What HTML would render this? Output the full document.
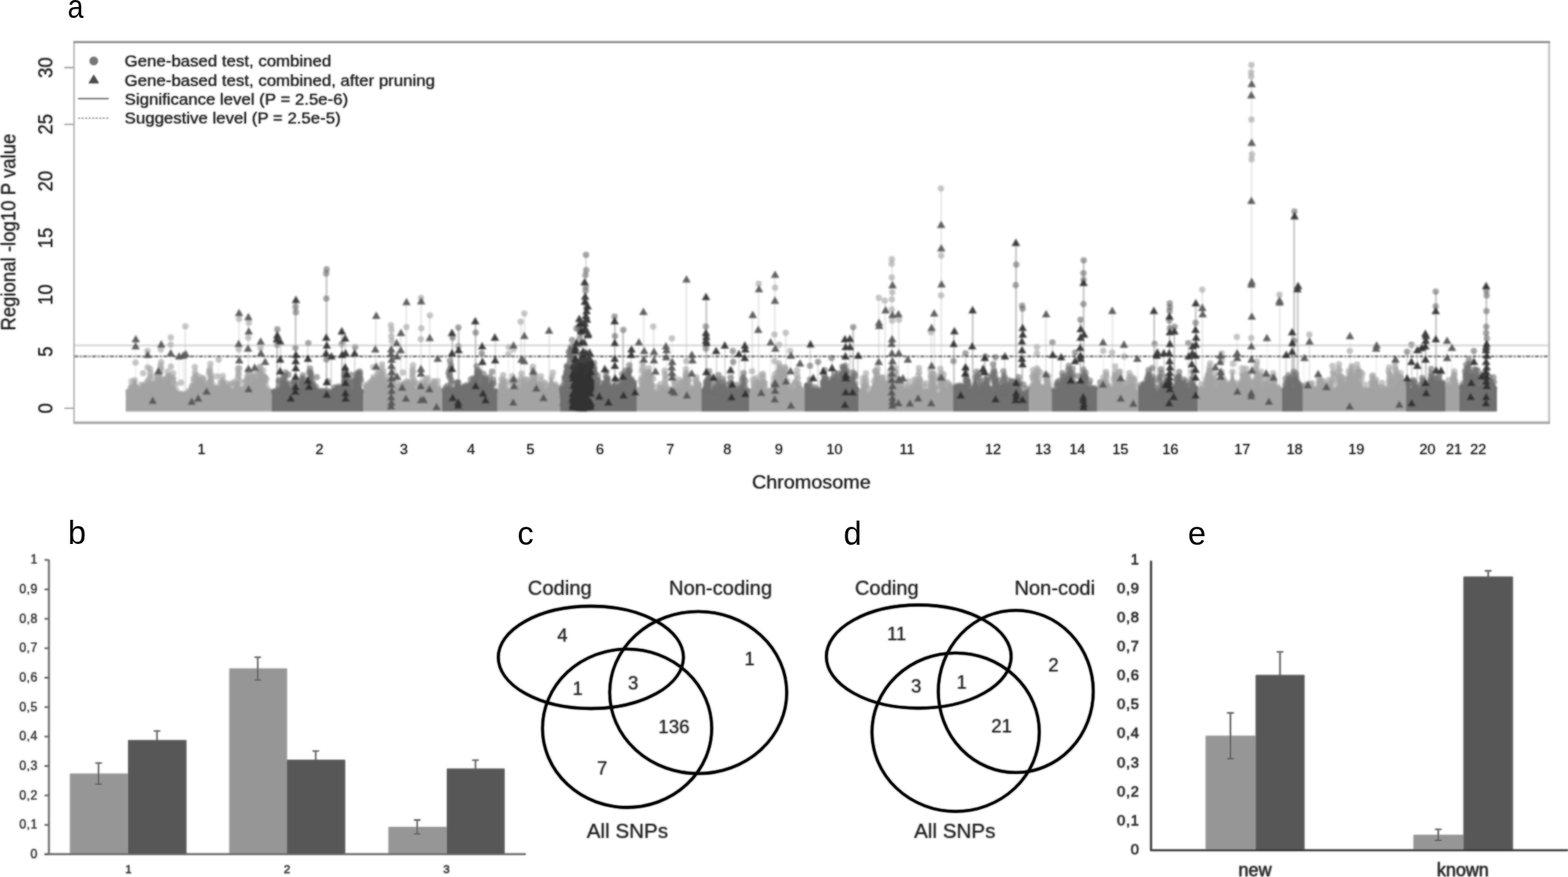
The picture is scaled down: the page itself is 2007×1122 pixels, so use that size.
<!DOCTYPE html>
<html lang="en"><head><meta charset="utf-8"><title>Figure</title><style>html,body{margin:0;padding:0;background:#fff}body{width:2007px;height:1122px;overflow:hidden}svg{display:block}</style></head><body>
<svg width="2007" height="1122" viewBox="0 0 2007 1122" font-family='"Liberation Sans", Arial, Helvetica, sans-serif'>
<defs><filter id="bl" filterUnits="userSpaceOnUse" x="0" y="0" width="2007" height="1122"><feGaussianBlur stdDeviation="1.0"/></filter><clipPath id="cpd"><rect x="1040" y="700" width="362" height="422"/></clipPath></defs>
<rect width="2007" height="1122" fill="#fff"/>
<g filter="url(#bl)">
<path d="M319.1 477.1V522.4M317.2 474.3V522.4M332.3 470.8V522.4M304.6 471.8V522.4M192 472.2V522.4M214.4 475.5V522.4M333.4 469V522.4M221.9 477.6V522.4M332.5 477V522.4M249.7 469.7V522.4M336.7 474.1V522.4M324.2 478.2V522.4M269.3 465.5V522.4M285 481.1V522.4M202.6 479.1V522.4M206.3 463.4V522.4M502.6 473.9V522.4M485.7 474.5V522.4M483.2 477.9V522.4M528.4 467.4V522.4M547.4 483.8V522.4M489.5 466.1V522.4M544.4 485.3V522.4M684.5 483.2V522.4M656.1 481.4V522.4M667.3 478.1V522.4M682.1 469V522.4M642.1 485.3V522.4M684.3 479.6V522.4M643.8 480V522.4M877.9 480.4V522.4M877.8 472.4V522.4M829.9 476.6V522.4M851 474.2V522.4M880.5 478.6V522.4M863 482.2V522.4M830.8 471.1V522.4M822.3 464.7V522.4M990.5 483.8V522.4M991.9 478.9V522.4M977.3 483.1V522.4M997.5 468.8V522.4M964.1 485.7V522.4M1020.4 473.9V522.4M997.4 465.2V522.4M1104.4 483.9V522.4M1191.6 473.7V522.4M1145.9 470.7V522.4M1204 471.8V522.4M1123.3 471.3V522.4M1176.3 471V522.4M1195.3 478V522.4M1193.7 478.7V522.4M1108.7 477.7V522.4M1322.1 473.5V522.4M1341.5 481V522.4M1339.1 479.5V522.4M1433.3 475.7V522.4M1426.7 483.3V522.4M1427.8 468.8V522.4M1445.8 477.3V522.4M1595.4 471.9V522.4M1613.7 475.7V522.4M1548.7 464.8V522.4M1546.7 480.3V522.4M1590.5 471V522.4M1608.7 462.5V522.4M1608.3 479.1V522.4M1554.6 478.4V522.4M1548 475V522.4M1623.3 483V522.4M1715.6 482.4V522.4M1713.8 466.1V522.4M1737.3 466.4V522.4M1778 470.1V522.4M1786.6 481.6V522.4M1705.8 468.2V522.4M1726.4 474.9V522.4M1785.5 463.1V522.4M1688 482.8V522.4M1729.8 471.1V522.4M1730.4 468.4V522.4M1861 475.2V522.4M173.7 434V522.4M189 449V522.4M205.8 440.6V522.4M219 431.8V522.4M229 456V522.4M234 455V522.4M238 453V522.4M280 460V522.4M334 437V522.4M340 463V522.4M508 439V522.4M560 459V522.4M657.5 442V522.4M651 444V522.4M687 497V522.4M818 438V522.4M853 443V522.4M860 432.8V522.4M886 454V522.4M986 438V522.4M997 441V522.4M1012 449V522.4M1024 465V522.4M1162 460V522.4M1327 444V522.4M1412 438V522.4M1434 484V522.4M1439 440.8V522.4M1456 459V522.4M1556 470V522.4M1562 455V522.4M1564 452V522.4M1583.6 431V522.4M1622 432.5V522.4M1669 458V522.4M1728 430V522.4M1761.6 442V522.4M1786 460V522.4M1852 436V522.4M1858 445V522.4" stroke="#a3a3a3" stroke-opacity="0.24" stroke-width="1.2" fill="none"/>
<path d="M397.7 476.8V522.4M448.6 479.6V522.4M396.6 471.7V522.4M441.9 476.9V522.4M387.3 480.4V522.4M444.6 481V522.4M441.5 473.5V522.4M363.1 480.7V522.4M387.5 484.2V522.4M576.2 461.6V522.4M618.6 478.3V522.4M610.1 468.5V522.4M805.5 467.4V522.4M733.5 481.2V522.4M725.7 469.1V522.4M725.8 468.7V522.4M776 475.6V522.4M737.4 476.1V522.4M755.1 466.2V522.4M743.2 475.2V522.4M760 464.3V522.4M925.1 484.9V522.4M907.9 475.1V522.4M951.5 477.3V522.4M919.7 479.9V522.4M1055.5 473.6V522.4M1078.8 469.1V522.4M1279.1 486.7V522.4M1253.5 478.3V522.4M1236 471.6V522.4M1271.4 466.1V522.4M1261.3 486V522.4M1263.4 481.5V522.4M1303.4 482.7V522.4M1273.3 478.2V522.4M1284.3 475.1V522.4M1290.7 486.4V522.4M1386.8 473V522.4M1360.2 477.5V522.4M1368.1 468.2V522.4M1355.7 487.4V522.4M1372.3 471.9V522.4M1526.7 475.6V522.4M1493.1 481.5V522.4M1486.1 472.6V522.4M1650.8 483.6V522.4M1656 475.5V522.4M1645.7 484.6V522.4M1649.2 480.1V522.4M1831.6 472.2V522.4M1842.7 478.3V522.4M1810.1 486.5V522.4M1902.8 478.1V522.4M1891.3 474.2V522.4M1898.2 477.9V522.4M1876.8 466.5V522.4M1880 460.4V522.4M750 326V522.4M750 345.6V522.4M750 352V522.4M750 367V522.4M750 372V522.4M750 388V522.4M750 394V522.4M359 437V522.4M394 439V522.4M424 456V522.4M442 433V522.4M454 444V522.4M586 515V522.4M617 443V522.4M621 512V522.4M634 431.8V522.4M808 447V522.4M813 502V522.4M913 483V522.4M917 449V522.4M928 442V522.4M937 492V522.4M938 449V522.4M946 453V522.4M953.5 442V522.4M1037 440.4V522.4M1047 463V522.4M1065 458V522.4M1082 434V522.4M1087.7 433.5V522.4M1098 455V522.4M1236 452V522.4M1260 458V522.4M1261 456V522.4M1274 457V522.4M1286 456V522.4M1347 438V522.4M1358 457V522.4M1376 451V522.4M1481 451V522.4M1490 452V522.4M1521 439V522.4M1526 443V522.4M1646 454V522.4M1801 450V522.4M1807 441V522.4M1814 448V522.4M1820 445V522.4M1883 490V522.4M1887 449V522.4" stroke="#6f6f6f" stroke-opacity="0.4" stroke-width="1.2" fill="none"/>
<path d="M237 417.5V522.4M306 400.4V522.4M318 405.7V522.4M481 404V522.4M501 416V522.4M513 426V522.4M520 386.5V522.4M539 381V522.4M550 403.6V522.4M667 411.6V522.4M671.4 401V522.4M703 423V522.4M824 399V522.4M836.6 417.8V522.4M878.5 357.4V522.4M963 402.8V522.4M971 363V522.4M991.8 351.5V522.4M1005.8 425.8V522.4M1125 381V522.4M1133 384.6V522.4M1141.8 331.6V522.4M1150.5 402V522.4M1192 419.5V522.4M1196 401V522.4M1204.6 241V522.4M1338.7 402V522.4M1424 397.7V522.4M1539 370.6V522.4M1602 83V522.4M1638 377V522.4M1676 428V522.4" stroke="#a3a3a3" stroke-opacity="0.42" stroke-width="1.3" fill="none"/>
<path d="M354.7 421.4V522.4M378.4 383.7V522.4M417.9 344.6V522.4M437.7 423.8V522.4M579 426V522.4M587 419V522.4M608.6 411V522.4M787 405V522.4M797.5 422V522.4M904 380V522.4M1092 418.5V522.4M1221 423.7V522.4M1245 396.8V522.4M1300.5 310.7V522.4M1308.5 391V522.4M1383 409V522.4M1387 333V522.4M1477.4 397.7V522.4M1497 388V522.4M1503 418V522.4M1530.5 388V522.4M1654 425V522.4M1656.5 270.5V522.4M1661 366V522.4M1825 427V522.4M1838 373V522.4M1902.5 366V522.4" stroke="#6f6f6f" stroke-opacity="0.7" stroke-width="1.3" fill="none"/>
<path d="M161 526.5L161 503.8L161 499.2L163 499.3L165 498.6L167 497.4L169 493L171 486.9L173 484.7L175 489.4L177 494.8L179 496.4L181.1 490.4L183.1 488.6L185.1 492.9L187.1 500.5L189.1 501.5L191.1 498.6L193.1 495L195.1 491.9L197.1 490.7L199.1 491.5L201.1 491.2L203.1 489.9L205.1 489.1L207.1 488.8L209.1 490L211.1 491.8L213.1 493.5L215.1 493.3L217.2 493L219.2 493.6L221.2 493.6L223.2 494.9L225.2 497.6L227.2 500L229.2 502.1L231.2 502.1L233.2 502.1L235.2 502.1L237.2 502.1L239.2 500.5L241.2 498.3L243.2 493.8L245.2 492.7L247.2 494.3L249.2 499.8L251.2 495.1L253.2 492.9L255.3 492.4L257.3 491.3L259.3 494.7L261.3 496.2L263.3 497L265.3 495.2L267.3 490.8L269.3 489.4L271.3 491.2L273.3 494.2L275.3 494.3L277.3 493.6L279.3 493.8L281.3 494.6L283.3 496.2L285.3 497.7L287.3 497.7L289.3 494.9L291.3 493.6L293.4 494.9L295.4 497.7L297.4 497.7L299.4 495L301.4 490.5L303.4 488.8L305.4 489.9L307.4 493.8L309.4 496.4L311.4 494.9L313.4 494.5L315.4 493.8L317.4 492.2L319.4 492.8L321.4 492.8L323.4 491.4L325.4 489.5L327.4 489.6L329.5 489.9L331.5 490.4L333.5 489.1L335.5 487.2L337.5 487.6L339.5 490.2L341.5 495.4L343.5 498.1L345.5 498.3L347.5 498.3L347.5 503.1L347.5 526.5Z" fill="#a3a3a3"/>
<path d="M347.5 526.5L347.5 503.9L347.5 499.2L349.5 499.3L351.6 499.3L353.6 497.7L355.6 498.5L357.7 498.9L359.7 497.7L361.7 493.1L363.8 489.1L365.8 488.4L367.8 490L369.9 494L371.9 496.9L373.9 495.2L376 494.2L378 494.8L380 497L382.1 497.7L384.1 498.3L386.1 498.8L388.2 498.9L390.2 498.3L392.2 498L394.3 495.3L396.3 491.5L398.3 489.6L400.4 489.6L402.4 490.8L404.4 493.3L406.4 497.3L408.5 498.3L410.5 498.3L412.5 498.3L414.6 498L416.6 497.7L418.6 499.1L420.7 499.9L422.7 499.9L424.7 499.2L426.8 496.3L428.8 494.1L430.8 493.1L432.9 492.8L434.9 493.2L436.9 494.1L439 494.7L441 494.9L443 495.2L445.1 495.7L447.1 496L449.1 499.6L451.2 499.4L453.2 490.3L455.2 485.6L457.3 484.4L459.3 485.9L461.3 490.6L463.4 497.8L465.4 498.9L465.4 503.6L465.4 526.5Z" fill="#6f6f6f"/>
<path d="M465.4 526.5L465.4 498.9L465.4 493L467.4 491.5L469.4 490.2L471.4 489.1L473.4 486.6L475.4 482.8L477.4 480.8L479.5 483.6L481.5 490.8L483.5 491.3L485.5 491.3L487.5 490.3L489.5 490.7L491.5 492L493.5 493.7L495.5 495.5L497.5 497.5L499.5 497.5L501.5 497.5L503.6 497.3L505.6 495.6L507.6 498.8L509.6 499.5L511.6 497.3L513.6 492.1L515.6 488L517.6 488.2L519.6 488.5L521.6 486L523.6 486.9L525.6 490L527.6 490.9L529.7 491.7L531.7 496.5L533.7 498.9L535.7 499L537.7 498L539.7 494L541.7 492.2L543.7 498.7L545.7 500.7L547.7 499.3L549.7 498.5L551.7 498.2L553.8 495.7L555.8 493.8L557.8 496.4L559.8 497.5L561.8 497.5L563.8 497.5L565.8 497.5L565.8 502.5L565.8 526.5Z" fill="#a3a3a3"/>
<path d="M565.8 526.5L565.8 502.6L565.8 497.6L567.8 497.9L569.9 497.5L571.9 497L573.9 497L575.9 497L578 497L580 497L582 497L584.1 497L586.1 497.5L588.1 495.9L590.1 494.2L592.2 493.1L594.2 492.4L596.2 491.8L598.3 491L600.3 490.6L602.3 490.3L604.3 490.2L606.4 490.3L608.4 489.2L610.4 482.2L612.5 484.4L614.5 491.1L616.5 492.3L618.5 493.6L620.6 495.6L622.6 496.9L624.6 497L626.7 491.8L628.7 484.8L630.7 489.8L632.7 498L634.8 498.2L636.8 497L636.8 502.1L636.8 526.5Z" fill="#6f6f6f"/>
<path d="M636.8 526.5L636.8 503.3L636.8 498.5L638.8 500.4L640.9 501.2L642.9 501L645 499.6L647 498.5L649.1 498.5L651.1 498.5L653.2 497.2L655.2 495.7L657.3 496.6L659.3 498.5L661.4 498.5L663.4 498.5L665.4 498.5L667.5 498.5L669.5 497.6L671.6 493.9L673.6 490.1L675.7 488.7L677.7 490.9L679.8 495.3L681.8 497L683.9 497.3L685.9 494.1L688 491.8L690 491L692 491.4L694.1 493.1L696.1 496.3L698.2 497.1L700.2 496.9L702.3 491.9L704.3 482.6L706.4 481L708.4 489.5L710.5 490L712.5 492.6L714.6 493.5L716.6 494.2L716.6 499.8L716.6 526.5Z" fill="#a3a3a3"/>
<path d="M716.6 526.5L716.6 500.3L716.6 494.8L718.6 496.1L720.6 496.6L722.6 491.9L724.6 484.9L726.6 485.4L728.6 488.2L730.7 490.8L732.7 495.8L734.7 497.1L736.7 497L738.7 495.3L740.7 495.3L742.7 495.3L744.7 495.3L746.7 494.4L748.7 490.9L750.7 488.4L752.7 486L754.8 483.3L756.8 481.8L758.8 481.5L760.8 482.4L762.8 486.8L764.8 491.3L766.8 495.2L768.8 494.5L770.8 486.6L772.8 488L774.8 491.1L776.8 495.3L778.9 495.3L780.9 495.3L782.9 493.1L784.9 491.5L786.9 491.7L788.9 493.7L790.9 492.7L792.9 491L794.9 489.6L796.9 488.4L798.9 486L800.9 483.9L803 482.4L805 482L807 482.7L809 483.3L811 484.7L813 487.5L815 491.6L815 497.8L815 526.5Z" fill="#6f6f6f"/>
<path d="M815 526.5L815 502.2L815 497.1L817 497.1L819 497.1L821.1 494.2L823.1 490.9L825.1 488.5L827.1 487.7L829.2 488.5L831.2 489.8L833.2 489.4L835.2 491.1L837.3 498.1L839.3 501.3L841.3 500.2L843.3 501L845.4 502.1L847.4 502.1L849.4 501.2L851.4 498L853.5 497.1L855.5 495.2L857.5 496.1L859.5 497.5L861.6 496.5L863.6 496L865.6 497.1L867.6 497.3L869.7 496.7L871.7 494.4L873.7 493.5L875.7 494L877.8 496L879.8 497.1L881.8 497.1L883.8 497.1L885.9 496.6L887.9 494.5L889.9 492.8L891.9 491.6L894 490.7L896 490.3L898 490.3L898 496.7L898 526.5Z" fill="#a3a3a3"/>
<path d="M898 526.5L898 502.9L898 498.1L900 498L902.1 495.8L904.1 494.1L906.2 493.9L908.2 496.1L910.2 499L912.3 499.2L914.3 499.4L916.4 499.6L918.4 499.9L920.4 502L922.5 502.1L924.5 499.7L926.6 501.5L928.6 502.1L930.6 501L932.7 493.5L934.7 488.6L936.8 489.9L938.8 496.8L940.8 496.7L942.9 496.6L944.9 496.7L947 494.8L949 492.1L951 492.4L953.1 495.7L955.1 498.1L957.2 498.1L959.2 498.1L959.2 502.9L959.2 526.5Z" fill="#6f6f6f"/>
<path d="M959.2 526.5L959.2 502.9L959.2 498.1L961.2 498.1L963.2 498.1L965.2 497.5L967.2 489L969.2 483.4L971.3 488.2L973.3 491L975.3 490.3L977.3 495L979.3 498.1L981.3 498.1L983.3 498.1L985.3 498.1L987.3 498.1L989.3 498.1L991.3 497.8L993.3 495.6L995.4 489L997.4 484.5L999.4 477.3L1001.4 476.4L1003.4 477.4L1005.4 479.6L1007.4 485.7L1009.4 496.7L1011.4 500.2L1013.4 499.6L1015.4 498.4L1017.4 498.3L1019.5 497.3L1021.5 496L1023.5 495.3L1025.5 495.7L1027.5 496.6L1029.5 498L1029.5 502.9L1029.5 526.5Z" fill="#a3a3a3"/>
<path d="M1029.5 526.5L1029.5 498L1029.5 491.8L1031.5 490.3L1033.6 491.1L1035.7 494.3L1037.7 497.5L1039.8 497.5L1041.8 497.5L1043.8 497.5L1045.9 497.5L1048 497.5L1050 497.5L1052 494.1L1054.1 491.6L1056.2 495.9L1058.2 497.5L1060.2 495.2L1062.3 487.7L1064.3 483.6L1066.4 482.8L1068.5 482.7L1070.5 482.7L1072.5 485.4L1074.6 485.8L1076.7 484.3L1078.7 483.1L1080.8 482.6L1082.8 483.2L1084.9 483.7L1086.9 483L1089 483.8L1091 484.2L1093 486L1095.1 489.2L1097.2 494.5L1099.2 496.1L1099.2 501.4L1099.2 526.5Z" fill="#6f6f6f"/>
<path d="M1099.2 526.5L1099.2 503.6L1099.2 498.9L1101.2 499.1L1103.2 498.8L1105.2 499.5L1107.3 500.6L1109.3 501.9L1111.3 502.1L1113.3 500.5L1115.3 496L1117.3 489.4L1119.3 486.5L1121.3 487.2L1123.4 490.8L1125.4 496L1127.4 495.7L1129.4 491.3L1131.4 486.3L1133.4 486.7L1135.4 490.2L1137.5 491.7L1139.5 486.7L1141.5 484.5L1143.5 484.4L1145.5 486.4L1147.5 490.5L1149.5 495.5L1151.5 496.8L1153.6 497.1L1155.6 496.8L1157.6 497.9L1159.6 498.9L1161.6 498.9L1163.6 498.9L1165.6 498.9L1167.7 497.5L1169.7 495.3L1171.7 494.7L1173.7 492.7L1175.7 490.8L1177.7 490.3L1179.7 493.2L1181.7 498.9L1183.8 498.9L1185.8 498.9L1187.8 499.8L1189.8 500.5L1191.8 501.1L1193.8 501.6L1195.8 501.8L1197.9 502.1L1199.9 502.1L1201.9 502.1L1203.9 495L1205.9 485.4L1207.9 487.4L1209.9 497.2L1211.9 497.7L1214 498.6L1216 491.8L1218 490.1L1220 496.9L1220 502L1220 526.5Z" fill="#a3a3a3"/>
<path d="M1220 526.5L1220 500L1220 494.4L1222 493.3L1224 492.5L1226.1 491.9L1228.1 491.6L1230.1 491.6L1232.2 491.8L1234.2 492.4L1236.2 494.1L1238.2 497.2L1240.2 498.7L1242.3 496.6L1244.3 494.8L1246.3 487.2L1248.3 481.2L1250.4 486.4L1252.4 498.6L1254.4 499.6L1256.5 498.9L1258.5 498.7L1260.5 498.7L1262.5 495.7L1264.5 494.2L1266.6 494.4L1268.6 495.1L1270.6 498L1272.7 501L1274.7 499.9L1276.7 499.8L1278.7 501.7L1280.8 502L1282.8 501.8L1284.8 501.5L1286.8 500.8L1288.9 500L1290.9 492.6L1292.9 491.5L1294.9 496.4L1297 498.7L1299 491.5L1301 489.2L1303 495.5L1305 498.7L1307.1 499.7L1309.1 501.9L1311.1 501.9L1313.2 500.3L1315.2 498.2L1317.2 495.4L1317.2 500.8L1317.2 526.5Z" fill="#6f6f6f"/>
<path d="M1317.2 526.5L1317.2 500.9L1317.2 495.5L1319.3 494.7L1321.3 494.1L1323.4 486L1325.5 479.4L1327.6 479.8L1329.6 484.1L1331.7 488.7L1333.8 493.1L1335.8 493.4L1337.9 493.8L1340 494.3L1342.1 495L1344.1 495.8L1346.2 496.7L1346.2 501.8L1346.2 526.5Z" fill="#a3a3a3"/>
<path d="M1346.2 526.5L1346.2 502.3L1346.2 497.3L1348.2 498.1L1350.2 498.6L1352.3 499L1354.3 499.1L1356.3 499L1358.3 492.9L1360.3 488.3L1362.3 488.8L1364.4 484.6L1366.4 485.5L1368.4 488.7L1370.4 488.3L1372.4 488.2L1374.4 488.4L1376.5 488.8L1378.5 490.2L1380.5 492.5L1382.5 493.4L1384.5 491.5L1386.5 485.2L1388.6 486.5L1390.6 492.4L1392.6 496.1L1394.6 497.2L1396.6 496.7L1398.6 495.3L1400.7 495L1402.7 494.9L1404.7 494.9L1404.7 500.4L1404.7 526.5Z" fill="#6f6f6f"/>
<path d="M1404.7 526.5L1404.7 494.4L1404.7 487.4L1406.7 486.9L1408.7 487L1410.7 487.8L1412.7 487.3L1414.8 486.5L1416.8 488L1418.8 490.5L1420.8 492.6L1422.8 496L1424.8 496L1426.8 492.8L1428.8 486.9L1430.8 488.7L1432.9 496L1434.9 497.1L1436.9 497.2L1438.9 496L1440.9 494.5L1442.9 495.6L1444.9 493.7L1446.9 491.1L1449 492.2L1451 496.1L1453 499.5L1455 499.4L1457 499.2L1457 503.8L1457 526.5Z" fill="#a3a3a3"/>
<path d="M1457 526.5L1457 500.3L1457 494.8L1459 493.4L1461 491L1463 488.8L1465 488.5L1467 486.1L1469 483.8L1471.1 484.2L1473.1 484.1L1475.1 490.9L1477.1 493.1L1479.1 498L1481.1 501.3L1483.1 501.1L1485.1 498.8L1487.1 498.2L1489.1 498.2L1491.1 498.2L1493.1 498.2L1495.2 498.2L1497.2 498.2L1499.2 497.1L1501.2 495.1L1503.2 490.9L1505.2 484.3L1507.2 480.4L1509.2 480.4L1511.2 483.7L1513.2 487.7L1515.2 492.4L1517.2 494.6L1519.2 496.5L1521.3 498.2L1523.3 498.2L1525.3 498.1L1527.3 495.5L1529.3 494.1L1531.3 493.9L1533.3 495L1533.3 500.5L1533.3 526.5Z" fill="#6f6f6f"/>
<path d="M1533.3 526.5L1533.3 501.3L1533.3 496L1535.3 496L1537.4 497.6L1539.4 498.5L1541.4 497.7L1543.5 493.4L1545.5 492.5L1547.5 494.9L1549.6 498.7L1551.6 496.3L1553.6 496L1555.7 496L1557.7 495.8L1559.7 490.5L1561.7 486.3L1563.8 484L1565.8 483.4L1567.8 484.6L1569.9 487.6L1571.9 490.6L1573.9 489.7L1576 477.1L1578 474.2L1580 484.3L1582.1 488.8L1584.1 494L1586.1 490.3L1588.2 487.6L1590.2 487.1L1592.2 484.4L1594.3 485.5L1596.3 485.3L1598.3 486.7L1600.4 490.8L1602.4 496.3L1604.4 496.9L1606.5 497L1608.5 497L1610.5 496.9L1612.6 496.8L1614.6 496.6L1616.6 495L1618.6 494L1620.7 494L1622.7 494.9L1624.7 493.1L1626.8 490.4L1628.8 489.1L1630.8 490.1L1632.9 492.3L1634.9 493.5L1636.9 494.4L1639 496L1641 496.8L1641 501.9L1641 526.5Z" fill="#a3a3a3"/>
<path d="M1641 526.5L1641 501.9L1641 496.8L1643.1 496.9L1645.1 496.9L1647.2 496.9L1649.2 496.9L1651.3 496.8L1653.4 496.5L1655.4 496.2L1657.5 484.5L1659.6 481.3L1661.6 487.4L1663.7 488.1L1665.7 490.8L1667.8 495.6L1667.8 501L1667.8 526.5Z" fill="#6f6f6f"/>
<path d="M1667.8 526.5L1667.8 497.1L1667.8 490.8L1669.8 491.2L1671.8 494.9L1673.9 497L1675.9 497L1677.9 497L1679.9 497L1682 497L1684 497L1686 496.2L1688 494.5L1690.1 493.5L1692.1 493.2L1694.1 493.7L1696.1 494.9L1698.2 496.9L1700.2 496.1L1702.2 495.9L1704.2 496.6L1706.3 497.7L1708.3 497.7L1710.3 497.8L1712.3 497.8L1714.4 495.7L1716.4 493.5L1718.4 492.5L1720.4 492.1L1722.5 491.6L1724.5 491.1L1726.5 490.5L1728.5 487L1730.6 482.7L1732.6 482.4L1734.6 479.2L1736.6 481.1L1738.7 486.5L1740.7 488.5L1742.7 491.1L1744.7 497L1746.8 497L1748.8 497L1750.8 497L1752.8 495.6L1754.9 487.6L1756.9 487.9L1758.9 489L1760.9 484.1L1763 485.3L1765 493.5L1767 496.4L1769 498.9L1771.1 495.6L1773.1 494.6L1775.1 495.3L1777.1 497.6L1779.2 498.9L1781.2 498.6L1783.2 498.3L1785.2 494.5L1787.3 493.1L1789.3 487.5L1791.3 486.6L1793.3 487.2L1795.4 486L1797.4 487.3L1799.4 489.3L1799.4 496L1799.4 526.5Z" fill="#a3a3a3"/>
<path d="M1799.4 526.5L1799.4 495.8L1799.4 489.1L1801.4 485.9L1803.4 488.3L1805.5 495.3L1807.5 499.6L1809.5 499.6L1811.5 501.2L1813.6 501.8L1815.6 499.2L1817.6 496.6L1819.6 493.2L1821.7 492.1L1823.7 493L1825.7 494.7L1827.7 495L1829.8 492.5L1831.8 491.2L1833.8 490.5L1835.8 489.9L1837.9 488.1L1839.9 489.8L1841.9 490.9L1843.9 488.3L1846 487.8L1848 487.9L1850 488.6L1850 495.4L1850 526.5Z" fill="#6f6f6f"/>
<path d="M1850 526.5L1850 497.9L1850 491.8L1852 491.5L1854 491.3L1856 492.4L1858 491.2L1860 487.2L1862 485.5L1864 486.3L1866 491.2L1868 494.5L1868 500.1L1868 526.5Z" fill="#a3a3a3"/>
<path d="M1868 526.5L1868 499.6L1868 493.9L1870 493.4L1872 493.1L1874 492.8L1876 492.7L1878 490L1880 482.8L1882 477.2L1884 475.3L1886 476.9L1888 482.1L1890 490.5L1892 495.4L1894 493.5L1896 492.1L1898 492.4L1900 495.5L1902 493.5L1904 492.9L1906 489.8L1908 485.9L1910 485L1912 487.3L1914 492.8L1916 495.4L1916 500.8L1916 526.5Z" fill="#6f6f6f"/>
<g fill="#a3a3a3" fill-opacity="0.62">
<circle cx="164.5" cy="501" r="4.1"/><circle cx="165.7" cy="500.4" r="4.1"/><circle cx="168.5" cy="494.7" r="4.1"/><circle cx="172.5" cy="486.5" r="4.1"/><circle cx="176.6" cy="496.6" r="4.1"/><circle cx="180.6" cy="492.1" r="4.1"/><circle cx="185" cy="494.6" r="4.1"/><circle cx="189.2" cy="503.3" r="4.1"/><circle cx="192.7" cy="496.7" r="4.1"/><circle cx="196.3" cy="492.4" r="4.1"/><circle cx="201" cy="492.9" r="4.1"/><circle cx="204.9" cy="490.9" r="4.1"/><circle cx="209.2" cy="491.7" r="4.1"/><circle cx="213.9" cy="495.2" r="4.1"/><circle cx="217.5" cy="494.7" r="4.1"/><circle cx="221.2" cy="495.3" r="4.1"/><circle cx="225.4" cy="499.4" r="4.1"/><circle cx="229.5" cy="503.8" r="4.1"/><circle cx="232.5" cy="503.8" r="4.1"/><circle cx="237.8" cy="503.8" r="4.1"/><circle cx="241.7" cy="500.1" r="4.1"/><circle cx="245.8" cy="494.5" r="4.1"/><circle cx="249.7" cy="501.5" r="4.1"/><circle cx="253.1" cy="494.6" r="4.1"/><circle cx="257.1" cy="493.1" r="4.1"/><circle cx="260.6" cy="497.9" r="4.1"/><circle cx="265.5" cy="497" r="4.1"/><circle cx="268.6" cy="491.2" r="4.1"/><circle cx="272.6" cy="495.9" r="4.1"/><circle cx="276.8" cy="495.4" r="4.1"/><circle cx="280.8" cy="496.3" r="4.1"/><circle cx="285.1" cy="499.5" r="4.1"/><circle cx="288.6" cy="496.7" r="4.1"/><circle cx="292.6" cy="496.6" r="4.1"/><circle cx="296.8" cy="499.5" r="4.1"/><circle cx="300.7" cy="492.3" r="4.1"/><circle cx="305.2" cy="491.7" r="4.1"/><circle cx="308.6" cy="498.2" r="4.1"/><circle cx="314" cy="496.2" r="4.1"/><circle cx="317.6" cy="494" r="4.1"/><circle cx="320.9" cy="494.5" r="4.1"/><circle cx="325" cy="491.3" r="4.1"/><circle cx="329.2" cy="491.6" r="4.1"/><circle cx="333.2" cy="490.9" r="4.1"/><circle cx="336.9" cy="489.3" r="4.1"/><circle cx="342" cy="497.1" r="4.1"/><circle cx="344" cy="500" r="4.1"/><circle cx="247.8" cy="484.3" r="4.1"/><circle cx="247.9" cy="488.9" r="4.1"/><circle cx="249.2" cy="491.8" r="4.1"/><circle cx="246.2" cy="494.4" r="4.1"/><circle cx="259.3" cy="489.5" r="4.1"/><circle cx="259.3" cy="493.9" r="4.1"/><circle cx="318.9" cy="477.1" r="4.1"/><circle cx="318.5" cy="482.5" r="4.1"/><circle cx="319.2" cy="486.4" r="4.1"/><circle cx="318.4" cy="490.3" r="4.1"/><circle cx="320.7" cy="493.1" r="4.1"/><circle cx="317.4" cy="474.3" r="4.1"/><circle cx="316.7" cy="480.8" r="4.1"/><circle cx="316.8" cy="484.2" r="4.1"/><circle cx="315.3" cy="486.6" r="4.1"/><circle cx="315.9" cy="489.5" r="4.1"/><circle cx="320.1" cy="493.2" r="4.1"/><circle cx="332.1" cy="470.8" r="4.1"/><circle cx="331.7" cy="475.8" r="4.1"/><circle cx="331.4" cy="478.5" r="4.1"/><circle cx="333.9" cy="482.1" r="4.1"/><circle cx="332.2" cy="486.1" r="4.1"/><circle cx="334.1" cy="489.8" r="4.1"/><circle cx="333.4" cy="492.3" r="4.1"/><circle cx="304.6" cy="471.8" r="4.1"/><circle cx="305.2" cy="476.7" r="4.1"/><circle cx="305.5" cy="479.7" r="4.1"/><circle cx="304.2" cy="484" r="4.1"/><circle cx="307" cy="487.1" r="4.1"/><circle cx="302.6" cy="490.9" r="4.1"/><circle cx="192.2" cy="472.2" r="4.1"/><circle cx="192.6" cy="477" r="4.1"/><circle cx="192.5" cy="481.3" r="4.1"/><circle cx="192.2" cy="484.3" r="4.1"/><circle cx="189.5" cy="486.9" r="4.1"/><circle cx="192.9" cy="491.2" r="4.1"/><circle cx="195.2" cy="494.6" r="4.1"/><circle cx="195.1" cy="497.8" r="4.1"/><circle cx="202.5" cy="484.7" r="4.1"/><circle cx="202.8" cy="489.8" r="4.1"/><circle cx="202.4" cy="492.7" r="4.1"/><circle cx="327.4" cy="481.7" r="4.1"/><circle cx="328.2" cy="487.7" r="4.1"/><circle cx="328.7" cy="490.9" r="4.1"/><circle cx="259.5" cy="483.8" r="4.1"/><circle cx="259.3" cy="489.5" r="4.1"/><circle cx="260.8" cy="491.8" r="4.1"/><circle cx="259.8" cy="494.5" r="4.1"/><circle cx="264.3" cy="489.5" r="4.1"/><circle cx="264.9" cy="495.5" r="4.1"/><circle cx="264.5" cy="498" r="4.1"/><circle cx="214.4" cy="475.5" r="4.1"/><circle cx="214.9" cy="481.5" r="4.1"/><circle cx="214.3" cy="485.7" r="4.1"/><circle cx="214.5" cy="489.2" r="4.1"/><circle cx="215.4" cy="492.6" r="4.1"/><circle cx="260.5" cy="484.7" r="4.1"/><circle cx="260.9" cy="491.1" r="4.1"/><circle cx="259.5" cy="495.4" r="4.1"/><circle cx="333.1" cy="469" r="4.1"/><circle cx="333.3" cy="473.7" r="4.1"/><circle cx="332.6" cy="476.2" r="4.1"/><circle cx="334.1" cy="478.7" r="4.1"/><circle cx="335.4" cy="482.6" r="4.1"/><circle cx="334.7" cy="485.2" r="4.1"/><circle cx="330.7" cy="488.9" r="4.1"/><circle cx="338.1" cy="481.5" r="4.1"/><circle cx="337.7" cy="487.1" r="4.1"/><circle cx="313.5" cy="489.1" r="4.1"/><circle cx="313.3" cy="495" r="4.1"/><circle cx="221.5" cy="477.6" r="4.1"/><circle cx="221.7" cy="483.5" r="4.1"/><circle cx="221.4" cy="485.9" r="4.1"/><circle cx="221.9" cy="489.5" r="4.1"/><circle cx="224.4" cy="491.9" r="4.1"/><circle cx="338.3" cy="482.9" r="4.1"/><circle cx="339" cy="487.3" r="4.1"/><circle cx="188.5" cy="491.6" r="4.1"/><circle cx="187.7" cy="498.3" r="4.1"/><circle cx="189.4" cy="500.9" r="4.1"/><circle cx="289.7" cy="490.4" r="4.1"/><circle cx="289.9" cy="496.8" r="4.1"/><circle cx="332.7" cy="477" r="4.1"/><circle cx="333.2" cy="481.6" r="4.1"/><circle cx="333.6" cy="484.1" r="4.1"/><circle cx="331.8" cy="487.3" r="4.1"/><circle cx="334.7" cy="490.8" r="4.1"/><circle cx="187.9" cy="489.6" r="4.1"/><circle cx="187.4" cy="494.3" r="4.1"/><circle cx="187.2" cy="496.7" r="4.1"/><circle cx="187.3" cy="499.7" r="4.1"/><circle cx="216.5" cy="483" r="4.1"/><circle cx="215.8" cy="488.3" r="4.1"/><circle cx="215.3" cy="491.2" r="4.1"/><circle cx="217" cy="495" r="4.1"/><circle cx="249.4" cy="469.7" r="4.1"/><circle cx="249.6" cy="476.4" r="4.1"/><circle cx="250.7" cy="479.8" r="4.1"/><circle cx="249.8" cy="482.9" r="4.1"/><circle cx="252.3" cy="486.6" r="4.1"/><circle cx="251.8" cy="489.7" r="4.1"/><circle cx="250.8" cy="493.4" r="4.1"/><circle cx="248.4" cy="496.6" r="4.1"/><circle cx="246.4" cy="499" r="4.1"/><circle cx="251.9" cy="501.5" r="4.1"/><circle cx="194.4" cy="490.5" r="4.1"/><circle cx="284.5" cy="489.3" r="4.1"/><circle cx="284.6" cy="494.5" r="4.1"/><circle cx="284.5" cy="497.2" r="4.1"/><circle cx="336.5" cy="474.1" r="4.1"/><circle cx="336.3" cy="481.3" r="4.1"/><circle cx="335.2" cy="484.3" r="4.1"/><circle cx="336.6" cy="487.4" r="4.1"/><circle cx="200.5" cy="481" r="4.1"/><circle cx="200.1" cy="486.1" r="4.1"/><circle cx="199.5" cy="489.3" r="4.1"/><circle cx="200.1" cy="491.7" r="4.1"/><circle cx="269.7" cy="478.5" r="4.1"/><circle cx="269.9" cy="484.7" r="4.1"/><circle cx="269.2" cy="488.9" r="4.1"/><circle cx="341" cy="485" r="4.1"/><circle cx="339.9" cy="491.3" r="4.1"/><circle cx="324.4" cy="478.2" r="4.1"/><circle cx="323.5" cy="484.9" r="4.1"/><circle cx="324.2" cy="488.3" r="4.1"/><circle cx="325.5" cy="492.4" r="4.1"/><circle cx="269.4" cy="465.5" r="4.1"/><circle cx="268.7" cy="471.9" r="4.1"/><circle cx="268.2" cy="474.3" r="4.1"/><circle cx="267.6" cy="477.4" r="4.1"/><circle cx="269.6" cy="481.4" r="4.1"/><circle cx="270.1" cy="485" r="4.1"/><circle cx="269.2" cy="488.7" r="4.1"/><circle cx="271.8" cy="491" r="4.1"/><circle cx="254.9" cy="481.8" r="4.1"/><circle cx="255.2" cy="486.4" r="4.1"/><circle cx="253.5" cy="489.2" r="4.1"/><circle cx="255.7" cy="492.1" r="4.1"/><circle cx="256" cy="494.8" r="4.1"/><circle cx="253.2" cy="486.8" r="4.1"/><circle cx="253.7" cy="493.1" r="4.1"/><circle cx="253.6" cy="496.7" r="4.1"/><circle cx="191.5" cy="492.1" r="4.1"/><circle cx="191.4" cy="497.4" r="4.1"/><circle cx="190" cy="499.7" r="4.1"/><circle cx="285.1" cy="481.1" r="4.1"/><circle cx="285" cy="486.3" r="4.1"/><circle cx="284.9" cy="489.6" r="4.1"/><circle cx="286.6" cy="492.1" r="4.1"/><circle cx="287.4" cy="494.9" r="4.1"/><circle cx="168.4" cy="487.8" r="4.1"/><circle cx="168" cy="495" r="4.1"/><circle cx="167.3" cy="497.8" r="4.1"/><circle cx="202.3" cy="479.1" r="4.1"/><circle cx="203.5" cy="485" r="4.1"/><circle cx="203.6" cy="487.6" r="4.1"/><circle cx="204.2" cy="491" r="4.1"/><circle cx="206.3" cy="463.4" r="4.1"/><circle cx="205.4" cy="467.8" r="4.1"/><circle cx="206.2" cy="471.2" r="4.1"/><circle cx="204.8" cy="474.1" r="4.1"/><circle cx="205.3" cy="477.1" r="4.1"/><circle cx="203.2" cy="481.1" r="4.1"/><circle cx="208.8" cy="485" r="4.1"/><circle cx="209.9" cy="487.6" r="4.1"/><circle cx="325.8" cy="482.6" r="4.1"/><circle cx="326.9" cy="488.1" r="4.1"/><circle cx="325.5" cy="491.6" r="4.1"/><circle cx="214.1" cy="491.4" r="4.1"/><circle cx="183.2" cy="477.5" r="4.1"/><circle cx="216" cy="481" r="4.1"/><circle cx="209.5" cy="485.4" r="4.1"/><circle cx="256.2" cy="488.8" r="4.1"/><circle cx="231.6" cy="489.5" r="4.1"/><circle cx="322.8" cy="481.9" r="4.1"/><circle cx="277.6" cy="481.6" r="4.1"/><circle cx="332.9" cy="482.5" r="4.1"/><circle cx="293.4" cy="492.9" r="4.1"/><circle cx="295.7" cy="491" r="4.1"/><circle cx="299.4" cy="488.8" r="4.1"/><circle cx="216.1" cy="491.3" r="4.1"/><circle cx="330.4" cy="487" r="4.1"/><circle cx="249.3" cy="494.3" r="4.1"/><circle cx="218.2" cy="482.9" r="4.1"/><circle cx="339.3" cy="483.1" r="4.1"/><circle cx="282.1" cy="489.6" r="4.1"/><circle cx="468.9" cy="494.8" r="4.1"/><circle cx="469.4" cy="491.9" r="4.1"/><circle cx="474.2" cy="488.3" r="4.1"/><circle cx="478.1" cy="482.5" r="4.1"/><circle cx="480.9" cy="492.6" r="4.1"/><circle cx="485.9" cy="493.1" r="4.1"/><circle cx="490.2" cy="492.4" r="4.1"/><circle cx="492.8" cy="495.4" r="4.1"/><circle cx="497.3" cy="499.2" r="4.1"/><circle cx="502" cy="499.2" r="4.1"/><circle cx="505" cy="497.3" r="4.1"/><circle cx="510.2" cy="501.3" r="4.1"/><circle cx="513.2" cy="493.8" r="4.1"/><circle cx="518.1" cy="489.9" r="4.1"/><circle cx="521.1" cy="487.8" r="4.1"/><circle cx="525.6" cy="491.7" r="4.1"/><circle cx="530.3" cy="493.4" r="4.1"/><circle cx="533.2" cy="500.6" r="4.1"/><circle cx="537.3" cy="499.7" r="4.1"/><circle cx="541.7" cy="493.9" r="4.1"/><circle cx="545.4" cy="502.4" r="4.1"/><circle cx="549" cy="500.2" r="4.1"/><circle cx="553.2" cy="497.4" r="4.1"/><circle cx="557.2" cy="498.1" r="4.1"/><circle cx="562.3" cy="499.2" r="4.1"/><circle cx="562.3" cy="499.2" r="4.1"/><circle cx="552.4" cy="492.8" r="4.1"/><circle cx="552.2" cy="497.5" r="4.1"/><circle cx="502.7" cy="473.9" r="4.1"/><circle cx="503.4" cy="479.9" r="4.1"/><circle cx="504.1" cy="482.4" r="4.1"/><circle cx="502.2" cy="486.1" r="4.1"/><circle cx="501.4" cy="490" r="4.1"/><circle cx="503.1" cy="494.3" r="4.1"/><circle cx="504.6" cy="497.4" r="4.1"/><circle cx="485.4" cy="474.5" r="4.1"/><circle cx="485.3" cy="481.2" r="4.1"/><circle cx="487.2" cy="484.9" r="4.1"/><circle cx="486.4" cy="488.4" r="4.1"/><circle cx="483.1" cy="491.3" r="4.1"/><circle cx="483.1" cy="477.9" r="4.1"/><circle cx="484" cy="483.8" r="4.1"/><circle cx="482.4" cy="486.4" r="4.1"/><circle cx="481.2" cy="490" r="4.1"/><circle cx="482.4" cy="492.4" r="4.1"/><circle cx="502.5" cy="491.4" r="4.1"/><circle cx="501.8" cy="497.5" r="4.1"/><circle cx="513.6" cy="492.3" r="4.1"/><circle cx="512.6" cy="497.3" r="4.1"/><circle cx="528.6" cy="467.4" r="4.1"/><circle cx="527.9" cy="473" r="4.1"/><circle cx="528.8" cy="475.3" r="4.1"/><circle cx="527.8" cy="478.8" r="4.1"/><circle cx="528.1" cy="482.4" r="4.1"/><circle cx="529.8" cy="486.6" r="4.1"/><circle cx="531.4" cy="489.5" r="4.1"/><circle cx="528.6" cy="491.9" r="4.1"/><circle cx="491.6" cy="486.4" r="4.1"/><circle cx="491.5" cy="490.8" r="4.1"/><circle cx="482.6" cy="485.1" r="4.1"/><circle cx="482.8" cy="490.9" r="4.1"/><circle cx="485.4" cy="484.1" r="4.1"/><circle cx="486.3" cy="488.6" r="4.1"/><circle cx="486.2" cy="492.5" r="4.1"/><circle cx="547.4" cy="483.8" r="4.1"/><circle cx="547.3" cy="490.3" r="4.1"/><circle cx="546.2" cy="493.1" r="4.1"/><circle cx="545.5" cy="495.9" r="4.1"/><circle cx="548.7" cy="498.9" r="4.1"/><circle cx="549.6" cy="502.6" r="4.1"/><circle cx="493.9" cy="482.2" r="4.1"/><circle cx="494" cy="488.9" r="4.1"/><circle cx="494.4" cy="491.7" r="4.1"/><circle cx="489.1" cy="466.1" r="4.1"/><circle cx="488.9" cy="471.2" r="4.1"/><circle cx="490.8" cy="475.1" r="4.1"/><circle cx="488.7" cy="478.9" r="4.1"/><circle cx="488.6" cy="483" r="4.1"/><circle cx="492" cy="485.8" r="4.1"/><circle cx="490.9" cy="489.4" r="4.1"/><circle cx="560.1" cy="487.7" r="4.1"/><circle cx="560.5" cy="494.1" r="4.1"/><circle cx="560.5" cy="497.3" r="4.1"/><circle cx="497.9" cy="491.5" r="4.1"/><circle cx="498.6" cy="496.1" r="4.1"/><circle cx="496.4" cy="498.7" r="4.1"/><circle cx="554.9" cy="487.9" r="4.1"/><circle cx="554.4" cy="492.4" r="4.1"/><circle cx="555.6" cy="496.1" r="4.1"/><circle cx="537.6" cy="494.7" r="4.1"/><circle cx="538.1" cy="500.1" r="4.1"/><circle cx="552" cy="493.9" r="4.1"/><circle cx="556.4" cy="489" r="4.1"/><circle cx="555.8" cy="493.7" r="4.1"/><circle cx="544.7" cy="485.3" r="4.1"/><circle cx="544" cy="491.5" r="4.1"/><circle cx="543.2" cy="494" r="4.1"/><circle cx="543.2" cy="497.9" r="4.1"/><circle cx="508.4" cy="495" r="4.1"/><circle cx="509" cy="500.1" r="4.1"/><circle cx="499" cy="484.8" r="4.1"/><circle cx="515.9" cy="476.7" r="4.1"/><circle cx="526.5" cy="488.2" r="4.1"/><circle cx="507.6" cy="489.1" r="4.1"/><circle cx="540.8" cy="488.5" r="4.1"/><circle cx="534.5" cy="491.2" r="4.1"/><circle cx="489.4" cy="478.8" r="4.1"/><circle cx="477.8" cy="469.8" r="4.1"/><circle cx="485.1" cy="489.9" r="4.1"/><circle cx="488.1" cy="480" r="4.1"/><circle cx="640.3" cy="500.2" r="4.1"/><circle cx="640.3" cy="503" r="4.1"/><circle cx="645.2" cy="501.4" r="4.1"/><circle cx="649.4" cy="500.2" r="4.1"/><circle cx="653.9" cy="499" r="4.1"/><circle cx="657" cy="498.3" r="4.1"/><circle cx="662.1" cy="500.2" r="4.1"/><circle cx="665.5" cy="500.2" r="4.1"/><circle cx="669.5" cy="499.3" r="4.1"/><circle cx="674.3" cy="491.9" r="4.1"/><circle cx="677" cy="492.6" r="4.1"/><circle cx="682.2" cy="498.7" r="4.1"/><circle cx="686.1" cy="495.9" r="4.1"/><circle cx="689.7" cy="492.7" r="4.1"/><circle cx="694.7" cy="494.8" r="4.1"/><circle cx="698" cy="498.9" r="4.1"/><circle cx="702.2" cy="493.7" r="4.1"/><circle cx="706.4" cy="482.8" r="4.1"/><circle cx="710.9" cy="491.7" r="4.1"/><circle cx="713.1" cy="495.3" r="4.1"/><circle cx="672.1" cy="485" r="4.1"/><circle cx="671.7" cy="491.7" r="4.1"/><circle cx="671.8" cy="495.7" r="4.1"/><circle cx="660.7" cy="488" r="4.1"/><circle cx="660.9" cy="494.3" r="4.1"/><circle cx="659.8" cy="497.3" r="4.1"/><circle cx="660.7" cy="500.2" r="4.1"/><circle cx="697.3" cy="492.2" r="4.1"/><circle cx="679.8" cy="491.1" r="4.1"/><circle cx="679.4" cy="495.5" r="4.1"/><circle cx="684.7" cy="483.2" r="4.1"/><circle cx="684.7" cy="490.2" r="4.1"/><circle cx="684.9" cy="493.8" r="4.1"/><circle cx="684.9" cy="497.6" r="4.1"/><circle cx="656" cy="481.4" r="4.1"/><circle cx="655.3" cy="488" r="4.1"/><circle cx="654.7" cy="490.7" r="4.1"/><circle cx="657.8" cy="494.6" r="4.1"/><circle cx="667.5" cy="478.1" r="4.1"/><circle cx="666.8" cy="484.1" r="4.1"/><circle cx="667.1" cy="487" r="4.1"/><circle cx="667" cy="490" r="4.1"/><circle cx="669.5" cy="493.6" r="4.1"/><circle cx="667.7" cy="496.1" r="4.1"/><circle cx="664.5" cy="498.5" r="4.1"/><circle cx="682.1" cy="469" r="4.1"/><circle cx="681.9" cy="473.4" r="4.1"/><circle cx="683.4" cy="477" r="4.1"/><circle cx="682" cy="481.3" r="4.1"/><circle cx="680" cy="484.4" r="4.1"/><circle cx="680.3" cy="488.1" r="4.1"/><circle cx="678.5" cy="490.7" r="4.1"/><circle cx="683.7" cy="493" r="4.1"/><circle cx="686.3" cy="495.6" r="4.1"/><circle cx="685.4" cy="498.1" r="4.1"/><circle cx="641.9" cy="485.3" r="4.1"/><circle cx="641.5" cy="491.8" r="4.1"/><circle cx="642.9" cy="494.2" r="4.1"/><circle cx="643.5" cy="498" r="4.1"/><circle cx="640.3" cy="501.8" r="4.1"/><circle cx="692.1" cy="481.4" r="4.1"/><circle cx="692.6" cy="486.5" r="4.1"/><circle cx="690.3" cy="490.2" r="4.1"/><circle cx="692.3" cy="492.6" r="4.1"/><circle cx="646.7" cy="492.4" r="4.1"/><circle cx="647.2" cy="497.2" r="4.1"/><circle cx="645.2" cy="500.6" r="4.1"/><circle cx="682.2" cy="487.7" r="4.1"/><circle cx="682.6" cy="492.5" r="4.1"/><circle cx="682.5" cy="495.6" r="4.1"/><circle cx="671" cy="489.2" r="4.1"/><circle cx="671.4" cy="496.3" r="4.1"/><circle cx="662.2" cy="494.2" r="4.1"/><circle cx="662.4" cy="500.7" r="4.1"/><circle cx="684.4" cy="479.6" r="4.1"/><circle cx="684.2" cy="484.9" r="4.1"/><circle cx="683.9" cy="489" r="4.1"/><circle cx="684.7" cy="492.7" r="4.1"/><circle cx="685.9" cy="496.9" r="4.1"/><circle cx="640.9" cy="494.6" r="4.1"/><circle cx="641.5" cy="500.7" r="4.1"/><circle cx="644.1" cy="480" r="4.1"/><circle cx="644" cy="486.9" r="4.1"/><circle cx="644.9" cy="489.8" r="4.1"/><circle cx="644.6" cy="493.7" r="4.1"/><circle cx="643" cy="497.9" r="4.1"/><circle cx="644.2" cy="500.4" r="4.1"/><circle cx="655.2" cy="487.1" r="4.1"/><circle cx="707.7" cy="476.8" r="4.1"/><circle cx="684.4" cy="487.9" r="4.1"/><circle cx="674.2" cy="486.3" r="4.1"/><circle cx="659.1" cy="486.4" r="4.1"/><circle cx="697.6" cy="489.5" r="4.1"/><circle cx="647.1" cy="487.7" r="4.1"/><circle cx="818.5" cy="498.9" r="4.1"/><circle cx="818.5" cy="498.9" r="4.1"/><circle cx="822.9" cy="492.7" r="4.1"/><circle cx="827.1" cy="489.4" r="4.1"/><circle cx="831.6" cy="491.5" r="4.1"/><circle cx="834.6" cy="492.8" r="4.1"/><circle cx="838.9" cy="503" r="4.1"/><circle cx="844.1" cy="502.8" r="4.1"/><circle cx="847.8" cy="503.8" r="4.1"/><circle cx="850.9" cy="499.8" r="4.1"/><circle cx="855.2" cy="497" r="4.1"/><circle cx="859.3" cy="499.2" r="4.1"/><circle cx="863.9" cy="497.7" r="4.1"/><circle cx="867.8" cy="499" r="4.1"/><circle cx="872.2" cy="496.1" r="4.1"/><circle cx="876.2" cy="495.7" r="4.1"/><circle cx="879.8" cy="498.9" r="4.1"/><circle cx="884.2" cy="498.9" r="4.1"/><circle cx="888.3" cy="496.3" r="4.1"/><circle cx="892.3" cy="493.3" r="4.1"/><circle cx="894.5" cy="492.1" r="4.1"/><circle cx="878.2" cy="480.4" r="4.1"/><circle cx="878.6" cy="485.1" r="4.1"/><circle cx="878.7" cy="487.5" r="4.1"/><circle cx="877.9" cy="491" r="4.1"/><circle cx="878.2" cy="495.3" r="4.1"/><circle cx="877.9" cy="472.4" r="4.1"/><circle cx="877.7" cy="477.8" r="4.1"/><circle cx="878.4" cy="481.1" r="4.1"/><circle cx="877.3" cy="484" r="4.1"/><circle cx="877.2" cy="487.5" r="4.1"/><circle cx="879.6" cy="490.4" r="4.1"/><circle cx="877.8" cy="494.5" r="4.1"/><circle cx="875.1" cy="497.7" r="4.1"/><circle cx="829.9" cy="476.6" r="4.1"/><circle cx="830.7" cy="481.2" r="4.1"/><circle cx="830.9" cy="484.2" r="4.1"/><circle cx="831.8" cy="488.2" r="4.1"/><circle cx="850.6" cy="474.2" r="4.1"/><circle cx="851.1" cy="478.7" r="4.1"/><circle cx="852.2" cy="482" r="4.1"/><circle cx="851.1" cy="485.9" r="4.1"/><circle cx="851.1" cy="490.3" r="4.1"/><circle cx="852.2" cy="493.6" r="4.1"/><circle cx="849.9" cy="496.8" r="4.1"/><circle cx="849.7" cy="500.3" r="4.1"/><circle cx="869.4" cy="485.9" r="4.1"/><circle cx="869.5" cy="491.3" r="4.1"/><circle cx="870" cy="494.8" r="4.1"/><circle cx="891.3" cy="482.7" r="4.1"/><circle cx="892.3" cy="488.9" r="4.1"/><circle cx="891.4" cy="491.9" r="4.1"/><circle cx="832.2" cy="482.5" r="4.1"/><circle cx="831.8" cy="489.2" r="4.1"/><circle cx="833" cy="491.8" r="4.1"/><circle cx="880.5" cy="478.6" r="4.1"/><circle cx="880.1" cy="483.4" r="4.1"/><circle cx="880.6" cy="486.7" r="4.1"/><circle cx="879.2" cy="489.5" r="4.1"/><circle cx="881.1" cy="493.1" r="4.1"/><circle cx="883.7" cy="496.1" r="4.1"/><circle cx="822.4" cy="485.4" r="4.1"/><circle cx="822.5" cy="490.7" r="4.1"/><circle cx="821.6" cy="493" r="4.1"/><circle cx="862.7" cy="482.2" r="4.1"/><circle cx="863.1" cy="488" r="4.1"/><circle cx="863.4" cy="490.9" r="4.1"/><circle cx="865" cy="494.3" r="4.1"/><circle cx="862.5" cy="497.8" r="4.1"/><circle cx="830.4" cy="471.1" r="4.1"/><circle cx="830.1" cy="475.8" r="4.1"/><circle cx="831.7" cy="479.1" r="4.1"/><circle cx="832" cy="482.7" r="4.1"/><circle cx="828.2" cy="485.2" r="4.1"/><circle cx="829.6" cy="489.1" r="4.1"/><circle cx="845.4" cy="496.6" r="4.1"/><circle cx="846.3" cy="501.3" r="4.1"/><circle cx="845.1" cy="491.6" r="4.1"/><circle cx="845.9" cy="496.1" r="4.1"/><circle cx="846.5" cy="499.6" r="4.1"/><circle cx="845.7" cy="502.9" r="4.1"/><circle cx="822.6" cy="464.7" r="4.1"/><circle cx="823.1" cy="470" r="4.1"/><circle cx="821.7" cy="474" r="4.1"/><circle cx="824.2" cy="477.5" r="4.1"/><circle cx="824.6" cy="480.8" r="4.1"/><circle cx="821.6" cy="483.7" r="4.1"/><circle cx="820.2" cy="487.4" r="4.1"/><circle cx="825.5" cy="490.4" r="4.1"/><circle cx="824.9" cy="493.7" r="4.1"/><circle cx="831.8" cy="481.9" r="4.1"/><circle cx="831.6" cy="489.1" r="4.1"/><circle cx="827.5" cy="476.6" r="4.1"/><circle cx="826.8" cy="482.2" r="4.1"/><circle cx="828.6" cy="484.7" r="4.1"/><circle cx="826.6" cy="487.8" r="4.1"/><circle cx="839.9" cy="495" r="4.1"/><circle cx="840" cy="501.3" r="4.1"/><circle cx="871.8" cy="489.8" r="4.1"/><circle cx="828.6" cy="481.1" r="4.1"/><circle cx="881.7" cy="486.3" r="4.1"/><circle cx="830.9" cy="483" r="4.1"/><circle cx="873.2" cy="488.5" r="4.1"/><circle cx="890.9" cy="489" r="4.1"/><circle cx="890.3" cy="485.5" r="4.1"/><circle cx="836" cy="484.4" r="4.1"/><circle cx="828.8" cy="478" r="4.1"/><circle cx="962.7" cy="499.8" r="4.1"/><circle cx="963.1" cy="499.8" r="4.1"/><circle cx="968" cy="490.7" r="4.1"/><circle cx="970.6" cy="490" r="4.1"/><circle cx="974.5" cy="492" r="4.1"/><circle cx="979.2" cy="499.8" r="4.1"/><circle cx="982.8" cy="499.8" r="4.1"/><circle cx="987.7" cy="499.8" r="4.1"/><circle cx="990.5" cy="499.5" r="4.1"/><circle cx="995.9" cy="490.7" r="4.1"/><circle cx="999.9" cy="479" r="4.1"/><circle cx="1003.8" cy="479.2" r="4.1"/><circle cx="1007.3" cy="487.4" r="4.1"/><circle cx="1011.1" cy="502" r="4.1"/><circle cx="1015.7" cy="500.2" r="4.1"/><circle cx="1019.5" cy="499.1" r="4.1"/><circle cx="1023.3" cy="497" r="4.1"/><circle cx="1026" cy="498.3" r="4.1"/><circle cx="990.8" cy="483.8" r="4.1"/><circle cx="989.9" cy="490.8" r="4.1"/><circle cx="990.4" cy="493.7" r="4.1"/><circle cx="989.9" cy="497.2" r="4.1"/><circle cx="988.4" cy="499.9" r="4.1"/><circle cx="992.2" cy="478.9" r="4.1"/><circle cx="992.8" cy="486.1" r="4.1"/><circle cx="992.8" cy="489.7" r="4.1"/><circle cx="992.6" cy="492.1" r="4.1"/><circle cx="990.8" cy="495.7" r="4.1"/><circle cx="994.7" cy="499.2" r="4.1"/><circle cx="1003.4" cy="470.3" r="4.1"/><circle cx="1002.6" cy="477.3" r="4.1"/><circle cx="1005.2" cy="470.3" r="4.1"/><circle cx="1005.2" cy="476.5" r="4.1"/><circle cx="1005.2" cy="480" r="4.1"/><circle cx="998.1" cy="476" r="4.1"/><circle cx="999.1" cy="480.9" r="4.1"/><circle cx="997.2" cy="484.3" r="4.1"/><circle cx="979" cy="490.4" r="4.1"/><circle cx="979" cy="495.5" r="4.1"/><circle cx="977" cy="483.1" r="4.1"/><circle cx="977.5" cy="488.9" r="4.1"/><circle cx="977" cy="491.4" r="4.1"/><circle cx="977.1" cy="493.9" r="4.1"/><circle cx="997.7" cy="468.8" r="4.1"/><circle cx="998.4" cy="473.5" r="4.1"/><circle cx="996.3" cy="477.2" r="4.1"/><circle cx="997.1" cy="481.3" r="4.1"/><circle cx="999.9" cy="483.9" r="4.1"/><circle cx="1011.7" cy="495.2" r="4.1"/><circle cx="1011" cy="499.7" r="4.1"/><circle cx="963.9" cy="485.7" r="4.1"/><circle cx="964.5" cy="490.9" r="4.1"/><circle cx="965.3" cy="494.1" r="4.1"/><circle cx="965.7" cy="497.7" r="4.1"/><circle cx="1020.1" cy="473.9" r="4.1"/><circle cx="1020.1" cy="480.4" r="4.1"/><circle cx="1020.9" cy="484.3" r="4.1"/><circle cx="1018.8" cy="488.3" r="4.1"/><circle cx="1021.6" cy="491.4" r="4.1"/><circle cx="1021.8" cy="495.6" r="4.1"/><circle cx="1021.1" cy="498" r="4.1"/><circle cx="997.1" cy="465.2" r="4.1"/><circle cx="997.7" cy="472.2" r="4.1"/><circle cx="996.5" cy="475.1" r="4.1"/><circle cx="998.8" cy="478.3" r="4.1"/><circle cx="995.4" cy="481.8" r="4.1"/><circle cx="994.9" cy="484.2" r="4.1"/><circle cx="974.6" cy="479.5" r="4.1"/><circle cx="974.5" cy="485.9" r="4.1"/><circle cx="975.9" cy="488.5" r="4.1"/><circle cx="975.5" cy="491.9" r="4.1"/><circle cx="1022.2" cy="492.2" r="4.1"/><circle cx="1022.3" cy="497" r="4.1"/><circle cx="1012.8" cy="496.2" r="4.1"/><circle cx="1005.5" cy="473.6" r="4.1"/><circle cx="992.8" cy="494.5" r="4.1"/><circle cx="1015.9" cy="492.4" r="4.1"/><circle cx="1017.6" cy="489.7" r="4.1"/><circle cx="967.9" cy="483.7" r="4.1"/><circle cx="976.7" cy="478.4" r="4.1"/><circle cx="999.9" cy="475.3" r="4.1"/><circle cx="1102.7" cy="500.6" r="4.1"/><circle cx="1103.7" cy="500.6" r="4.1"/><circle cx="1107.6" cy="502.3" r="4.1"/><circle cx="1110.5" cy="503.8" r="4.1"/><circle cx="1115.3" cy="497.7" r="4.1"/><circle cx="1118.9" cy="488.2" r="4.1"/><circle cx="1123.2" cy="492.6" r="4.1"/><circle cx="1126.8" cy="497.5" r="4.1"/><circle cx="1130.6" cy="488.1" r="4.1"/><circle cx="1136.2" cy="492" r="4.1"/><circle cx="1139.2" cy="488.4" r="4.1"/><circle cx="1144.1" cy="486.2" r="4.1"/><circle cx="1146.9" cy="492.3" r="4.1"/><circle cx="1151.5" cy="498.5" r="4.1"/><circle cx="1155" cy="498.5" r="4.1"/><circle cx="1159.5" cy="500.6" r="4.1"/><circle cx="1163.1" cy="500.6" r="4.1"/><circle cx="1167.9" cy="499.3" r="4.1"/><circle cx="1171.1" cy="496.5" r="4.1"/><circle cx="1176.1" cy="492.5" r="4.1"/><circle cx="1179.7" cy="495" r="4.1"/><circle cx="1183.1" cy="500.6" r="4.1"/><circle cx="1187.6" cy="501.5" r="4.1"/><circle cx="1191.8" cy="502.9" r="4.1"/><circle cx="1196.5" cy="503.6" r="4.1"/><circle cx="1199.6" cy="503.8" r="4.1"/><circle cx="1203.4" cy="496.7" r="4.1"/><circle cx="1208.7" cy="489.2" r="4.1"/><circle cx="1212.6" cy="499.5" r="4.1"/><circle cx="1216.3" cy="493.6" r="4.1"/><circle cx="1216.5" cy="498.6" r="4.1"/><circle cx="1122.8" cy="480.6" r="4.1"/><circle cx="1123.2" cy="485.1" r="4.1"/><circle cx="1123.4" cy="488.2" r="4.1"/><circle cx="1104.5" cy="483.9" r="4.1"/><circle cx="1104.5" cy="489.9" r="4.1"/><circle cx="1105.8" cy="493.6" r="4.1"/><circle cx="1105.3" cy="497.7" r="4.1"/><circle cx="1103.4" cy="500.8" r="4.1"/><circle cx="1212.9" cy="489.4" r="4.1"/><circle cx="1212.3" cy="494.9" r="4.1"/><circle cx="1211.5" cy="499.3" r="4.1"/><circle cx="1207.8" cy="479" r="4.1"/><circle cx="1207.2" cy="484.4" r="4.1"/><circle cx="1206.5" cy="487.2" r="4.1"/><circle cx="1191.3" cy="473.7" r="4.1"/><circle cx="1191.3" cy="480.1" r="4.1"/><circle cx="1191.8" cy="483.7" r="4.1"/><circle cx="1193.6" cy="486.7" r="4.1"/><circle cx="1192.9" cy="489" r="4.1"/><circle cx="1191.7" cy="493.1" r="4.1"/><circle cx="1195.3" cy="496.6" r="4.1"/><circle cx="1192.7" cy="499.4" r="4.1"/><circle cx="1145.8" cy="470.7" r="4.1"/><circle cx="1146.1" cy="476.6" r="4.1"/><circle cx="1145.4" cy="480.3" r="4.1"/><circle cx="1146.1" cy="483.9" r="4.1"/><circle cx="1146.5" cy="486.7" r="4.1"/><circle cx="1205.9" cy="485.2" r="4.1"/><circle cx="1205.7" cy="491" r="4.1"/><circle cx="1204.6" cy="493.8" r="4.1"/><circle cx="1162.9" cy="488" r="4.1"/><circle cx="1162.3" cy="494.8" r="4.1"/><circle cx="1163.8" cy="497.4" r="4.1"/><circle cx="1163.4" cy="500.7" r="4.1"/><circle cx="1203.7" cy="471.8" r="4.1"/><circle cx="1204.7" cy="477.2" r="4.1"/><circle cx="1202.9" cy="481.2" r="4.1"/><circle cx="1203" cy="483.9" r="4.1"/><circle cx="1203.3" cy="486.4" r="4.1"/><circle cx="1204.2" cy="490.4" r="4.1"/><circle cx="1201" cy="493.6" r="4.1"/><circle cx="1208.3" cy="496.7" r="4.1"/><circle cx="1154.1" cy="487.1" r="4.1"/><circle cx="1153.2" cy="493.7" r="4.1"/><circle cx="1153.5" cy="497.4" r="4.1"/><circle cx="1129.9" cy="483.1" r="4.1"/><circle cx="1129.1" cy="488.6" r="4.1"/><circle cx="1130.2" cy="491.3" r="4.1"/><circle cx="1123.1" cy="471.3" r="4.1"/><circle cx="1122.8" cy="476.6" r="4.1"/><circle cx="1122.1" cy="480.6" r="4.1"/><circle cx="1124.8" cy="484.2" r="4.1"/><circle cx="1122.9" cy="487" r="4.1"/><circle cx="1172.5" cy="486.6" r="4.1"/><circle cx="1172.6" cy="492.2" r="4.1"/><circle cx="1172.3" cy="496" r="4.1"/><circle cx="1176.2" cy="471" r="4.1"/><circle cx="1176.5" cy="476.5" r="4.1"/><circle cx="1175.4" cy="480.7" r="4.1"/><circle cx="1177.2" cy="485" r="4.1"/><circle cx="1177.2" cy="488.1" r="4.1"/><circle cx="1173.6" cy="491.1" r="4.1"/><circle cx="1146" cy="475.6" r="4.1"/><circle cx="1146.5" cy="482.5" r="4.1"/><circle cx="1146.3" cy="484.9" r="4.1"/><circle cx="1145.8" cy="488.2" r="4.1"/><circle cx="1150.3" cy="485.6" r="4.1"/><circle cx="1150" cy="491.3" r="4.1"/><circle cx="1151" cy="494.6" r="4.1"/><circle cx="1186.4" cy="490.3" r="4.1"/><circle cx="1186.8" cy="496.6" r="4.1"/><circle cx="1187.5" cy="500.5" r="4.1"/><circle cx="1128.3" cy="491.3" r="4.1"/><circle cx="1127.3" cy="496" r="4.1"/><circle cx="1167" cy="494.7" r="4.1"/><circle cx="1157.8" cy="493.7" r="4.1"/><circle cx="1157.8" cy="499.3" r="4.1"/><circle cx="1195.1" cy="478" r="4.1"/><circle cx="1195.4" cy="483.3" r="4.1"/><circle cx="1196.8" cy="485.7" r="4.1"/><circle cx="1194.4" cy="488.6" r="4.1"/><circle cx="1194.1" cy="491.5" r="4.1"/><circle cx="1195.7" cy="495.6" r="4.1"/><circle cx="1194.8" cy="499" r="4.1"/><circle cx="1193.7" cy="501.4" r="4.1"/><circle cx="1193.5" cy="478.7" r="4.1"/><circle cx="1192.8" cy="483.6" r="4.1"/><circle cx="1193.3" cy="487" r="4.1"/><circle cx="1193.6" cy="490.3" r="4.1"/><circle cx="1193" cy="493.8" r="4.1"/><circle cx="1191.8" cy="497.8" r="4.1"/><circle cx="1194.1" cy="502" r="4.1"/><circle cx="1138.6" cy="480.7" r="4.1"/><circle cx="1138.3" cy="486.7" r="4.1"/><circle cx="1139.5" cy="489.6" r="4.1"/><circle cx="1139.5" cy="492.5" r="4.1"/><circle cx="1170.3" cy="485.8" r="4.1"/><circle cx="1170.7" cy="491.4" r="4.1"/><circle cx="1169.8" cy="493.9" r="4.1"/><circle cx="1108.4" cy="477.7" r="4.1"/><circle cx="1108.1" cy="483.8" r="4.1"/><circle cx="1108.9" cy="488" r="4.1"/><circle cx="1108.7" cy="492" r="4.1"/><circle cx="1109.6" cy="495.7" r="4.1"/><circle cx="1106.9" cy="498.6" r="4.1"/><circle cx="1106.1" cy="502.6" r="4.1"/><circle cx="1126.2" cy="491.4" r="4.1"/><circle cx="1127.4" cy="498" r="4.1"/><circle cx="1177.5" cy="486.3" r="4.1"/><circle cx="1205.4" cy="485.6" r="4.1"/><circle cx="1120.7" cy="484.3" r="4.1"/><circle cx="1181.7" cy="491.3" r="4.1"/><circle cx="1197.5" cy="497" r="4.1"/><circle cx="1129.4" cy="483" r="4.1"/><circle cx="1139.2" cy="483.7" r="4.1"/><circle cx="1120.6" cy="474.4" r="4.1"/><circle cx="1139.8" cy="475.5" r="4.1"/><circle cx="1120.3" cy="475.7" r="4.1"/><circle cx="1213.8" cy="491.7" r="4.1"/><circle cx="1106.9" cy="493.7" r="4.1"/><circle cx="1320.7" cy="497.2" r="4.1"/><circle cx="1321" cy="495.8" r="4.1"/><circle cx="1324.9" cy="481.1" r="4.1"/><circle cx="1330" cy="485.8" r="4.1"/><circle cx="1333.7" cy="494.8" r="4.1"/><circle cx="1338" cy="495.5" r="4.1"/><circle cx="1342.3" cy="496.7" r="4.1"/><circle cx="1342.7" cy="498.4" r="4.1"/><circle cx="1327.3" cy="471.4" r="4.1"/><circle cx="1326.6" cy="477.3" r="4.1"/><circle cx="1326.3" cy="480.9" r="4.1"/><circle cx="1322.1" cy="473.5" r="4.1"/><circle cx="1322.9" cy="478.9" r="4.1"/><circle cx="1321.3" cy="481.7" r="4.1"/><circle cx="1322.3" cy="484.2" r="4.1"/><circle cx="1323" cy="488.1" r="4.1"/><circle cx="1324" cy="491.2" r="4.1"/><circle cx="1320.7" cy="493.8" r="4.1"/><circle cx="1341.7" cy="481" r="4.1"/><circle cx="1341.3" cy="487.6" r="4.1"/><circle cx="1342.2" cy="491.8" r="4.1"/><circle cx="1341.1" cy="494.8" r="4.1"/><circle cx="1328.8" cy="474.2" r="4.1"/><circle cx="1328.6" cy="480.1" r="4.1"/><circle cx="1340" cy="489.3" r="4.1"/><circle cx="1340" cy="493.9" r="4.1"/><circle cx="1339.2" cy="479.5" r="4.1"/><circle cx="1339.2" cy="485" r="4.1"/><circle cx="1340.1" cy="487.9" r="4.1"/><circle cx="1340.5" cy="491.8" r="4.1"/><circle cx="1340" cy="494.5" r="4.1"/><circle cx="1331.7" cy="476.8" r="4.1"/><circle cx="1340.1" cy="484.2" r="4.1"/><circle cx="1408.2" cy="489.1" r="4.1"/><circle cx="1409" cy="488.8" r="4.1"/><circle cx="1413.4" cy="489.1" r="4.1"/><circle cx="1417" cy="489.7" r="4.1"/><circle cx="1421.5" cy="494.4" r="4.1"/><circle cx="1424.4" cy="497.8" r="4.1"/><circle cx="1428.3" cy="488.6" r="4.1"/><circle cx="1432.1" cy="497.8" r="4.1"/><circle cx="1437.3" cy="498.9" r="4.1"/><circle cx="1440.3" cy="496.3" r="4.1"/><circle cx="1445.7" cy="495.4" r="4.1"/><circle cx="1449.3" cy="493.9" r="4.1"/><circle cx="1452.5" cy="501.2" r="4.1"/><circle cx="1453.5" cy="500.9" r="4.1"/><circle cx="1415.6" cy="475.9" r="4.1"/><circle cx="1416.7" cy="482.6" r="4.1"/><circle cx="1414.4" cy="486.8" r="4.1"/><circle cx="1433.3" cy="475.7" r="4.1"/><circle cx="1433.5" cy="481.9" r="4.1"/><circle cx="1432.1" cy="485.8" r="4.1"/><circle cx="1433.5" cy="488.3" r="4.1"/><circle cx="1432.8" cy="491.2" r="4.1"/><circle cx="1434.9" cy="493.5" r="4.1"/><circle cx="1435.8" cy="495.9" r="4.1"/><circle cx="1429.1" cy="482" r="4.1"/><circle cx="1428.9" cy="486.9" r="4.1"/><circle cx="1451.8" cy="484.8" r="4.1"/><circle cx="1452.4" cy="489.4" r="4.1"/><circle cx="1453" cy="493.5" r="4.1"/><circle cx="1451.4" cy="496" r="4.1"/><circle cx="1442.6" cy="489.3" r="4.1"/><circle cx="1443" cy="496.5" r="4.1"/><circle cx="1412.2" cy="483" r="4.1"/><circle cx="1412.1" cy="489.1" r="4.1"/><circle cx="1426.9" cy="483.3" r="4.1"/><circle cx="1427.2" cy="490.3" r="4.1"/><circle cx="1428" cy="494.2" r="4.1"/><circle cx="1440.6" cy="492.1" r="4.1"/><circle cx="1427.5" cy="468.8" r="4.1"/><circle cx="1427.7" cy="475.9" r="4.1"/><circle cx="1427" cy="479.6" r="4.1"/><circle cx="1427.2" cy="482.6" r="4.1"/><circle cx="1425.7" cy="485.6" r="4.1"/><circle cx="1430.8" cy="488.8" r="4.1"/><circle cx="1431" cy="492.4" r="4.1"/><circle cx="1445.6" cy="477.3" r="4.1"/><circle cx="1445.6" cy="482.4" r="4.1"/><circle cx="1445" cy="484.7" r="4.1"/><circle cx="1447.5" cy="488.9" r="4.1"/><circle cx="1447.2" cy="491.8" r="4.1"/><circle cx="1448.2" cy="495.7" r="4.1"/><circle cx="1432.5" cy="484" r="4.1"/><circle cx="1432.5" cy="489.3" r="4.1"/><circle cx="1432.5" cy="476" r="4.1"/><circle cx="1415.8" cy="478.9" r="4.1"/><circle cx="1437.5" cy="489.5" r="4.1"/><circle cx="1450.3" cy="486" r="4.1"/><circle cx="1449.2" cy="482.7" r="4.1"/><circle cx="1536.8" cy="497.8" r="4.1"/><circle cx="1537.8" cy="499.4" r="4.1"/><circle cx="1541.6" cy="499.4" r="4.1"/><circle cx="1545.4" cy="494.3" r="4.1"/><circle cx="1549.8" cy="500.5" r="4.1"/><circle cx="1554.1" cy="497.8" r="4.1"/><circle cx="1556.9" cy="497.5" r="4.1"/><circle cx="1561.7" cy="488.1" r="4.1"/><circle cx="1566.1" cy="485.1" r="4.1"/><circle cx="1570.2" cy="489.3" r="4.1"/><circle cx="1574.2" cy="491.4" r="4.1"/><circle cx="1577.5" cy="475.9" r="4.1"/><circle cx="1582.8" cy="490.6" r="4.1"/><circle cx="1586.6" cy="492.1" r="4.1"/><circle cx="1589.8" cy="488.9" r="4.1"/><circle cx="1594.2" cy="487.2" r="4.1"/><circle cx="1599.1" cy="488.5" r="4.1"/><circle cx="1601.9" cy="498" r="4.1"/><circle cx="1606.3" cy="498.7" r="4.1"/><circle cx="1611.3" cy="498.7" r="4.1"/><circle cx="1615.2" cy="498.4" r="4.1"/><circle cx="1618.2" cy="495.7" r="4.1"/><circle cx="1623.1" cy="496.6" r="4.1"/><circle cx="1626.6" cy="492.2" r="4.1"/><circle cx="1631.1" cy="491.8" r="4.1"/><circle cx="1635.3" cy="495.3" r="4.1"/><circle cx="1637.5" cy="497.7" r="4.1"/><circle cx="1559.3" cy="489.8" r="4.1"/><circle cx="1558.8" cy="494.2" r="4.1"/><circle cx="1559.3" cy="497.4" r="4.1"/><circle cx="1595.2" cy="471.9" r="4.1"/><circle cx="1595.2" cy="478.3" r="4.1"/><circle cx="1595.3" cy="481" r="4.1"/><circle cx="1596.1" cy="483.3" r="4.1"/><circle cx="1594.7" cy="486" r="4.1"/><circle cx="1613.9" cy="475.7" r="4.1"/><circle cx="1614.1" cy="481.9" r="4.1"/><circle cx="1612.8" cy="486.2" r="4.1"/><circle cx="1612.9" cy="490.1" r="4.1"/><circle cx="1615.4" cy="492.9" r="4.1"/><circle cx="1616" cy="496.5" r="4.1"/><circle cx="1595.6" cy="479.7" r="4.1"/><circle cx="1596.4" cy="485.6" r="4.1"/><circle cx="1544" cy="489.7" r="4.1"/><circle cx="1537.5" cy="491.5" r="4.1"/><circle cx="1538.6" cy="497.9" r="4.1"/><circle cx="1549.1" cy="464.8" r="4.1"/><circle cx="1548.4" cy="469.6" r="4.1"/><circle cx="1548.1" cy="473" r="4.1"/><circle cx="1548.6" cy="476.2" r="4.1"/><circle cx="1546.4" cy="479" r="4.1"/><circle cx="1546.6" cy="481.5" r="4.1"/><circle cx="1549.6" cy="484" r="4.1"/><circle cx="1546.7" cy="487.8" r="4.1"/><circle cx="1550.7" cy="491.7" r="4.1"/><circle cx="1548.6" cy="494.7" r="4.1"/><circle cx="1629.6" cy="477.5" r="4.1"/><circle cx="1630.3" cy="482.3" r="4.1"/><circle cx="1630.6" cy="485.4" r="4.1"/><circle cx="1631.1" cy="488.2" r="4.1"/><circle cx="1546.4" cy="480.3" r="4.1"/><circle cx="1547.3" cy="486.7" r="4.1"/><circle cx="1545.9" cy="490.7" r="4.1"/><circle cx="1547.4" cy="493.2" r="4.1"/><circle cx="1551.1" cy="493" r="4.1"/><circle cx="1551.3" cy="497.7" r="4.1"/><circle cx="1550.4" cy="500.5" r="4.1"/><circle cx="1590.1" cy="471" r="4.1"/><circle cx="1589.9" cy="477.5" r="4.1"/><circle cx="1590.9" cy="480.4" r="4.1"/><circle cx="1590.9" cy="484.1" r="4.1"/><circle cx="1588.9" cy="488.3" r="4.1"/><circle cx="1603.1" cy="489.7" r="4.1"/><circle cx="1603.9" cy="494.7" r="4.1"/><circle cx="1608.9" cy="462.5" r="4.1"/><circle cx="1608.4" cy="467.7" r="4.1"/><circle cx="1607.4" cy="471.5" r="4.1"/><circle cx="1607" cy="475.1" r="4.1"/><circle cx="1608.8" cy="477.5" r="4.1"/><circle cx="1611.4" cy="480.1" r="4.1"/><circle cx="1608.4" cy="484.2" r="4.1"/><circle cx="1605.5" cy="487" r="4.1"/><circle cx="1608.9" cy="490.3" r="4.1"/><circle cx="1610.7" cy="493.4" r="4.1"/><circle cx="1611.2" cy="496.8" r="4.1"/><circle cx="1544.3" cy="485" r="4.1"/><circle cx="1544.6" cy="490.1" r="4.1"/><circle cx="1543.7" cy="492.9" r="4.1"/><circle cx="1608.2" cy="479.1" r="4.1"/><circle cx="1609.1" cy="484.7" r="4.1"/><circle cx="1608.7" cy="489" r="4.1"/><circle cx="1608.1" cy="491.5" r="4.1"/><circle cx="1607.2" cy="495.1" r="4.1"/><circle cx="1611.4" cy="497.5" r="4.1"/><circle cx="1550.3" cy="489" r="4.1"/><circle cx="1549.3" cy="494.2" r="4.1"/><circle cx="1551" cy="498.1" r="4.1"/><circle cx="1545.5" cy="484" r="4.1"/><circle cx="1545" cy="491.2" r="4.1"/><circle cx="1546.6" cy="494.1" r="4.1"/><circle cx="1547.7" cy="490.5" r="4.1"/><circle cx="1548.6" cy="496.4" r="4.1"/><circle cx="1554.6" cy="478.4" r="4.1"/><circle cx="1553.9" cy="483.7" r="4.1"/><circle cx="1556" cy="486.6" r="4.1"/><circle cx="1553.6" cy="489.1" r="4.1"/><circle cx="1556.7" cy="492.9" r="4.1"/><circle cx="1554.4" cy="497.1" r="4.1"/><circle cx="1597.5" cy="478.4" r="4.1"/><circle cx="1598" cy="484.8" r="4.1"/><circle cx="1596.6" cy="487.4" r="4.1"/><circle cx="1547.8" cy="475" r="4.1"/><circle cx="1547.5" cy="480" r="4.1"/><circle cx="1549.4" cy="483.3" r="4.1"/><circle cx="1549.4" cy="485.9" r="4.1"/><circle cx="1546.3" cy="488.9" r="4.1"/><circle cx="1547" cy="492.8" r="4.1"/><circle cx="1547.4" cy="495.5" r="4.1"/><circle cx="1623" cy="483" r="4.1"/><circle cx="1623.5" cy="489.6" r="4.1"/><circle cx="1624.7" cy="493.7" r="4.1"/><circle cx="1624.8" cy="496.7" r="4.1"/><circle cx="1563.7" cy="475.9" r="4.1"/><circle cx="1563.6" cy="481.3" r="4.1"/><circle cx="1563" cy="483.9" r="4.1"/><circle cx="1578.2" cy="465.4" r="4.1"/><circle cx="1625.8" cy="482.9" r="4.1"/><circle cx="1561.7" cy="478.3" r="4.1"/><circle cx="1617.5" cy="482" r="4.1"/><circle cx="1609.9" cy="486.7" r="4.1"/><circle cx="1618.4" cy="490.6" r="4.1"/><circle cx="1602.7" cy="490.4" r="4.1"/><circle cx="1621" cy="491" r="4.1"/><circle cx="1591.1" cy="481.8" r="4.1"/><circle cx="1619.1" cy="488.5" r="4.1"/><circle cx="1671.3" cy="492.6" r="4.1"/><circle cx="1671.3" cy="496.6" r="4.1"/><circle cx="1675.8" cy="498.7" r="4.1"/><circle cx="1680.1" cy="498.7" r="4.1"/><circle cx="1683.7" cy="498.7" r="4.1"/><circle cx="1687.5" cy="496.3" r="4.1"/><circle cx="1691.6" cy="495" r="4.1"/><circle cx="1695.5" cy="496.6" r="4.1"/><circle cx="1699.7" cy="497.8" r="4.1"/><circle cx="1703.9" cy="498.4" r="4.1"/><circle cx="1708.3" cy="499.5" r="4.1"/><circle cx="1711.8" cy="499.5" r="4.1"/><circle cx="1716.4" cy="495.2" r="4.1"/><circle cx="1720.3" cy="493.8" r="4.1"/><circle cx="1725.2" cy="492.8" r="4.1"/><circle cx="1728.5" cy="488.7" r="4.1"/><circle cx="1733.3" cy="484.1" r="4.1"/><circle cx="1736.6" cy="482.8" r="4.1"/><circle cx="1740.2" cy="490.2" r="4.1"/><circle cx="1744.9" cy="498.7" r="4.1"/><circle cx="1748.2" cy="498.7" r="4.1"/><circle cx="1752.3" cy="497.4" r="4.1"/><circle cx="1756.2" cy="489.7" r="4.1"/><circle cx="1761.3" cy="485.8" r="4.1"/><circle cx="1765.7" cy="495.2" r="4.1"/><circle cx="1768.9" cy="500.6" r="4.1"/><circle cx="1772.8" cy="496.3" r="4.1"/><circle cx="1777" cy="499.3" r="4.1"/><circle cx="1780.9" cy="500.4" r="4.1"/><circle cx="1785.5" cy="496.2" r="4.1"/><circle cx="1789.1" cy="489.2" r="4.1"/><circle cx="1792.8" cy="488.9" r="4.1"/><circle cx="1795.9" cy="489" r="4.1"/><circle cx="1742.8" cy="484.8" r="4.1"/><circle cx="1715.9" cy="482.4" r="4.1"/><circle cx="1715.5" cy="487.9" r="4.1"/><circle cx="1715.8" cy="490.9" r="4.1"/><circle cx="1716.6" cy="494.5" r="4.1"/><circle cx="1690" cy="486.5" r="4.1"/><circle cx="1689.9" cy="493.1" r="4.1"/><circle cx="1713.9" cy="466.1" r="4.1"/><circle cx="1713.2" cy="471.6" r="4.1"/><circle cx="1715" cy="474.2" r="4.1"/><circle cx="1711.9" cy="478.1" r="4.1"/><circle cx="1713.7" cy="481.1" r="4.1"/><circle cx="1713" cy="484.4" r="4.1"/><circle cx="1712.7" cy="488.6" r="4.1"/><circle cx="1717.5" cy="492" r="4.1"/><circle cx="1713.6" cy="495.6" r="4.1"/><circle cx="1712.8" cy="498.6" r="4.1"/><circle cx="1768.8" cy="489.9" r="4.1"/><circle cx="1768.7" cy="495.3" r="4.1"/><circle cx="1738.3" cy="474.3" r="4.1"/><circle cx="1737.8" cy="481" r="4.1"/><circle cx="1674.1" cy="491.3" r="4.1"/><circle cx="1673.8" cy="498" r="4.1"/><circle cx="1679.1" cy="490.4" r="4.1"/><circle cx="1679.7" cy="496.8" r="4.1"/><circle cx="1740.2" cy="480.7" r="4.1"/><circle cx="1739.3" cy="486.3" r="4.1"/><circle cx="1777.6" cy="489.2" r="4.1"/><circle cx="1778.4" cy="496.1" r="4.1"/><circle cx="1779.4" cy="499.7" r="4.1"/><circle cx="1678.3" cy="492.1" r="4.1"/><circle cx="1679" cy="498.5" r="4.1"/><circle cx="1691.9" cy="488" r="4.1"/><circle cx="1692.7" cy="494.3" r="4.1"/><circle cx="1792.7" cy="477.4" r="4.1"/><circle cx="1792.3" cy="482.5" r="4.1"/><circle cx="1794.3" cy="486.8" r="4.1"/><circle cx="1693.2" cy="487.7" r="4.1"/><circle cx="1693.9" cy="493.1" r="4.1"/><circle cx="1737" cy="466.4" r="4.1"/><circle cx="1737.9" cy="472" r="4.1"/><circle cx="1737.2" cy="475.5" r="4.1"/><circle cx="1737.7" cy="479.6" r="4.1"/><circle cx="1736.8" cy="482.6" r="4.1"/><circle cx="1778.1" cy="470.1" r="4.1"/><circle cx="1777.4" cy="474.9" r="4.1"/><circle cx="1778.6" cy="478" r="4.1"/><circle cx="1779.3" cy="480.3" r="4.1"/><circle cx="1778.1" cy="484.2" r="4.1"/><circle cx="1779.9" cy="486.6" r="4.1"/><circle cx="1779.3" cy="489.7" r="4.1"/><circle cx="1780" cy="493.2" r="4.1"/><circle cx="1782.2" cy="496.4" r="4.1"/><circle cx="1786.5" cy="481.6" r="4.1"/><circle cx="1786.2" cy="487.1" r="4.1"/><circle cx="1787.5" cy="491.2" r="4.1"/><circle cx="1787.9" cy="495.2" r="4.1"/><circle cx="1757" cy="480.3" r="4.1"/><circle cx="1757" cy="485.4" r="4.1"/><circle cx="1757.9" cy="488" r="4.1"/><circle cx="1705.5" cy="468.2" r="4.1"/><circle cx="1706.3" cy="475.2" r="4.1"/><circle cx="1706.6" cy="477.8" r="4.1"/><circle cx="1707.5" cy="481.3" r="4.1"/><circle cx="1705.4" cy="484.9" r="4.1"/><circle cx="1703.2" cy="489.1" r="4.1"/><circle cx="1702.9" cy="493" r="4.1"/><circle cx="1702.5" cy="495.9" r="4.1"/><circle cx="1726.2" cy="474.9" r="4.1"/><circle cx="1726.7" cy="481.4" r="4.1"/><circle cx="1726.4" cy="483.9" r="4.1"/><circle cx="1725.2" cy="487.7" r="4.1"/><circle cx="1725.3" cy="491.3" r="4.1"/><circle cx="1785.9" cy="463.1" r="4.1"/><circle cx="1785.6" cy="468.7" r="4.1"/><circle cx="1786.3" cy="472.7" r="4.1"/><circle cx="1787" cy="475.9" r="4.1"/><circle cx="1787.8" cy="479.1" r="4.1"/><circle cx="1783.1" cy="482.3" r="4.1"/><circle cx="1782.9" cy="486.2" r="4.1"/><circle cx="1781.7" cy="489.9" r="4.1"/><circle cx="1785.9" cy="494.2" r="4.1"/><circle cx="1687.9" cy="482.8" r="4.1"/><circle cx="1688.6" cy="487.9" r="4.1"/><circle cx="1687.9" cy="490.3" r="4.1"/><circle cx="1689.5" cy="492.8" r="4.1"/><circle cx="1685.6" cy="496.9" r="4.1"/><circle cx="1730" cy="471.1" r="4.1"/><circle cx="1730.6" cy="476.4" r="4.1"/><circle cx="1728.7" cy="479.1" r="4.1"/><circle cx="1728.2" cy="483.1" r="4.1"/><circle cx="1729.8" cy="485.8" r="4.1"/><circle cx="1727.7" cy="488.8" r="4.1"/><circle cx="1730.2" cy="468.4" r="4.1"/><circle cx="1729.8" cy="475.4" r="4.1"/><circle cx="1730.7" cy="479.6" r="4.1"/><circle cx="1731.5" cy="483.9" r="4.1"/><circle cx="1730.5" cy="487.5" r="4.1"/><circle cx="1727" cy="485.9" r="4.1"/><circle cx="1727" cy="492.6" r="4.1"/><circle cx="1700.7" cy="486.4" r="4.1"/><circle cx="1701.3" cy="493.6" r="4.1"/><circle cx="1701" cy="496.2" r="4.1"/><circle cx="1721.6" cy="486.7" r="4.1"/><circle cx="1721.9" cy="492.4" r="4.1"/><circle cx="1717.5" cy="482" r="4.1"/><circle cx="1716.6" cy="488.1" r="4.1"/><circle cx="1716.8" cy="492.2" r="4.1"/><circle cx="1793.1" cy="483.5" r="4.1"/><circle cx="1743.8" cy="478.4" r="4.1"/><circle cx="1719.4" cy="484.7" r="4.1"/><circle cx="1710.6" cy="496" r="4.1"/><circle cx="1697.1" cy="492" r="4.1"/><circle cx="1706.9" cy="488.9" r="4.1"/><circle cx="1741.4" cy="476" r="4.1"/><circle cx="1756.5" cy="482" r="4.1"/><circle cx="1789.1" cy="484.3" r="4.1"/><circle cx="1738.9" cy="475" r="4.1"/><circle cx="1754.6" cy="490" r="4.1"/><circle cx="1746.6" cy="492" r="4.1"/><circle cx="1791.6" cy="482.3" r="4.1"/><circle cx="1853.5" cy="493.5" r="4.1"/><circle cx="1853.5" cy="493" r="4.1"/><circle cx="1858" cy="493" r="4.1"/><circle cx="1861.4" cy="487.3" r="4.1"/><circle cx="1864.5" cy="492.9" r="4.1"/><circle cx="1861.4" cy="475.2" r="4.1"/><circle cx="1861.4" cy="479.7" r="4.1"/><circle cx="1859.8" cy="483.7" r="4.1"/><circle cx="1859.1" cy="486.7" r="4.1"/><circle cx="1861.4" cy="479.5" r="4.1"/><circle cx="1861.6" cy="484.9" r="4.1"/><circle cx="1862.7" cy="487.8" r="4.1"/><circle cx="1854.2" cy="486.7" r="4.1"/><circle cx="1860.4" cy="484" r="4.1"/><circle cx="173.4" cy="464" r="4.1"/><circle cx="188.8" cy="449" r="4.1"/><circle cx="188.9" cy="470" r="4.1"/><circle cx="205.9" cy="447" r="4.1"/><circle cx="218.6" cy="431.8" r="4.1"/><circle cx="218.5" cy="441" r="4.1"/><circle cx="218.8" cy="469" r="4.1"/><circle cx="237.3" cy="417.5" r="4.1"/><circle cx="279.9" cy="460" r="4.1"/><circle cx="306" cy="408" r="4.1"/><circle cx="305.5" cy="447" r="4.1"/><circle cx="306.2" cy="471" r="4.1"/><circle cx="318.5" cy="413" r="4.1"/><circle cx="317.8" cy="432" r="4.1"/><circle cx="333.5" cy="445" r="4.1"/><circle cx="500.4" cy="416" r="4.1"/><circle cx="501.1" cy="422" r="4.1"/><circle cx="500.9" cy="430" r="4.1"/><circle cx="501.3" cy="436" r="4.1"/><circle cx="520.2" cy="418.6" r="4.1"/><circle cx="539" cy="381" r="4.1"/><circle cx="539.3" cy="420" r="4.1"/><circle cx="538.6" cy="434" r="4.1"/><circle cx="550.3" cy="403.6" r="4.1"/><circle cx="657.1" cy="447" r="4.1"/><circle cx="651.4" cy="444" r="4.1"/><circle cx="650.8" cy="453" r="4.1"/><circle cx="666.4" cy="411.6" r="4.1"/><circle cx="671.1" cy="401" r="4.1"/><circle cx="836.1" cy="417.8" r="4.1"/><circle cx="860" cy="432.8" r="4.1"/><circle cx="878.4" cy="462" r="4.1"/><circle cx="962.6" cy="475" r="4.1"/><circle cx="971.1" cy="363" r="4.1"/><circle cx="992.1" cy="368" r="4.1"/><circle cx="991.3" cy="428" r="4.1"/><circle cx="991.3" cy="462" r="4.1"/><circle cx="997.2" cy="441" r="4.1"/><circle cx="1005.7" cy="425.8" r="4.1"/><circle cx="1011.5" cy="449" r="4.1"/><circle cx="1124.9" cy="381" r="4.1"/><circle cx="1132.4" cy="384.6" r="4.1"/><circle cx="1141.5" cy="331.6" r="4.1"/><circle cx="1141.2" cy="337.5" r="4.1"/><circle cx="1141.4" cy="355" r="4.1"/><circle cx="1142.1" cy="374" r="4.1"/><circle cx="1141.5" cy="383" r="4.1"/><circle cx="1141.4" cy="396" r="4.1"/><circle cx="1142" cy="410" r="4.1"/><circle cx="1150.7" cy="409" r="4.1"/><circle cx="1191.6" cy="425" r="4.1"/><circle cx="1204.3" cy="241" r="4.1"/><circle cx="1204.7" cy="327" r="4.1"/><circle cx="1204.6" cy="378" r="4.1"/><circle cx="1327.3" cy="444" r="4.1"/><circle cx="1327.2" cy="452" r="4.1"/><circle cx="1412.1" cy="449" r="4.1"/><circle cx="1423.4" cy="451" r="4.1"/><circle cx="1439" cy="456" r="4.1"/><circle cx="1538.8" cy="370.6" r="4.1"/><circle cx="1563.8" cy="452" r="4.1"/><circle cx="1564.1" cy="461" r="4.1"/><circle cx="1583.1" cy="431" r="4.1"/><circle cx="1601.8" cy="83" r="4.1"/><circle cx="1601.4" cy="92.5" r="4.1"/><circle cx="1601.5" cy="98" r="4.1"/><circle cx="1601.8" cy="153" r="4.1"/><circle cx="1602.5" cy="197.5" r="4.1"/><circle cx="1602" cy="204" r="4.1"/><circle cx="1601.6" cy="432.5" r="4.1"/><circle cx="1637.7" cy="377" r="4.1"/><circle cx="1676" cy="428" r="4.1"/><circle cx="1727.7" cy="449" r="4.1"/>
</g>
<g fill="#6f6f6f" fill-opacity="0.62">
<circle cx="351" cy="501" r="4.1"/><circle cx="351" cy="501" r="4.1"/><circle cx="354.9" cy="500.2" r="4.1"/><circle cx="359.7" cy="499.4" r="4.1"/><circle cx="363.9" cy="490.9" r="4.1"/><circle cx="367.6" cy="491.8" r="4.1"/><circle cx="371.5" cy="498.7" r="4.1"/><circle cx="376.1" cy="496" r="4.1"/><circle cx="379.2" cy="498.8" r="4.1"/><circle cx="383.8" cy="500.1" r="4.1"/><circle cx="388.1" cy="500.7" r="4.1"/><circle cx="393" cy="499.8" r="4.1"/><circle cx="396.5" cy="493.3" r="4.1"/><circle cx="401" cy="491.3" r="4.1"/><circle cx="404.4" cy="495.1" r="4.1"/><circle cx="408.1" cy="500.1" r="4.1"/><circle cx="412.1" cy="500.1" r="4.1"/><circle cx="417.4" cy="499.5" r="4.1"/><circle cx="421" cy="501.6" r="4.1"/><circle cx="424.4" cy="500.9" r="4.1"/><circle cx="428" cy="495.8" r="4.1"/><circle cx="432.9" cy="494.6" r="4.1"/><circle cx="437.2" cy="495.9" r="4.1"/><circle cx="440.9" cy="496.6" r="4.1"/><circle cx="444.7" cy="497.5" r="4.1"/><circle cx="449.4" cy="501.3" r="4.1"/><circle cx="453.9" cy="492" r="4.1"/><circle cx="456.8" cy="486.1" r="4.1"/><circle cx="460.6" cy="492.3" r="4.1"/><circle cx="461.9" cy="500.6" r="4.1"/><circle cx="397.5" cy="476.8" r="4.1"/><circle cx="398.2" cy="483.5" r="4.1"/><circle cx="396.8" cy="486.8" r="4.1"/><circle cx="396.9" cy="491.1" r="4.1"/><circle cx="377.1" cy="488.2" r="4.1"/><circle cx="377.7" cy="493.4" r="4.1"/><circle cx="372" cy="490.8" r="4.1"/><circle cx="372.9" cy="497.1" r="4.1"/><circle cx="395.1" cy="489.3" r="4.1"/><circle cx="393.9" cy="494.1" r="4.1"/><circle cx="394.4" cy="496.5" r="4.1"/><circle cx="449" cy="479.6" r="4.1"/><circle cx="448.3" cy="486.6" r="4.1"/><circle cx="449.9" cy="489.3" r="4.1"/><circle cx="446.7" cy="493.2" r="4.1"/><circle cx="448" cy="496.9" r="4.1"/><circle cx="387.6" cy="493.4" r="4.1"/><circle cx="387.7" cy="498.6" r="4.1"/><circle cx="365" cy="481.5" r="4.1"/><circle cx="365.7" cy="488.2" r="4.1"/><circle cx="356.8" cy="488.6" r="4.1"/><circle cx="356.3" cy="495.7" r="4.1"/><circle cx="358.1" cy="498.7" r="4.1"/><circle cx="396.9" cy="471.7" r="4.1"/><circle cx="395.8" cy="476.2" r="4.1"/><circle cx="397.9" cy="478.6" r="4.1"/><circle cx="397.7" cy="481.5" r="4.1"/><circle cx="395.8" cy="485.6" r="4.1"/><circle cx="399.5" cy="488.5" r="4.1"/><circle cx="394.9" cy="492.1" r="4.1"/><circle cx="385.9" cy="492.1" r="4.1"/><circle cx="387.1" cy="498.6" r="4.1"/><circle cx="455" cy="486.4" r="4.1"/><circle cx="456" cy="492.1" r="4.1"/><circle cx="393.9" cy="491.6" r="4.1"/><circle cx="394.8" cy="497.4" r="4.1"/><circle cx="394.9" cy="500.1" r="4.1"/><circle cx="442" cy="476.9" r="4.1"/><circle cx="441.6" cy="482.2" r="4.1"/><circle cx="442.8" cy="485.3" r="4.1"/><circle cx="440.7" cy="487.7" r="4.1"/><circle cx="440.6" cy="491.6" r="4.1"/><circle cx="439" cy="494.1" r="4.1"/><circle cx="387.7" cy="480.4" r="4.1"/><circle cx="386.5" cy="485.5" r="4.1"/><circle cx="387.3" cy="488" r="4.1"/><circle cx="387.1" cy="491.8" r="4.1"/><circle cx="386.9" cy="494.6" r="4.1"/><circle cx="388.4" cy="498.2" r="4.1"/><circle cx="444.3" cy="481" r="4.1"/><circle cx="444.2" cy="487.8" r="4.1"/><circle cx="444.2" cy="491.3" r="4.1"/><circle cx="443.4" cy="495.1" r="4.1"/><circle cx="378.8" cy="489.5" r="4.1"/><circle cx="378.1" cy="495.6" r="4.1"/><circle cx="460.4" cy="475.4" r="4.1"/><circle cx="460.9" cy="482.1" r="4.1"/><circle cx="459.4" cy="486.5" r="4.1"/><circle cx="441.9" cy="473.5" r="4.1"/><circle cx="441.1" cy="477.9" r="4.1"/><circle cx="440.6" cy="480.5" r="4.1"/><circle cx="441.9" cy="484.8" r="4.1"/><circle cx="440.9" cy="489" r="4.1"/><circle cx="441.2" cy="493.1" r="4.1"/><circle cx="443.6" cy="496" r="4.1"/><circle cx="363.2" cy="480.7" r="4.1"/><circle cx="362.9" cy="485.6" r="4.1"/><circle cx="362.2" cy="488.3" r="4.1"/><circle cx="363.5" cy="491.1" r="4.1"/><circle cx="361.6" cy="494.8" r="4.1"/><circle cx="387.2" cy="484.2" r="4.1"/><circle cx="386.9" cy="489.5" r="4.1"/><circle cx="387.6" cy="493.4" r="4.1"/><circle cx="385.8" cy="495.9" r="4.1"/><circle cx="387.7" cy="499" r="4.1"/><circle cx="361.7" cy="492.3" r="4.1"/><circle cx="361.1" cy="497.9" r="4.1"/><circle cx="456.3" cy="478.3" r="4.1"/><circle cx="456.1" cy="483.7" r="4.1"/><circle cx="460.8" cy="477.9" r="4.1"/><circle cx="460.5" cy="484.4" r="4.1"/><circle cx="461.9" cy="486.7" r="4.1"/><circle cx="442" cy="486.2" r="4.1"/><circle cx="441" cy="491.9" r="4.1"/><circle cx="441.8" cy="494.2" r="4.1"/><circle cx="451.6" cy="494.8" r="4.1"/><circle cx="451.5" cy="500.3" r="4.1"/><circle cx="382.6" cy="490.2" r="4.1"/><circle cx="453.2" cy="487.5" r="4.1"/><circle cx="405.4" cy="482.5" r="4.1"/><circle cx="457.8" cy="480.6" r="4.1"/><circle cx="365.4" cy="476.7" r="4.1"/><circle cx="458.7" cy="477.3" r="4.1"/><circle cx="357.4" cy="486.3" r="4.1"/><circle cx="394.1" cy="486.1" r="4.1"/><circle cx="419.7" cy="488" r="4.1"/><circle cx="369.1" cy="479.4" r="4.1"/><circle cx="375.9" cy="489.1" r="4.1"/><circle cx="569.3" cy="499.4" r="4.1"/><circle cx="570.4" cy="499.2" r="4.1"/><circle cx="574.2" cy="498.7" r="4.1"/><circle cx="578.4" cy="498.7" r="4.1"/><circle cx="581.5" cy="498.7" r="4.1"/><circle cx="586" cy="499.2" r="4.1"/><circle cx="590.6" cy="496" r="4.1"/><circle cx="594.3" cy="494.2" r="4.1"/><circle cx="597.7" cy="492.8" r="4.1"/><circle cx="602.3" cy="492" r="4.1"/><circle cx="607" cy="492" r="4.1"/><circle cx="610" cy="483.9" r="4.1"/><circle cx="614" cy="492.8" r="4.1"/><circle cx="618.2" cy="495.4" r="4.1"/><circle cx="622.9" cy="498.7" r="4.1"/><circle cx="627.2" cy="493.5" r="4.1"/><circle cx="630.2" cy="491.5" r="4.1"/><circle cx="633.3" cy="499.9" r="4.1"/><circle cx="585.4" cy="489.5" r="4.1"/><circle cx="585.1" cy="494.4" r="4.1"/><circle cx="586.8" cy="497.1" r="4.1"/><circle cx="575.9" cy="461.6" r="4.1"/><circle cx="577.1" cy="467.1" r="4.1"/><circle cx="576.9" cy="471" r="4.1"/><circle cx="575" cy="474.2" r="4.1"/><circle cx="574.2" cy="477.8" r="4.1"/><circle cx="575.5" cy="480.6" r="4.1"/><circle cx="575.5" cy="483" r="4.1"/><circle cx="577.9" cy="486.9" r="4.1"/><circle cx="577.4" cy="490.3" r="4.1"/><circle cx="573" cy="493.5" r="4.1"/><circle cx="575.4" cy="497.1" r="4.1"/><circle cx="627.1" cy="482.7" r="4.1"/><circle cx="626.9" cy="489.3" r="4.1"/><circle cx="627.7" cy="492" r="4.1"/><circle cx="618.8" cy="478.3" r="4.1"/><circle cx="618.8" cy="484.7" r="4.1"/><circle cx="618" cy="487.9" r="4.1"/><circle cx="616.9" cy="491.5" r="4.1"/><circle cx="620" cy="494.7" r="4.1"/><circle cx="609.4" cy="482.8" r="4.1"/><circle cx="609.7" cy="488.5" r="4.1"/><circle cx="612.5" cy="474.9" r="4.1"/><circle cx="612.1" cy="481.5" r="4.1"/><circle cx="631.2" cy="485.8" r="4.1"/><circle cx="631.7" cy="490.6" r="4.1"/><circle cx="602.6" cy="485.6" r="4.1"/><circle cx="602.9" cy="491.6" r="4.1"/><circle cx="610.1" cy="468.5" r="4.1"/><circle cx="610.9" cy="474.1" r="4.1"/><circle cx="610.6" cy="476.8" r="4.1"/><circle cx="611.2" cy="479.9" r="4.1"/><circle cx="612.6" cy="482.5" r="4.1"/><circle cx="607.3" cy="485.5" r="4.1"/><circle cx="609.3" cy="488.4" r="4.1"/><circle cx="609.4" cy="490.8" r="4.1"/><circle cx="613.6" cy="476.6" r="4.1"/><circle cx="614.2" cy="481.6" r="4.1"/><circle cx="613.9" cy="485.8" r="4.1"/><circle cx="620.1" cy="485.2" r="4.1"/><circle cx="620.8" cy="489.9" r="4.1"/><circle cx="620.7" cy="493.9" r="4.1"/><circle cx="605.6" cy="484.1" r="4.1"/><circle cx="605.5" cy="489.5" r="4.1"/><circle cx="621.1" cy="485.9" r="4.1"/><circle cx="620.5" cy="491.8" r="4.1"/><circle cx="620.8" cy="495.8" r="4.1"/><circle cx="586.5" cy="489.3" r="4.1"/><circle cx="586.1" cy="494.9" r="4.1"/><circle cx="587.3" cy="497.2" r="4.1"/><circle cx="585.2" cy="489.9" r="4.1"/><circle cx="585.5" cy="495.5" r="4.1"/><circle cx="584.8" cy="499.2" r="4.1"/><circle cx="623.6" cy="494.8" r="4.1"/><circle cx="622" cy="483.6" r="4.1"/><circle cx="619.2" cy="490.6" r="4.1"/><circle cx="622.2" cy="486.8" r="4.1"/><circle cx="570.7" cy="495.9" r="4.1"/><circle cx="629.8" cy="475.7" r="4.1"/><circle cx="585.6" cy="494.4" r="4.1"/><circle cx="720.1" cy="496.5" r="4.1"/><circle cx="720.7" cy="498.3" r="4.1"/><circle cx="724.9" cy="486.6" r="4.1"/><circle cx="729.4" cy="490" r="4.1"/><circle cx="732.9" cy="497.6" r="4.1"/><circle cx="736.5" cy="498.7" r="4.1"/><circle cx="740.6" cy="497" r="4.1"/><circle cx="744.2" cy="497" r="4.1"/><circle cx="749.5" cy="492.7" r="4.1"/><circle cx="753.5" cy="487.8" r="4.1"/><circle cx="756.3" cy="483.6" r="4.1"/><circle cx="760" cy="484.1" r="4.1"/><circle cx="764.4" cy="493" r="4.1"/><circle cx="768.6" cy="496.3" r="4.1"/><circle cx="773.5" cy="489.8" r="4.1"/><circle cx="777.5" cy="497" r="4.1"/><circle cx="781.4" cy="497" r="4.1"/><circle cx="784.2" cy="493.2" r="4.1"/><circle cx="789.4" cy="495.5" r="4.1"/><circle cx="793.2" cy="492.8" r="4.1"/><circle cx="797.2" cy="490.1" r="4.1"/><circle cx="801.7" cy="485.6" r="4.1"/><circle cx="804.2" cy="483.8" r="4.1"/><circle cx="808.4" cy="485.1" r="4.1"/><circle cx="811.5" cy="489.3" r="4.1"/><circle cx="805.4" cy="467.4" r="4.1"/><circle cx="806" cy="473.5" r="4.1"/><circle cx="805" cy="476.1" r="4.1"/><circle cx="804" cy="478.9" r="4.1"/><circle cx="803.8" cy="482.2" r="4.1"/><circle cx="733.2" cy="481.2" r="4.1"/><circle cx="733" cy="487.7" r="4.1"/><circle cx="734.8" cy="490.1" r="4.1"/><circle cx="735.3" cy="492.8" r="4.1"/><circle cx="735.6" cy="496.9" r="4.1"/><circle cx="761.4" cy="477.8" r="4.1"/><circle cx="777.3" cy="485.8" r="4.1"/><circle cx="777.4" cy="492.6" r="4.1"/><circle cx="776.3" cy="496.2" r="4.1"/><circle cx="725.8" cy="469.1" r="4.1"/><circle cx="726.4" cy="473.9" r="4.1"/><circle cx="725.5" cy="476.8" r="4.1"/><circle cx="724.8" cy="479.4" r="4.1"/><circle cx="724.9" cy="483.4" r="4.1"/><circle cx="725.7" cy="486.1" r="4.1"/><circle cx="802.6" cy="479.1" r="4.1"/><circle cx="803" cy="483.6" r="4.1"/><circle cx="739.5" cy="485.4" r="4.1"/><circle cx="739.1" cy="490.5" r="4.1"/><circle cx="741.2" cy="493.5" r="4.1"/><circle cx="804.1" cy="477.8" r="4.1"/><circle cx="725.6" cy="468.7" r="4.1"/><circle cx="724.9" cy="475.9" r="4.1"/><circle cx="725.3" cy="479.8" r="4.1"/><circle cx="723.8" cy="482.5" r="4.1"/><circle cx="725.9" cy="486.5" r="4.1"/><circle cx="760" cy="473.7" r="4.1"/><circle cx="759.3" cy="478.4" r="4.1"/><circle cx="760.6" cy="482.3" r="4.1"/><circle cx="727.9" cy="480.9" r="4.1"/><circle cx="727.3" cy="486.7" r="4.1"/><circle cx="776.2" cy="475.6" r="4.1"/><circle cx="775.4" cy="481.6" r="4.1"/><circle cx="776.7" cy="484.1" r="4.1"/><circle cx="776.9" cy="487.2" r="4.1"/><circle cx="777.6" cy="489.7" r="4.1"/><circle cx="778.1" cy="492.7" r="4.1"/><circle cx="765.5" cy="487.5" r="4.1"/><circle cx="765.9" cy="493.3" r="4.1"/><circle cx="737.3" cy="476.1" r="4.1"/><circle cx="737.2" cy="480.9" r="4.1"/><circle cx="735.9" cy="484.5" r="4.1"/><circle cx="737.2" cy="487.9" r="4.1"/><circle cx="735.4" cy="491.2" r="4.1"/><circle cx="739.4" cy="495" r="4.1"/><circle cx="736.1" cy="499.1" r="4.1"/><circle cx="754.7" cy="466.2" r="4.1"/><circle cx="755.9" cy="473.1" r="4.1"/><circle cx="755.1" cy="476.4" r="4.1"/><circle cx="755.2" cy="479.8" r="4.1"/><circle cx="757.5" cy="482.2" r="4.1"/><circle cx="753.1" cy="485" r="4.1"/><circle cx="742.9" cy="475.2" r="4.1"/><circle cx="743.6" cy="479.8" r="4.1"/><circle cx="741.8" cy="482.6" r="4.1"/><circle cx="743.6" cy="486.1" r="4.1"/><circle cx="744.3" cy="489.5" r="4.1"/><circle cx="745.6" cy="492" r="4.1"/><circle cx="739.9" cy="495.8" r="4.1"/><circle cx="765" cy="480.9" r="4.1"/><circle cx="765" cy="485.6" r="4.1"/><circle cx="765.5" cy="488.2" r="4.1"/><circle cx="763.8" cy="492.3" r="4.1"/><circle cx="788.4" cy="486.4" r="4.1"/><circle cx="787.9" cy="493.5" r="4.1"/><circle cx="796.4" cy="478.7" r="4.1"/><circle cx="797" cy="485.8" r="4.1"/><circle cx="795.7" cy="488.8" r="4.1"/><circle cx="760.3" cy="464.3" r="4.1"/><circle cx="760.6" cy="471" r="4.1"/><circle cx="760" cy="473.4" r="4.1"/><circle cx="761.8" cy="477.7" r="4.1"/><circle cx="759.6" cy="480.5" r="4.1"/><circle cx="753.2" cy="475.1" r="4.1"/><circle cx="753.6" cy="480.7" r="4.1"/><circle cx="752.5" cy="483" r="4.1"/><circle cx="754.7" cy="487.3" r="4.1"/><circle cx="777.8" cy="484.4" r="4.1"/><circle cx="800.5" cy="474.3" r="4.1"/><circle cx="723.7" cy="483" r="4.1"/><circle cx="744.6" cy="486" r="4.1"/><circle cx="745.3" cy="487.5" r="4.1"/><circle cx="804.2" cy="473.8" r="4.1"/><circle cx="743.3" cy="487.8" r="4.1"/><circle cx="759.8" cy="469" r="4.1"/><circle cx="746.6" cy="490.3" r="4.1"/><circle cx="901.5" cy="499.8" r="4.1"/><circle cx="902.5" cy="497.6" r="4.1"/><circle cx="906.8" cy="495.7" r="4.1"/><circle cx="910.8" cy="500.7" r="4.1"/><circle cx="913.7" cy="501.1" r="4.1"/><circle cx="918" cy="501.7" r="4.1"/><circle cx="921.7" cy="503.8" r="4.1"/><circle cx="926.8" cy="503.2" r="4.1"/><circle cx="930.9" cy="502.7" r="4.1"/><circle cx="934.5" cy="490.3" r="4.1"/><circle cx="938.7" cy="498.5" r="4.1"/><circle cx="943.1" cy="498.4" r="4.1"/><circle cx="947.3" cy="496.6" r="4.1"/><circle cx="950.6" cy="494.1" r="4.1"/><circle cx="955.7" cy="499.8" r="4.1"/><circle cx="955.7" cy="499.8" r="4.1"/><circle cx="935.1" cy="483" r="4.1"/><circle cx="935.9" cy="490" r="4.1"/><circle cx="903.9" cy="490.1" r="4.1"/><circle cx="903.8" cy="495" r="4.1"/><circle cx="904.2" cy="488.6" r="4.1"/><circle cx="904.7" cy="493.5" r="4.1"/><circle cx="904.7" cy="496.9" r="4.1"/><circle cx="925" cy="484.9" r="4.1"/><circle cx="925.8" cy="489.3" r="4.1"/><circle cx="924.5" cy="493.2" r="4.1"/><circle cx="926.6" cy="495.6" r="4.1"/><circle cx="922.8" cy="499.2" r="4.1"/><circle cx="907.7" cy="475.1" r="4.1"/><circle cx="908.4" cy="482.1" r="4.1"/><circle cx="908.5" cy="484.6" r="4.1"/><circle cx="908.9" cy="487.8" r="4.1"/><circle cx="906.8" cy="491.8" r="4.1"/><circle cx="910.7" cy="494.3" r="4.1"/><circle cx="951.7" cy="477.3" r="4.1"/><circle cx="951.7" cy="484.1" r="4.1"/><circle cx="950.2" cy="487.4" r="4.1"/><circle cx="951.2" cy="491.1" r="4.1"/><circle cx="953.7" cy="494.5" r="4.1"/><circle cx="942.7" cy="492.6" r="4.1"/><circle cx="916.3" cy="488.1" r="4.1"/><circle cx="916" cy="494.3" r="4.1"/><circle cx="914.6" cy="497.1" r="4.1"/><circle cx="915.5" cy="500.2" r="4.1"/><circle cx="918.7" cy="494.9" r="4.1"/><circle cx="918" cy="501.2" r="4.1"/><circle cx="929.8" cy="492.7" r="4.1"/><circle cx="929" cy="498.1" r="4.1"/><circle cx="928.3" cy="502.2" r="4.1"/><circle cx="919.8" cy="479.9" r="4.1"/><circle cx="919.1" cy="486.5" r="4.1"/><circle cx="920" cy="490.2" r="4.1"/><circle cx="920.8" cy="493.5" r="4.1"/><circle cx="917.7" cy="497.5" r="4.1"/><circle cx="918.9" cy="500.4" r="4.1"/><circle cx="905" cy="487.3" r="4.1"/><circle cx="905.1" cy="493.7" r="4.1"/><circle cx="904.7" cy="496.2" r="4.1"/><circle cx="921" cy="496.6" r="4.1"/><circle cx="922.2" cy="501" r="4.1"/><circle cx="906.5" cy="484.1" r="4.1"/><circle cx="954.1" cy="487.7" r="4.1"/><circle cx="907.8" cy="486.8" r="4.1"/><circle cx="925.1" cy="496.1" r="4.1"/><circle cx="930.9" cy="499.4" r="4.1"/><circle cx="950.9" cy="483.1" r="4.1"/><circle cx="1033" cy="493.6" r="4.1"/><circle cx="1033.6" cy="492.8" r="4.1"/><circle cx="1037.9" cy="499.2" r="4.1"/><circle cx="1041.6" cy="499.2" r="4.1"/><circle cx="1046" cy="499.2" r="4.1"/><circle cx="1049.8" cy="499.2" r="4.1"/><circle cx="1053.4" cy="493.4" r="4.1"/><circle cx="1057.9" cy="499.2" r="4.1"/><circle cx="1062" cy="489.4" r="4.1"/><circle cx="1067.2" cy="484.5" r="4.1"/><circle cx="1070.5" cy="484.5" r="4.1"/><circle cx="1074.4" cy="487.5" r="4.1"/><circle cx="1078.3" cy="484.8" r="4.1"/><circle cx="1082.4" cy="485" r="4.1"/><circle cx="1086.7" cy="484.8" r="4.1"/><circle cx="1090.4" cy="486" r="4.1"/><circle cx="1094.3" cy="490.9" r="4.1"/><circle cx="1095.7" cy="497.9" r="4.1"/><circle cx="1061.5" cy="485.9" r="4.1"/><circle cx="1060.8" cy="491.1" r="4.1"/><circle cx="1060.9" cy="493.6" r="4.1"/><circle cx="1062.4" cy="496.5" r="4.1"/><circle cx="1091.7" cy="476.6" r="4.1"/><circle cx="1090.5" cy="482.6" r="4.1"/><circle cx="1091.6" cy="485.3" r="4.1"/><circle cx="1055.5" cy="473.6" r="4.1"/><circle cx="1054.7" cy="480.5" r="4.1"/><circle cx="1056.7" cy="483.8" r="4.1"/><circle cx="1054.5" cy="486.7" r="4.1"/><circle cx="1053.8" cy="489" r="4.1"/><circle cx="1056.8" cy="491.9" r="4.1"/><circle cx="1058.2" cy="490.1" r="4.1"/><circle cx="1058.4" cy="497" r="4.1"/><circle cx="1078.4" cy="469.1" r="4.1"/><circle cx="1079.5" cy="475.8" r="4.1"/><circle cx="1077.7" cy="478.8" r="4.1"/><circle cx="1078.9" cy="481.5" r="4.1"/><circle cx="1072.8" cy="477.7" r="4.1"/><circle cx="1073.3" cy="484.2" r="4.1"/><circle cx="1073.5" cy="487.3" r="4.1"/><circle cx="1036.7" cy="485.5" r="4.1"/><circle cx="1036.7" cy="491.7" r="4.1"/><circle cx="1037.3" cy="495" r="4.1"/><circle cx="1062.4" cy="491.5" r="4.1"/><circle cx="1094.5" cy="481.8" r="4.1"/><circle cx="1053.5" cy="489.5" r="4.1"/><circle cx="1054.3" cy="494.3" r="4.1"/><circle cx="1083.8" cy="474.3" r="4.1"/><circle cx="1083.8" cy="480.4" r="4.1"/><circle cx="1084" cy="484" r="4.1"/><circle cx="1079.4" cy="476.5" r="4.1"/><circle cx="1079.7" cy="483.1" r="4.1"/><circle cx="1081" cy="471" r="4.1"/><circle cx="1082" cy="476.9" r="4.1"/><circle cx="1079.7" cy="479.5" r="4.1"/><circle cx="1081.8" cy="482.8" r="4.1"/><circle cx="1056.1" cy="483.6" r="4.1"/><circle cx="1055" cy="488.2" r="4.1"/><circle cx="1054.5" cy="490.8" r="4.1"/><circle cx="1068.1" cy="477.2" r="4.1"/><circle cx="1067.1" cy="482.6" r="4.1"/><circle cx="1079" cy="470.9" r="4.1"/><circle cx="1043.5" cy="495.7" r="4.1"/><circle cx="1081.5" cy="478.4" r="4.1"/><circle cx="1094.1" cy="478.7" r="4.1"/><circle cx="1072.7" cy="480" r="4.1"/><circle cx="1082.9" cy="476.4" r="4.1"/><circle cx="1223.5" cy="496.2" r="4.1"/><circle cx="1224.2" cy="494.2" r="4.1"/><circle cx="1227.9" cy="493.4" r="4.1"/><circle cx="1231.9" cy="493.6" r="4.1"/><circle cx="1236.5" cy="495.9" r="4.1"/><circle cx="1239.7" cy="500.5" r="4.1"/><circle cx="1243.8" cy="496.5" r="4.1"/><circle cx="1249.1" cy="483" r="4.1"/><circle cx="1252.1" cy="500.3" r="4.1"/><circle cx="1257" cy="500.6" r="4.1"/><circle cx="1261.1" cy="500.4" r="4.1"/><circle cx="1264.5" cy="495.9" r="4.1"/><circle cx="1268" cy="496.9" r="4.1"/><circle cx="1272" cy="502.7" r="4.1"/><circle cx="1277.3" cy="501.6" r="4.1"/><circle cx="1280.1" cy="503.7" r="4.1"/><circle cx="1284.8" cy="503.2" r="4.1"/><circle cx="1288.9" cy="501.7" r="4.1"/><circle cx="1292.3" cy="493.3" r="4.1"/><circle cx="1296.9" cy="500.4" r="4.1"/><circle cx="1300.5" cy="491" r="4.1"/><circle cx="1305.1" cy="500.4" r="4.1"/><circle cx="1309.1" cy="503.6" r="4.1"/><circle cx="1312.9" cy="502.1" r="4.1"/><circle cx="1313.7" cy="497.2" r="4.1"/><circle cx="1259.7" cy="492.8" r="4.1"/><circle cx="1260.7" cy="497.9" r="4.1"/><circle cx="1303.8" cy="491.7" r="4.1"/><circle cx="1304" cy="497.5" r="4.1"/><circle cx="1285.7" cy="495.3" r="4.1"/><circle cx="1285" cy="500.1" r="4.1"/><circle cx="1285.1" cy="502.5" r="4.1"/><circle cx="1250.1" cy="475.5" r="4.1"/><circle cx="1250.2" cy="480.5" r="4.1"/><circle cx="1287.2" cy="496.6" r="4.1"/><circle cx="1288.3" cy="502.7" r="4.1"/><circle cx="1279.4" cy="486.7" r="4.1"/><circle cx="1279.7" cy="492" r="4.1"/><circle cx="1280.4" cy="495.3" r="4.1"/><circle cx="1281" cy="497.7" r="4.1"/><circle cx="1278.7" cy="500.8" r="4.1"/><circle cx="1277.5" cy="503.3" r="4.1"/><circle cx="1284.4" cy="496.6" r="4.1"/><circle cx="1284" cy="501.3" r="4.1"/><circle cx="1253.8" cy="478.3" r="4.1"/><circle cx="1253.5" cy="484.1" r="4.1"/><circle cx="1254.8" cy="488" r="4.1"/><circle cx="1254.1" cy="491.8" r="4.1"/><circle cx="1254.2" cy="494.5" r="4.1"/><circle cx="1255.3" cy="498.6" r="4.1"/><circle cx="1287.7" cy="493" r="4.1"/><circle cx="1288.3" cy="500.2" r="4.1"/><circle cx="1236.4" cy="471.6" r="4.1"/><circle cx="1236.5" cy="478.6" r="4.1"/><circle cx="1236.9" cy="482.7" r="4.1"/><circle cx="1235.8" cy="486.2" r="4.1"/><circle cx="1237.5" cy="490.2" r="4.1"/><circle cx="1234.8" cy="494.3" r="4.1"/><circle cx="1271.1" cy="466.1" r="4.1"/><circle cx="1272" cy="473.3" r="4.1"/><circle cx="1272.4" cy="476.1" r="4.1"/><circle cx="1270.2" cy="478.9" r="4.1"/><circle cx="1270.1" cy="482.2" r="4.1"/><circle cx="1274" cy="485.5" r="4.1"/><circle cx="1273" cy="489.2" r="4.1"/><circle cx="1273.8" cy="492.4" r="4.1"/><circle cx="1273.1" cy="496.3" r="4.1"/><circle cx="1297.3" cy="490" r="4.1"/><circle cx="1298.3" cy="496.2" r="4.1"/><circle cx="1297.9" cy="499.2" r="4.1"/><circle cx="1294.7" cy="487.9" r="4.1"/><circle cx="1294" cy="492.3" r="4.1"/><circle cx="1261.3" cy="486" r="4.1"/><circle cx="1260.8" cy="491.4" r="4.1"/><circle cx="1262.4" cy="494.4" r="4.1"/><circle cx="1260.5" cy="498" r="4.1"/><circle cx="1260.2" cy="500.5" r="4.1"/><circle cx="1263.7" cy="481.5" r="4.1"/><circle cx="1263.8" cy="486.3" r="4.1"/><circle cx="1264.4" cy="488.7" r="4.1"/><circle cx="1262.5" cy="491.4" r="4.1"/><circle cx="1262.7" cy="495.6" r="4.1"/><circle cx="1303.7" cy="482.7" r="4.1"/><circle cx="1303.4" cy="488.2" r="4.1"/><circle cx="1303.4" cy="492.5" r="4.1"/><circle cx="1302.1" cy="496.8" r="4.1"/><circle cx="1238.1" cy="486.4" r="4.1"/><circle cx="1239.3" cy="491.2" r="4.1"/><circle cx="1239.4" cy="494.5" r="4.1"/><circle cx="1237.9" cy="497.3" r="4.1"/><circle cx="1273.3" cy="478.2" r="4.1"/><circle cx="1274.1" cy="483.6" r="4.1"/><circle cx="1273.8" cy="487.8" r="4.1"/><circle cx="1273.8" cy="490.2" r="4.1"/><circle cx="1275.7" cy="493.5" r="4.1"/><circle cx="1274.3" cy="496.5" r="4.1"/><circle cx="1272.4" cy="500.1" r="4.1"/><circle cx="1284.3" cy="475.1" r="4.1"/><circle cx="1285.3" cy="480.5" r="4.1"/><circle cx="1285.4" cy="483" r="4.1"/><circle cx="1284.6" cy="486.7" r="4.1"/><circle cx="1285.7" cy="489.9" r="4.1"/><circle cx="1285.8" cy="494.1" r="4.1"/><circle cx="1280.9" cy="497.9" r="4.1"/><circle cx="1281.3" cy="500.9" r="4.1"/><circle cx="1303.6" cy="490.3" r="4.1"/><circle cx="1302.7" cy="496.3" r="4.1"/><circle cx="1290.5" cy="486.4" r="4.1"/><circle cx="1290.3" cy="493" r="4.1"/><circle cx="1290.4" cy="496.4" r="4.1"/><circle cx="1291.3" cy="500.7" r="4.1"/><circle cx="1284.3" cy="495.9" r="4.1"/><circle cx="1309.9" cy="492.2" r="4.1"/><circle cx="1285.6" cy="496.8" r="4.1"/><circle cx="1238.4" cy="489.1" r="4.1"/><circle cx="1297.7" cy="488" r="4.1"/><circle cx="1255" cy="496.5" r="4.1"/><circle cx="1270" cy="483.5" r="4.1"/><circle cx="1238.5" cy="487.2" r="4.1"/><circle cx="1239.2" cy="492.2" r="4.1"/><circle cx="1349.7" cy="499" r="4.1"/><circle cx="1350.8" cy="500.4" r="4.1"/><circle cx="1353.6" cy="500.8" r="4.1"/><circle cx="1357.9" cy="494.6" r="4.1"/><circle cx="1362.5" cy="490.5" r="4.1"/><circle cx="1366.1" cy="487.2" r="4.1"/><circle cx="1370.1" cy="490.1" r="4.1"/><circle cx="1374.6" cy="490.1" r="4.1"/><circle cx="1378" cy="491.9" r="4.1"/><circle cx="1383" cy="495.1" r="4.1"/><circle cx="1386.1" cy="486.9" r="4.1"/><circle cx="1391.1" cy="494.1" r="4.1"/><circle cx="1395.1" cy="499" r="4.1"/><circle cx="1398.7" cy="497" r="4.1"/><circle cx="1401.2" cy="496.7" r="4.1"/><circle cx="1389.5" cy="482.6" r="4.1"/><circle cx="1388.7" cy="488.2" r="4.1"/><circle cx="1386.7" cy="473" r="4.1"/><circle cx="1387" cy="478.9" r="4.1"/><circle cx="1387.9" cy="481.7" r="4.1"/><circle cx="1388" cy="486" r="4.1"/><circle cx="1366.8" cy="480" r="4.1"/><circle cx="1366.7" cy="484.7" r="4.1"/><circle cx="1385.8" cy="482" r="4.1"/><circle cx="1385.8" cy="486.9" r="4.1"/><circle cx="1385.1" cy="489.8" r="4.1"/><circle cx="1386" cy="493.6" r="4.1"/><circle cx="1359.9" cy="477.5" r="4.1"/><circle cx="1360.3" cy="482.6" r="4.1"/><circle cx="1361.6" cy="486.4" r="4.1"/><circle cx="1362" cy="490.2" r="4.1"/><circle cx="1361.3" cy="494.4" r="4.1"/><circle cx="1353" cy="493.1" r="4.1"/><circle cx="1353.8" cy="500" r="4.1"/><circle cx="1363.3" cy="480.9" r="4.1"/><circle cx="1364.5" cy="487.1" r="4.1"/><circle cx="1362.2" cy="490" r="4.1"/><circle cx="1368.1" cy="468.2" r="4.1"/><circle cx="1367.4" cy="472.9" r="4.1"/><circle cx="1369" cy="475.5" r="4.1"/><circle cx="1370.2" cy="478.8" r="4.1"/><circle cx="1369.7" cy="483" r="4.1"/><circle cx="1370.2" cy="486.3" r="4.1"/><circle cx="1355.7" cy="487.4" r="4.1"/><circle cx="1355.2" cy="492.4" r="4.1"/><circle cx="1356.9" cy="494.7" r="4.1"/><circle cx="1357.5" cy="498.5" r="4.1"/><circle cx="1372.2" cy="471.9" r="4.1"/><circle cx="1372.9" cy="478.6" r="4.1"/><circle cx="1370.8" cy="481.2" r="4.1"/><circle cx="1372.6" cy="484" r="4.1"/><circle cx="1369.7" cy="487.1" r="4.1"/><circle cx="1389.5" cy="476.9" r="4.1"/><circle cx="1390" cy="483.8" r="4.1"/><circle cx="1389.4" cy="486.3" r="4.1"/><circle cx="1395" cy="487.2" r="4.1"/><circle cx="1394.4" cy="492.2" r="4.1"/><circle cx="1394.6" cy="496.3" r="4.1"/><circle cx="1395.3" cy="498.9" r="4.1"/><circle cx="1360.3" cy="486.1" r="4.1"/><circle cx="1379.8" cy="481.3" r="4.1"/><circle cx="1385.9" cy="484.9" r="4.1"/><circle cx="1353.6" cy="489.1" r="4.1"/><circle cx="1352.9" cy="492" r="4.1"/><circle cx="1460.5" cy="496.6" r="4.1"/><circle cx="1460.5" cy="492.7" r="4.1"/><circle cx="1464.7" cy="490.3" r="4.1"/><circle cx="1468.9" cy="485.5" r="4.1"/><circle cx="1473.4" cy="485.9" r="4.1"/><circle cx="1477" cy="494.8" r="4.1"/><circle cx="1481.5" cy="503.1" r="4.1"/><circle cx="1484.5" cy="500.5" r="4.1"/><circle cx="1489.8" cy="500" r="4.1"/><circle cx="1492.9" cy="500" r="4.1"/><circle cx="1497.7" cy="500" r="4.1"/><circle cx="1500.4" cy="496.8" r="4.1"/><circle cx="1505.7" cy="486.1" r="4.1"/><circle cx="1508.8" cy="482.2" r="4.1"/><circle cx="1513.8" cy="489.5" r="4.1"/><circle cx="1517.7" cy="496.4" r="4.1"/><circle cx="1521.5" cy="500" r="4.1"/><circle cx="1524.9" cy="499.8" r="4.1"/><circle cx="1528.5" cy="495.9" r="4.1"/><circle cx="1529.8" cy="496.7" r="4.1"/><circle cx="1522.9" cy="492.9" r="4.1"/><circle cx="1523.1" cy="499" r="4.1"/><circle cx="1471.2" cy="479.2" r="4.1"/><circle cx="1471.1" cy="484.6" r="4.1"/><circle cx="1475.9" cy="486.6" r="4.1"/><circle cx="1470.1" cy="473.6" r="4.1"/><circle cx="1470.4" cy="478.4" r="4.1"/><circle cx="1469.5" cy="481.2" r="4.1"/><circle cx="1468.3" cy="484.6" r="4.1"/><circle cx="1515.3" cy="485.6" r="4.1"/><circle cx="1514.8" cy="492.1" r="4.1"/><circle cx="1475.9" cy="482.5" r="4.1"/><circle cx="1475.9" cy="488.8" r="4.1"/><circle cx="1474.6" cy="492.8" r="4.1"/><circle cx="1517.8" cy="488.4" r="4.1"/><circle cx="1517.4" cy="494.1" r="4.1"/><circle cx="1509.3" cy="475.8" r="4.1"/><circle cx="1509" cy="481.6" r="4.1"/><circle cx="1490.7" cy="493.4" r="4.1"/><circle cx="1491" cy="498.8" r="4.1"/><circle cx="1498.7" cy="493.9" r="4.1"/><circle cx="1499" cy="500.4" r="4.1"/><circle cx="1526.4" cy="475.6" r="4.1"/><circle cx="1526.8" cy="482.7" r="4.1"/><circle cx="1525.7" cy="485.5" r="4.1"/><circle cx="1525.6" cy="489.6" r="4.1"/><circle cx="1525.5" cy="492" r="4.1"/><circle cx="1526.5" cy="496.2" r="4.1"/><circle cx="1523.6" cy="500.1" r="4.1"/><circle cx="1482.8" cy="495.5" r="4.1"/><circle cx="1482" cy="500.9" r="4.1"/><circle cx="1493.5" cy="492.7" r="4.1"/><circle cx="1493.9" cy="498.9" r="4.1"/><circle cx="1493.2" cy="481.5" r="4.1"/><circle cx="1493.1" cy="486.6" r="4.1"/><circle cx="1493.6" cy="490.1" r="4.1"/><circle cx="1494.4" cy="492.7" r="4.1"/><circle cx="1494.4" cy="497" r="4.1"/><circle cx="1485.9" cy="472.6" r="4.1"/><circle cx="1486.3" cy="477.6" r="4.1"/><circle cx="1484.9" cy="481.8" r="4.1"/><circle cx="1484.2" cy="484.5" r="4.1"/><circle cx="1484.2" cy="487.8" r="4.1"/><circle cx="1487.7" cy="490.5" r="4.1"/><circle cx="1489.4" cy="494" r="4.1"/><circle cx="1487.6" cy="497.1" r="4.1"/><circle cx="1490.2" cy="499.5" r="4.1"/><circle cx="1493.9" cy="487.7" r="4.1"/><circle cx="1494.5" cy="493.4" r="4.1"/><circle cx="1492.7" cy="497" r="4.1"/><circle cx="1474.8" cy="471" r="4.1"/><circle cx="1492.2" cy="494.1" r="4.1"/><circle cx="1526.7" cy="492.9" r="4.1"/><circle cx="1488.8" cy="492.8" r="4.1"/><circle cx="1506.7" cy="482.6" r="4.1"/><circle cx="1486.5" cy="495.5" r="4.1"/><circle cx="1517.6" cy="493.2" r="4.1"/><circle cx="1644.5" cy="498.5" r="4.1"/><circle cx="1644.8" cy="498.7" r="4.1"/><circle cx="1648.5" cy="498.6" r="4.1"/><circle cx="1653.8" cy="498.2" r="4.1"/><circle cx="1657.1" cy="486.3" r="4.1"/><circle cx="1660.9" cy="489.2" r="4.1"/><circle cx="1664.3" cy="492.6" r="4.1"/><circle cx="1658.9" cy="478.7" r="4.1"/><circle cx="1659.5" cy="484.3" r="4.1"/><circle cx="1651.1" cy="483.6" r="4.1"/><circle cx="1651.6" cy="489.3" r="4.1"/><circle cx="1650.3" cy="493.1" r="4.1"/><circle cx="1651.1" cy="497.2" r="4.1"/><circle cx="1656.1" cy="475.5" r="4.1"/><circle cx="1655.9" cy="481.2" r="4.1"/><circle cx="1656.5" cy="485.3" r="4.1"/><circle cx="1655.5" cy="488.1" r="4.1"/><circle cx="1658.4" cy="491.2" r="4.1"/><circle cx="1653.7" cy="494.9" r="4.1"/><circle cx="1645.6" cy="484.6" r="4.1"/><circle cx="1645.5" cy="491.1" r="4.1"/><circle cx="1645.7" cy="493.6" r="4.1"/><circle cx="1646.8" cy="497.6" r="4.1"/><circle cx="1649.4" cy="480.1" r="4.1"/><circle cx="1649.9" cy="485.1" r="4.1"/><circle cx="1649" cy="489.4" r="4.1"/><circle cx="1650" cy="492.5" r="4.1"/><circle cx="1647.6" cy="496.7" r="4.1"/><circle cx="1651.2" cy="486.9" r="4.1"/><circle cx="1648.5" cy="489.1" r="4.1"/><circle cx="1802.9" cy="490.9" r="4.1"/><circle cx="1803.2" cy="490.1" r="4.1"/><circle cx="1808.2" cy="501.4" r="4.1"/><circle cx="1811.4" cy="502.9" r="4.1"/><circle cx="1815.9" cy="500.9" r="4.1"/><circle cx="1818.9" cy="494.9" r="4.1"/><circle cx="1824.2" cy="494.7" r="4.1"/><circle cx="1828.5" cy="496.8" r="4.1"/><circle cx="1831.2" cy="492.9" r="4.1"/><circle cx="1836.2" cy="491.7" r="4.1"/><circle cx="1839.5" cy="491.5" r="4.1"/><circle cx="1843.4" cy="490" r="4.1"/><circle cx="1846.5" cy="489.7" r="4.1"/><circle cx="1832" cy="472.2" r="4.1"/><circle cx="1831.9" cy="478.4" r="4.1"/><circle cx="1832.3" cy="481.1" r="4.1"/><circle cx="1831" cy="484.5" r="4.1"/><circle cx="1830.3" cy="488.7" r="4.1"/><circle cx="1829.4" cy="491.3" r="4.1"/><circle cx="1832.2" cy="493.9" r="4.1"/><circle cx="1810.3" cy="489.2" r="4.1"/><circle cx="1810.1" cy="495.2" r="4.1"/><circle cx="1808.8" cy="498.6" r="4.1"/><circle cx="1809.9" cy="501.1" r="4.1"/><circle cx="1835.9" cy="484.2" r="4.1"/><circle cx="1834.9" cy="489.3" r="4.1"/><circle cx="1835.3" cy="492.6" r="4.1"/><circle cx="1836.1" cy="483.8" r="4.1"/><circle cx="1835.9" cy="490.6" r="4.1"/><circle cx="1842.5" cy="478.3" r="4.1"/><circle cx="1842" cy="482.9" r="4.1"/><circle cx="1841.5" cy="485.9" r="4.1"/><circle cx="1842.4" cy="489.5" r="4.1"/><circle cx="1842.8" cy="492.5" r="4.1"/><circle cx="1813.7" cy="496.5" r="4.1"/><circle cx="1814.6" cy="501.8" r="4.1"/><circle cx="1821.3" cy="486.7" r="4.1"/><circle cx="1822.3" cy="491.4" r="4.1"/><circle cx="1809.7" cy="486.5" r="4.1"/><circle cx="1809.8" cy="492.3" r="4.1"/><circle cx="1810.8" cy="494.8" r="4.1"/><circle cx="1810.1" cy="498.6" r="4.1"/><circle cx="1811" cy="501.3" r="4.1"/><circle cx="1831.9" cy="487.9" r="4.1"/><circle cx="1831" cy="492.3" r="4.1"/><circle cx="1812" cy="496.6" r="4.1"/><circle cx="1817.7" cy="492" r="4.1"/><circle cx="1832" cy="487.1" r="4.1"/><circle cx="1820.5" cy="483.7" r="4.1"/><circle cx="1821.7" cy="488.8" r="4.1"/><circle cx="1806.4" cy="487.6" r="4.1"/><circle cx="1871.5" cy="495.6" r="4.1"/><circle cx="1871.8" cy="494.8" r="4.1"/><circle cx="1876" cy="494.5" r="4.1"/><circle cx="1880.1" cy="484.5" r="4.1"/><circle cx="1883.6" cy="477" r="4.1"/><circle cx="1887.6" cy="483.8" r="4.1"/><circle cx="1892" cy="497.1" r="4.1"/><circle cx="1896" cy="493.9" r="4.1"/><circle cx="1899.9" cy="497.2" r="4.1"/><circle cx="1904.3" cy="494.7" r="4.1"/><circle cx="1907.5" cy="487.6" r="4.1"/><circle cx="1912.1" cy="489.1" r="4.1"/><circle cx="1912.5" cy="497.1" r="4.1"/><circle cx="1903" cy="478.1" r="4.1"/><circle cx="1902.3" cy="483.9" r="4.1"/><circle cx="1902.8" cy="488.1" r="4.1"/><circle cx="1901.9" cy="491.2" r="4.1"/><circle cx="1903.9" cy="494.4" r="4.1"/><circle cx="1891.1" cy="474.2" r="4.1"/><circle cx="1891" cy="479.9" r="4.1"/><circle cx="1890.9" cy="482.8" r="4.1"/><circle cx="1892.3" cy="486.7" r="4.1"/><circle cx="1889.9" cy="489.4" r="4.1"/><circle cx="1898.3" cy="477.9" r="4.1"/><circle cx="1897.8" cy="484.2" r="4.1"/><circle cx="1897.8" cy="486.7" r="4.1"/><circle cx="1900.1" cy="489.1" r="4.1"/><circle cx="1899.1" cy="492.5" r="4.1"/><circle cx="1904" cy="486.8" r="4.1"/><circle cx="1904.7" cy="491.4" r="4.1"/><circle cx="1891.3" cy="482.4" r="4.1"/><circle cx="1891.9" cy="488.2" r="4.1"/><circle cx="1892.6" cy="492.4" r="4.1"/><circle cx="1889.4" cy="473.1" r="4.1"/><circle cx="1889" cy="480.3" r="4.1"/><circle cx="1888.9" cy="483" r="4.1"/><circle cx="1906.4" cy="482.3" r="4.1"/><circle cx="1906" cy="489.2" r="4.1"/><circle cx="1906.9" cy="492" r="4.1"/><circle cx="1876.7" cy="466.5" r="4.1"/><circle cx="1877" cy="472" r="4.1"/><circle cx="1875.3" cy="474.9" r="4.1"/><circle cx="1876.3" cy="478" r="4.1"/><circle cx="1876.1" cy="480.3" r="4.1"/><circle cx="1875.7" cy="484.2" r="4.1"/><circle cx="1877.7" cy="487.9" r="4.1"/><circle cx="1872.7" cy="490.6" r="4.1"/><circle cx="1877.8" cy="494.3" r="4.1"/><circle cx="1880.3" cy="460.4" r="4.1"/><circle cx="1880.2" cy="465.5" r="4.1"/><circle cx="1879.5" cy="469" r="4.1"/><circle cx="1879.3" cy="471.4" r="4.1"/><circle cx="1880.5" cy="475" r="4.1"/><circle cx="1877.6" cy="478.4" r="4.1"/><circle cx="1878.6" cy="481.1" r="4.1"/><circle cx="1878.8" cy="484.3" r="4.1"/><circle cx="1876.9" cy="484.5" r="4.1"/><circle cx="1876.8" cy="489.6" r="4.1"/><circle cx="1875.3" cy="492.7" r="4.1"/><circle cx="1904.4" cy="488.3" r="4.1"/><circle cx="1903" cy="486.4" r="4.1"/><circle cx="1911.5" cy="482.9" r="4.1"/><circle cx="1887.2" cy="472.8" r="4.1"/><circle cx="737.9" cy="420.2" r="4.1"/><circle cx="731.3" cy="443.8" r="4.1"/><circle cx="735.9" cy="453.6" r="4.1"/><circle cx="746.6" cy="488.4" r="4.1"/><circle cx="734.6" cy="482.7" r="4.1"/><circle cx="730.7" cy="476" r="4.1"/><circle cx="742" cy="441.1" r="4.1"/><circle cx="730.4" cy="448.1" r="4.1"/><circle cx="738.1" cy="482" r="4.1"/><circle cx="744.4" cy="425.1" r="4.1"/><circle cx="732.3" cy="435.1" r="4.1"/><circle cx="744.2" cy="474.2" r="4.1"/><circle cx="728" cy="450.4" r="4.1"/><circle cx="744.5" cy="485.3" r="4.1"/><circle cx="743.3" cy="426.7" r="4.1"/><circle cx="740.7" cy="421.5" r="4.1"/><circle cx="747.7" cy="469.2" r="4.1"/><circle cx="744.7" cy="417.5" r="4.1"/><circle cx="734.3" cy="447.1" r="4.1"/><circle cx="741.7" cy="417.6" r="4.1"/><circle cx="739.3" cy="470.6" r="4.1"/><circle cx="733" cy="458.6" r="4.1"/><circle cx="730.7" cy="444.1" r="4.1"/><circle cx="745.8" cy="474.2" r="4.1"/><circle cx="741.9" cy="432.8" r="4.1"/><circle cx="730.4" cy="449.4" r="4.1"/><circle cx="743.3" cy="466.9" r="4.1"/><circle cx="730" cy="477.8" r="4.1"/><circle cx="743.4" cy="453.2" r="4.1"/><circle cx="744.3" cy="480" r="4.1"/><circle cx="730.1" cy="473.9" r="4.1"/><circle cx="745.6" cy="480.5" r="4.1"/><circle cx="729.5" cy="452.9" r="4.1"/><circle cx="729.8" cy="456.8" r="4.1"/><circle cx="729.7" cy="479.9" r="4.1"/><circle cx="741.3" cy="416.5" r="4.1"/><circle cx="736.2" cy="460.4" r="4.1"/><circle cx="728.6" cy="475.9" r="4.1"/><circle cx="732.8" cy="443.3" r="4.1"/><circle cx="742.3" cy="423.3" r="4.1"/><circle cx="750.1" cy="326" r="4.1"/><circle cx="750.4" cy="345.6" r="4.1"/><circle cx="749.3" cy="352" r="4.1"/><circle cx="749.8" cy="367" r="4.1"/><circle cx="749.6" cy="372" r="4.1"/><circle cx="749.6" cy="388" r="4.1"/><circle cx="750.5" cy="394" r="4.1"/><circle cx="719.8" cy="518" r="4.1"/><circle cx="720.9" cy="512.4" r="4.1"/><circle cx="720.1" cy="507.8" r="4.1"/><circle cx="719.5" cy="502.3" r="4.1"/><circle cx="719.2" cy="498.1" r="4.1"/><circle cx="720.5" cy="493.4" r="4.1"/><circle cx="722.9" cy="518" r="4.1"/><circle cx="723" cy="512.2" r="4.1"/><circle cx="723.7" cy="507.8" r="4.1"/><circle cx="722.8" cy="502.2" r="4.1"/><circle cx="723.3" cy="498.3" r="4.1"/><circle cx="723.8" cy="493.1" r="4.1"/><circle cx="722.6" cy="488" r="4.1"/><circle cx="722.6" cy="483.2" r="4.1"/><circle cx="725.9" cy="518" r="4.1"/><circle cx="726.8" cy="512.4" r="4.1"/><circle cx="726" cy="506.8" r="4.1"/><circle cx="725.3" cy="501" r="4.1"/><circle cx="726.3" cy="495.4" r="4.1"/><circle cx="725.8" cy="489.9" r="4.1"/><circle cx="725.1" cy="484.1" r="4.1"/><circle cx="726.6" cy="478.6" r="4.1"/><circle cx="726.7" cy="474.1" r="4.1"/><circle cx="726.5" cy="470" r="4.1"/><circle cx="728.8" cy="518" r="4.1"/><circle cx="729.6" cy="514" r="4.1"/><circle cx="728.2" cy="508.8" r="4.1"/><circle cx="728.4" cy="503" r="4.1"/><circle cx="728.8" cy="498.5" r="4.1"/><circle cx="729.8" cy="493.7" r="4.1"/><circle cx="729.3" cy="488" r="4.1"/><circle cx="728.2" cy="483.5" r="4.1"/><circle cx="729" cy="479.7" r="4.1"/><circle cx="728.9" cy="474.8" r="4.1"/><circle cx="728.8" cy="469.1" r="4.1"/><circle cx="728.8" cy="464.7" r="4.1"/><circle cx="729.9" cy="460.7" r="4.1"/><circle cx="355" cy="421.4" r="4.1"/><circle cx="354.6" cy="441" r="4.1"/><circle cx="378.3" cy="392.4" r="4.1"/><circle cx="378.7" cy="399.4" r="4.1"/><circle cx="378.2" cy="445" r="4.1"/><circle cx="394.6" cy="439" r="4.1"/><circle cx="418.1" cy="344.6" r="4.1"/><circle cx="417.4" cy="349.9" r="4.1"/><circle cx="417.7" cy="382" r="4.1"/><circle cx="417.8" cy="460" r="4.1"/><circle cx="437.4" cy="440" r="4.1"/><circle cx="454.6" cy="444" r="4.1"/><circle cx="579.3" cy="432" r="4.1"/><circle cx="586.7" cy="419" r="4.1"/><circle cx="586.7" cy="443" r="4.1"/><circle cx="608.9" cy="425.6" r="4.1"/><circle cx="616.7" cy="452" r="4.1"/><circle cx="786.6" cy="405" r="4.1"/><circle cx="787.1" cy="430" r="4.1"/><circle cx="797.8" cy="422" r="4.1"/><circle cx="903.5" cy="417.8" r="4.1"/><circle cx="903.5" cy="446" r="4.1"/><circle cx="938" cy="449" r="4.1"/><circle cx="938.5" cy="463" r="4.1"/><circle cx="1036.8" cy="468" r="4.1"/><circle cx="1047.1" cy="463" r="4.1"/><circle cx="1064.4" cy="458" r="4.1"/><circle cx="1081.9" cy="468" r="4.1"/><circle cx="1092.1" cy="418.5" r="4.1"/><circle cx="1220.4" cy="462" r="4.1"/><circle cx="1235.8" cy="452" r="4.1"/><circle cx="1261.5" cy="456" r="4.1"/><circle cx="1274.2" cy="457" r="4.1"/><circle cx="1300.8" cy="338.6" r="4.1"/><circle cx="1300.1" cy="364.8" r="4.1"/><circle cx="1308.3" cy="391" r="4.1"/><circle cx="1308.9" cy="395" r="4.1"/><circle cx="1347.1" cy="438" r="4.1"/><circle cx="1376.2" cy="451" r="4.1"/><circle cx="1383" cy="409" r="4.1"/><circle cx="1387.1" cy="333" r="4.1"/><circle cx="1386.8" cy="349.6" r="4.1"/><circle cx="1386.9" cy="358" r="4.1"/><circle cx="1386.8" cy="389" r="4.1"/><circle cx="1477.9" cy="440" r="4.1"/><circle cx="1497.2" cy="388" r="4.1"/><circle cx="1497.4" cy="393" r="4.1"/><circle cx="1497" cy="398" r="4.1"/><circle cx="1496.7" cy="410" r="4.1"/><circle cx="1497.4" cy="420" r="4.1"/><circle cx="1503.4" cy="418" r="4.1"/><circle cx="1521" cy="439" r="4.1"/><circle cx="1530.4" cy="413" r="4.1"/><circle cx="1656.8" cy="270.5" r="4.1"/><circle cx="1656.4" cy="436" r="4.1"/><circle cx="1801" cy="450" r="4.1"/><circle cx="1806.6" cy="441" r="4.1"/><circle cx="1820.1" cy="446" r="4.1"/><circle cx="1837.7" cy="373" r="4.1"/><circle cx="1837.7" cy="392" r="4.1"/><circle cx="1886.5" cy="449" r="4.1"/><circle cx="1902.5" cy="371.7" r="4.1"/><circle cx="1902.9" cy="378" r="4.1"/><circle cx="1902.6" cy="398" r="4.1"/><circle cx="1902.4" cy="418" r="4.1"/><circle cx="1902.2" cy="426" r="4.1"/><circle cx="1903.1" cy="433" r="4.1"/>
</g>
<path d="M95 441.8H1983" stroke="#b4b4b4" stroke-width="1.2"/>
<path d="M95 455.8H1983" stroke="#3a3a3a" stroke-width="1.7" stroke-dasharray="5.2 1.9 2.4 1.9"/>
<path d="M264.4 495.4l5.4 9.6h-10.8zM195.5 507.2l5.4 9.6h-10.8zM202.7 469.4l5.4 9.6h-10.8zM253.7 504.3l5.4 9.6h-10.8zM326 464.8l5.4 9.6h-10.8zM245.4 508.3l5.4 9.6h-10.8zM558.8 515.2l5.4 9.6h-10.8zM514.8 490.5l5.4 9.6h-10.8zM542.4 506.1l5.4 9.6h-10.8zM695.7 503.6l5.4 9.6h-10.8zM682.3 469.8l5.4 9.6h-10.8zM839 469.7l5.4 9.6h-10.8zM862.9 496.7l5.4 9.6h-10.8zM974.4 497.1l5.4 9.6h-10.8zM992.4 486.1l5.4 9.6h-10.8zM1175.2 504.1l5.4 9.6h-10.8zM1164.7 510.7l5.4 9.6h-10.8zM1155.7 478.4l5.4 9.6h-10.8zM1151.8 480.9l5.4 9.6h-10.8zM1450.6 510.9l5.4 9.6h-10.8zM1620.7 472.3l5.4 9.6h-10.8zM1624.2 508.4l5.4 9.6h-10.8zM1630 477.6l5.4 9.6h-10.8zM1791.1 512.2l5.4 9.6h-10.8zM1674 487.3l5.4 9.6h-10.8zM1697.8 489.6l5.4 9.6h-10.8zM1687.2 472.9l5.4 9.6h-10.8zM173.8 428.5l5.4 9.6h-10.8zM173.6 437.5l5.4 9.6h-10.8zM189 448.5l5.4 9.6h-10.8zM206.4 435.1l5.4 9.6h-10.8zM218.6 446.5l5.4 9.6h-10.8zM229.3 450.5l5.4 9.6h-10.8zM234.5 449.5l5.4 9.6h-10.8zM237.7 447.5l5.4 9.6h-10.8zM306 394.9l5.4 9.6h-10.8zM305.5 434.5l5.4 9.6h-10.8zM306.2 455.5l5.4 9.6h-10.8zM317.9 400.2l5.4 9.6h-10.8zM318.4 418.5l5.4 9.6h-10.8zM317.5 440.5l5.4 9.6h-10.8zM318.1 466.5l5.4 9.6h-10.8zM318.2 492.5l5.4 9.6h-10.8zM333.7 431.5l5.4 9.6h-10.8zM334 446.5l5.4 9.6h-10.8zM339.4 457.5l5.4 9.6h-10.8zM481.6 398.5l5.4 9.6h-10.8zM480.4 441.5l5.4 9.6h-10.8zM481.5 463.5l5.4 9.6h-10.8zM500.8 441.5l5.4 9.6h-10.8zM500.6 447.5l5.4 9.6h-10.8zM501.3 454.5l5.4 9.6h-10.8zM501.1 462.5l5.4 9.6h-10.8zM501.3 470.5l5.4 9.6h-10.8zM501 478.5l5.4 9.6h-10.8zM500.4 486.5l5.4 9.6h-10.8zM501.3 494.5l5.4 9.6h-10.8zM500.7 502.5l5.4 9.6h-10.8zM501 509.5l5.4 9.6h-10.8zM500.4 514.5l5.4 9.6h-10.8zM507.7 433.5l5.4 9.6h-10.8zM508.2 450.5l5.4 9.6h-10.8zM508.3 476.5l5.4 9.6h-10.8zM513.2 420.5l5.4 9.6h-10.8zM512.9 442.5l5.4 9.6h-10.8zM520.3 381l5.4 9.6h-10.8zM519.6 504.5l5.4 9.6h-10.8zM539.1 380l5.4 9.6h-10.8zM538.8 466.5l5.4 9.6h-10.8zM538.8 472.5l5.4 9.6h-10.8zM538.5 488.5l5.4 9.6h-10.8zM538.8 506.5l5.4 9.6h-10.8zM550.1 427l5.4 9.6h-10.8zM549.6 492.5l5.4 9.6h-10.8zM560.3 453.5l5.4 9.6h-10.8zM657.3 436.5l5.4 9.6h-10.8zM657.4 479.5l5.4 9.6h-10.8zM658 488.5l5.4 9.6h-10.8zM656.9 509.5l5.4 9.6h-10.8zM667.5 454.5l5.4 9.6h-10.8zM671.1 424.2l5.4 9.6h-10.8zM670.9 456.5l5.4 9.6h-10.8zM702.8 417.5l5.4 9.6h-10.8zM686.5 491.5l5.4 9.6h-10.8zM817.8 432.5l5.4 9.6h-10.8zM823.6 393.5l5.4 9.6h-10.8zM824.5 443.5l5.4 9.6h-10.8zM824.1 454.5l5.4 9.6h-10.8zM837.1 444.5l5.4 9.6h-10.8zM837.1 455.5l5.4 9.6h-10.8zM852.4 437.5l5.4 9.6h-10.8zM853.2 442.5l5.4 9.6h-10.8zM852.7 451.5l5.4 9.6h-10.8zM860.4 457.5l5.4 9.6h-10.8zM859.8 464.5l5.4 9.6h-10.8zM860 471.5l5.4 9.6h-10.8zM860.2 477.5l5.4 9.6h-10.8zM859.6 494.5l5.4 9.6h-10.8zM878.7 351.9l5.4 9.6h-10.8zM879.1 500.5l5.4 9.6h-10.8zM885.6 448.5l5.4 9.6h-10.8zM886.3 455.5l5.4 9.6h-10.8zM885.4 472.5l5.4 9.6h-10.8zM963.5 397.3l5.4 9.6h-10.8zM971.5 364.5l5.4 9.6h-10.8zM970.5 416.5l5.4 9.6h-10.8zM986.4 432.5l5.4 9.6h-10.8zM992.1 346l5.4 9.6h-10.8zM991.9 379.1l5.4 9.6h-10.8zM992.4 440.5l5.4 9.6h-10.8zM992.1 484.5l5.4 9.6h-10.8zM992.1 494.5l5.4 9.6h-10.8zM991.6 505.5l5.4 9.6h-10.8zM1006.1 482.5l5.4 9.6h-10.8zM1012.5 449.5l5.4 9.6h-10.8zM1011.9 469.5l5.4 9.6h-10.8zM1012.4 513.5l5.4 9.6h-10.8zM1024 459.5l5.4 9.6h-10.8zM1125.1 407.5l5.4 9.6h-10.8zM1125.4 411.5l5.4 9.6h-10.8zM1124.7 457.5l5.4 9.6h-10.8zM1133.5 391.3l5.4 9.6h-10.8zM1142.4 359.3l5.4 9.6h-10.8zM1142.3 397.5l5.4 9.6h-10.8zM1141.9 428.5l5.4 9.6h-10.8zM1141.4 434.5l5.4 9.6h-10.8zM1141.7 446.5l5.4 9.6h-10.8zM1142.3 456.5l5.4 9.6h-10.8zM1141.2 464.5l5.4 9.6h-10.8zM1141.7 472.5l5.4 9.6h-10.8zM1141.3 480.5l5.4 9.6h-10.8zM1142.4 488.5l5.4 9.6h-10.8zM1141.3 496.5l5.4 9.6h-10.8zM1142.3 503.5l5.4 9.6h-10.8zM1142.2 508.5l5.4 9.6h-10.8zM1142.1 513.5l5.4 9.6h-10.8zM1150 396.5l5.4 9.6h-10.8zM1150.5 446.5l5.4 9.6h-10.8zM1150.5 480.5l5.4 9.6h-10.8zM1150.1 510.5l5.4 9.6h-10.8zM1162 454.5l5.4 9.6h-10.8zM1192.4 414l5.4 9.6h-10.8zM1192.5 462.5l5.4 9.6h-10.8zM1191.9 510.5l5.4 9.6h-10.8zM1195.7 395.5l5.4 9.6h-10.8zM1204.6 282.2l5.4 9.6h-10.8zM1204.8 312.2l5.4 9.6h-10.8zM1205.1 358.2l5.4 9.6h-10.8zM1204.6 477.5l5.4 9.6h-10.8zM1339 396.5l5.4 9.6h-10.8zM1338.7 473.5l5.4 9.6h-10.8zM1411.9 432.5l5.4 9.6h-10.8zM1411.8 486.5l5.4 9.6h-10.8zM1423.7 392.2l5.4 9.6h-10.8zM1434.4 478.5l5.4 9.6h-10.8zM1434.5 504.5l5.4 9.6h-10.8zM1438.7 435.3l5.4 9.6h-10.8zM1455.8 453.5l5.4 9.6h-10.8zM1538.9 388.3l5.4 9.6h-10.8zM1539.4 396.5l5.4 9.6h-10.8zM1555.6 464.5l5.4 9.6h-10.8zM1562.3 449.5l5.4 9.6h-10.8zM1561.8 457.5l5.4 9.6h-10.8zM1562.5 470.5l5.4 9.6h-10.8zM1562.5 476.5l5.4 9.6h-10.8zM1583.5 446.5l5.4 9.6h-10.8zM1583.7 452.5l5.4 9.6h-10.8zM1583.8 495.5l5.4 9.6h-10.8zM1602.1 101.9l5.4 9.6h-10.8zM1601.6 116.3l5.4 9.6h-10.8zM1602.1 177.1l5.4 9.6h-10.8zM1601.7 251.5l5.4 9.6h-10.8zM1602.1 355.1l5.4 9.6h-10.8zM1601.7 358.5l5.4 9.6h-10.8zM1602.3 399.5l5.4 9.6h-10.8zM1601.7 437.5l5.4 9.6h-10.8zM1601.9 454.5l5.4 9.6h-10.8zM1602.5 468.5l5.4 9.6h-10.8zM1601.6 497.5l5.4 9.6h-10.8zM1601.6 501.5l5.4 9.6h-10.8zM1621.6 427l5.4 9.6h-10.8zM1637.8 378.9l5.4 9.6h-10.8zM1637.9 381.5l5.4 9.6h-10.8zM1669.6 452.5l5.4 9.6h-10.8zM1676.2 431.5l5.4 9.6h-10.8zM1727.9 424.5l5.4 9.6h-10.8zM1727.6 514.5l5.4 9.6h-10.8zM1762.1 436.5l5.4 9.6h-10.8zM1761.4 440.5l5.4 9.6h-10.8zM1786.2 454.5l5.4 9.6h-10.8zM1852.3 452.5l5.4 9.6h-10.8zM1852.2 430.5l5.4 9.6h-10.8zM1858.5 439.5l5.4 9.6h-10.8z" fill="#525252" fill-opacity="0.9"/>
<path d="M443.8 473.3l5.4 9.6h-10.8zM372.2 504.4l5.4 9.6h-10.8zM395.6 489.1l5.4 9.6h-10.8zM579.5 503.6l5.4 9.6h-10.8zM618.2 497.8l5.4 9.6h-10.8zM778.8 509.3l5.4 9.6h-10.8zM774.1 466.8l5.4 9.6h-10.8zM767 501.8l5.4 9.6h-10.8zM935.1 467.9l5.4 9.6h-10.8zM936.4 502.7l5.4 9.6h-10.8zM1053.8 469.5l5.4 9.6h-10.8zM1040.9 478.2l5.4 9.6h-10.8zM1229.7 500.3l5.4 9.6h-10.8zM1258.4 466.3l5.4 9.6h-10.8zM1308.9 505.9l5.4 9.6h-10.8zM1370.6 481.2l5.4 9.6h-10.8zM1502.3 502.3l5.4 9.6h-10.8zM1492.1 486.9l5.4 9.6h-10.8zM1844.6 468.7l5.4 9.6h-10.8zM1896.7 475.9l5.4 9.6h-10.8zM748.5 471.3l5.4 9.6h-10.8zM737.1 499.9l5.4 9.6h-10.8zM744.1 486.7l5.4 9.6h-10.8zM737 499.3l5.4 9.6h-10.8zM746.9 506.2l5.4 9.6h-10.8zM744 473.5l5.4 9.6h-10.8zM736.9 493.1l5.4 9.6h-10.8zM747.2 452.7l5.4 9.6h-10.8zM747.8 458.8l5.4 9.6h-10.8zM750.8 473.1l5.4 9.6h-10.8zM746.9 495l5.4 9.6h-10.8zM740.6 498.3l5.4 9.6h-10.8zM756 489.5l5.4 9.6h-10.8zM752.2 504.6l5.4 9.6h-10.8zM739.6 482.5l5.4 9.6h-10.8zM737.3 488.7l5.4 9.6h-10.8zM747.3 467.8l5.4 9.6h-10.8zM739.1 490.6l5.4 9.6h-10.8zM749 490.4l5.4 9.6h-10.8zM752.2 491.8l5.4 9.6h-10.8zM745.8 468.9l5.4 9.6h-10.8zM737 514.5l5.4 9.6h-10.8zM747.1 484.4l5.4 9.6h-10.8zM756 481.9l5.4 9.6h-10.8zM745.3 500l5.4 9.6h-10.8zM747.8 476.8l5.4 9.6h-10.8zM747.7 479.9l5.4 9.6h-10.8zM750.8 485.3l5.4 9.6h-10.8zM741.4 480.6l5.4 9.6h-10.8zM741.7 476.6l5.4 9.6h-10.8zM745.6 490.7l5.4 9.6h-10.8zM735.7 485.3l5.4 9.6h-10.8zM748.1 487.6l5.4 9.6h-10.8zM736.6 439.6l5.4 9.6h-10.8zM742.2 455.8l5.4 9.6h-10.8zM741.5 402.5l5.4 9.6h-10.8zM742.6 496l5.4 9.6h-10.8zM756 455.6l5.4 9.6h-10.8zM742.9 462.6l5.4 9.6h-10.8zM743.8 460.5l5.4 9.6h-10.8zM748 477l5.4 9.6h-10.8zM756 515l5.4 9.6h-10.8zM742.8 508.4l5.4 9.6h-10.8zM746.1 506.5l5.4 9.6h-10.8zM742.6 408.6l5.4 9.6h-10.8zM749.1 414.5l5.4 9.6h-10.8zM733.2 502.9l5.4 9.6h-10.8zM748.3 407.9l5.4 9.6h-10.8zM743.5 506.1l5.4 9.6h-10.8zM739.4 476.9l5.4 9.6h-10.8zM746.3 465.5l5.4 9.6h-10.8zM741.2 463.2l5.4 9.6h-10.8zM749.3 483.8l5.4 9.6h-10.8zM756 461.7l5.4 9.6h-10.8zM746.4 502.2l5.4 9.6h-10.8zM739.7 493.8l5.4 9.6h-10.8zM750 456.9l5.4 9.6h-10.8zM742.2 457.9l5.4 9.6h-10.8zM754.7 453.4l5.4 9.6h-10.8zM745.8 474.9l5.4 9.6h-10.8zM745.5 490.4l5.4 9.6h-10.8zM749.8 455.2l5.4 9.6h-10.8zM752.3 466.5l5.4 9.6h-10.8zM756 479.3l5.4 9.6h-10.8zM745 463.8l5.4 9.6h-10.8zM739.8 506.8l5.4 9.6h-10.8zM742.5 460.1l5.4 9.6h-10.8zM753.1 479.5l5.4 9.6h-10.8zM740 469.3l5.4 9.6h-10.8zM741.8 516.7l5.4 9.6h-10.8zM745.5 477.6l5.4 9.6h-10.8zM739.3 466.1l5.4 9.6h-10.8zM740.6 463.6l5.4 9.6h-10.8zM756 484.5l5.4 9.6h-10.8zM736.6 502l5.4 9.6h-10.8zM733 512.1l5.4 9.6h-10.8zM737.4 504l5.4 9.6h-10.8zM748.1 490.9l5.4 9.6h-10.8zM748.3 499.4l5.4 9.6h-10.8zM739.2 498.2l5.4 9.6h-10.8zM740.3 464l5.4 9.6h-10.8zM742 484l5.4 9.6h-10.8zM744.6 514.4l5.4 9.6h-10.8zM743 481.7l5.4 9.6h-10.8zM746.3 480.8l5.4 9.6h-10.8zM755.1 457.3l5.4 9.6h-10.8zM745.2 485.5l5.4 9.6h-10.8zM752.4 510l5.4 9.6h-10.8zM737.8 503.1l5.4 9.6h-10.8zM736.2 475.2l5.4 9.6h-10.8zM743.7 418.2l5.4 9.6h-10.8zM741 511l5.4 9.6h-10.8zM744 487.2l5.4 9.6h-10.8zM746.7 506.7l5.4 9.6h-10.8zM739.1 486.6l5.4 9.6h-10.8zM744.3 462.6l5.4 9.6h-10.8zM736.1 462.9l5.4 9.6h-10.8zM752.3 504.7l5.4 9.6h-10.8zM744.1 478.1l5.4 9.6h-10.8zM744.8 504.2l5.4 9.6h-10.8zM740.3 514.5l5.4 9.6h-10.8zM733.3 478.6l5.4 9.6h-10.8zM733 498.1l5.4 9.6h-10.8zM751.9 482.6l5.4 9.6h-10.8zM756 478.9l5.4 9.6h-10.8zM751 465l5.4 9.6h-10.8zM733.7 471.7l5.4 9.6h-10.8zM748.3 460.9l5.4 9.6h-10.8zM746.9 473.7l5.4 9.6h-10.8zM750 479.3l5.4 9.6h-10.8zM744.3 492.8l5.4 9.6h-10.8zM752.3 423.2l5.4 9.6h-10.8zM753.1 454.1l5.4 9.6h-10.8zM744.8 461.6l5.4 9.6h-10.8zM747.7 433l5.4 9.6h-10.8zM748 492.8l5.4 9.6h-10.8zM738.1 456.3l5.4 9.6h-10.8zM736.6 515.2l5.4 9.6h-10.8zM738.6 459l5.4 9.6h-10.8zM746.1 477.3l5.4 9.6h-10.8zM750.7 483.1l5.4 9.6h-10.8zM751 481.2l5.4 9.6h-10.8zM745.2 455.7l5.4 9.6h-10.8zM741 513.9l5.4 9.6h-10.8zM743 495.8l5.4 9.6h-10.8zM737.8 481.3l5.4 9.6h-10.8zM737.3 506.5l5.4 9.6h-10.8zM743.9 455.4l5.4 9.6h-10.8zM738.7 479.4l5.4 9.6h-10.8zM756 484.6l5.4 9.6h-10.8zM746.4 479l5.4 9.6h-10.8zM756 469l5.4 9.6h-10.8zM747.2 509.7l5.4 9.6h-10.8zM738.4 512.9l5.4 9.6h-10.8zM733 507.2l5.4 9.6h-10.8zM748.2 465.1l5.4 9.6h-10.8zM744.4 498.9l5.4 9.6h-10.8zM738.8 465.8l5.4 9.6h-10.8zM733 473.9l5.4 9.6h-10.8zM750.9 488.9l5.4 9.6h-10.8zM737.7 513.9l5.4 9.6h-10.8zM741.5 464.6l5.4 9.6h-10.8zM748.8 512.8l5.4 9.6h-10.8zM741.2 497.2l5.4 9.6h-10.8zM743.7 472.7l5.4 9.6h-10.8zM742.7 502l5.4 9.6h-10.8zM742.9 499.1l5.4 9.6h-10.8zM744.2 490.7l5.4 9.6h-10.8zM746.5 494l5.4 9.6h-10.8zM745.4 456l5.4 9.6h-10.8zM751.9 471l5.4 9.6h-10.8zM753.1 492l5.4 9.6h-10.8zM744.7 511.4l5.4 9.6h-10.8zM756 461.9l5.4 9.6h-10.8zM756 486.6l5.4 9.6h-10.8zM753 457l5.4 9.6h-10.8zM746 509.4l5.4 9.6h-10.8zM741.7 469.8l5.4 9.6h-10.8zM742.7 494.9l5.4 9.6h-10.8zM751.5 467.4l5.4 9.6h-10.8zM742.3 481.7l5.4 9.6h-10.8zM752.5 488.1l5.4 9.6h-10.8zM742.3 501.9l5.4 9.6h-10.8zM741.9 503.4l5.4 9.6h-10.8zM736.3 461.6l5.4 9.6h-10.8zM743.6 472.9l5.4 9.6h-10.8zM733 503.8l5.4 9.6h-10.8zM751.2 403.1l5.4 9.6h-10.8zM756 497.8l5.4 9.6h-10.8zM743 503.6l5.4 9.6h-10.8zM753.4 511.7l5.4 9.6h-10.8zM743.9 500l5.4 9.6h-10.8zM740.8 463.2l5.4 9.6h-10.8zM741.2 473.7l5.4 9.6h-10.8zM749.9 514.1l5.4 9.6h-10.8zM748.5 494.4l5.4 9.6h-10.8zM750.3 466.9l5.4 9.6h-10.8zM742.4 472.8l5.4 9.6h-10.8zM740.5 479.7l5.4 9.6h-10.8zM733.9 488l5.4 9.6h-10.8zM750 403.3l5.4 9.6h-10.8zM756 462l5.4 9.6h-10.8zM744.6 432.8l5.4 9.6h-10.8zM754.7 445.6l5.4 9.6h-10.8zM742.7 461l5.4 9.6h-10.8zM755.4 492l5.4 9.6h-10.8zM736.1 453.6l5.4 9.6h-10.8zM752.6 506.7l5.4 9.6h-10.8zM739.9 480.5l5.4 9.6h-10.8zM742.1 504.8l5.4 9.6h-10.8zM749.8 490.6l5.4 9.6h-10.8zM752.5 461.4l5.4 9.6h-10.8zM742.3 470.4l5.4 9.6h-10.8zM748.9 515.5l5.4 9.6h-10.8zM738.2 515.7l5.4 9.6h-10.8zM746.5 516.9l5.4 9.6h-10.8zM748.5 487.1l5.4 9.6h-10.8zM742.8 514l5.4 9.6h-10.8zM752.3 454.9l5.4 9.6h-10.8zM750 457.6l5.4 9.6h-10.8zM744.1 452.2l5.4 9.6h-10.8zM749.3 461.4l5.4 9.6h-10.8zM754.2 481l5.4 9.6h-10.8zM745.3 481.6l5.4 9.6h-10.8zM743.3 494.4l5.4 9.6h-10.8zM750.5 465.9l5.4 9.6h-10.8zM737.9 433.2l5.4 9.6h-10.8zM737.7 466.7l5.4 9.6h-10.8zM737.1 485.7l5.4 9.6h-10.8zM756 509.3l5.4 9.6h-10.8zM738.9 473.6l5.4 9.6h-10.8zM752.8 421.4l5.4 9.6h-10.8zM737.2 509.7l5.4 9.6h-10.8zM746.4 444l5.4 9.6h-10.8zM744.1 508l5.4 9.6h-10.8zM753.9 471.2l5.4 9.6h-10.8zM736 465l5.4 9.6h-10.8zM756 470.1l5.4 9.6h-10.8zM752 497.9l5.4 9.6h-10.8zM756 511.3l5.4 9.6h-10.8zM742.8 460.3l5.4 9.6h-10.8zM744.4 468.4l5.4 9.6h-10.8zM750.4 416.9l5.4 9.6h-10.8zM742.1 497l5.4 9.6h-10.8zM737.5 460.7l5.4 9.6h-10.8zM744.3 457.4l5.4 9.6h-10.8zM740.1 495l5.4 9.6h-10.8zM752 515.6l5.4 9.6h-10.8zM745.8 467.1l5.4 9.6h-10.8zM745.2 453.7l5.4 9.6h-10.8zM748.5 491.8l5.4 9.6h-10.8zM736.6 496.1l5.4 9.6h-10.8zM742.3 484.7l5.4 9.6h-10.8zM742.4 469.3l5.4 9.6h-10.8zM752.4 509.3l5.4 9.6h-10.8zM750.3 446.4l5.4 9.6h-10.8zM754.9 513.1l5.4 9.6h-10.8zM743.1 498.8l5.4 9.6h-10.8zM754.7 479.2l5.4 9.6h-10.8zM738.1 481.7l5.4 9.6h-10.8zM740.9 481.4l5.4 9.6h-10.8zM754.5 457.2l5.4 9.6h-10.8zM733 515.5l5.4 9.6h-10.8zM735.8 483.5l5.4 9.6h-10.8zM734.1 461.3l5.4 9.6h-10.8zM740.6 475.4l5.4 9.6h-10.8zM734.1 462.7l5.4 9.6h-10.8zM741.9 515.3l5.4 9.6h-10.8zM738.3 511.3l5.4 9.6h-10.8zM756 458.3l5.4 9.6h-10.8zM753.2 492l5.4 9.6h-10.8zM745.8 490.3l5.4 9.6h-10.8zM741.8 478.5l5.4 9.6h-10.8zM736.3 443.3l5.4 9.6h-10.8zM748.7 456.2l5.4 9.6h-10.8zM742.5 471.5l5.4 9.6h-10.8zM737.3 501.9l5.4 9.6h-10.8zM753.7 464.1l5.4 9.6h-10.8zM746.3 514.7l5.4 9.6h-10.8zM733 503.9l5.4 9.6h-10.8zM748.3 355.5l5.4 9.6h-10.8zM749 373.9l5.4 9.6h-10.8zM748.7 380.5l5.4 9.6h-10.8zM752.2 386.5l5.4 9.6h-10.8zM750.8 392.5l5.4 9.6h-10.8zM749.9 398.5l5.4 9.6h-10.8zM354.9 423.5l5.4 9.6h-10.8zM354.4 428.5l5.4 9.6h-10.8zM358.7 431.5l5.4 9.6h-10.8zM358.6 454.5l5.4 9.6h-10.8zM358.6 469.5l5.4 9.6h-10.8zM378.8 378.2l5.4 9.6h-10.8zM378.8 448.5l5.4 9.6h-10.8zM378.5 456.5l5.4 9.6h-10.8zM378.6 465.5l5.4 9.6h-10.8zM378.3 476.5l5.4 9.6h-10.8zM378.5 489.5l5.4 9.6h-10.8zM378 495.5l5.4 9.6h-10.8zM394.2 453.5l5.4 9.6h-10.8zM394 481.5l5.4 9.6h-10.8zM417.6 426.5l5.4 9.6h-10.8zM418.3 436.5l5.4 9.6h-10.8zM417.3 446.5l5.4 9.6h-10.8zM418.3 483.5l5.4 9.6h-10.8zM418.2 499.5l5.4 9.6h-10.8zM424.3 450.5l5.4 9.6h-10.8zM437.5 418.3l5.4 9.6h-10.8zM437.9 448.5l5.4 9.6h-10.8zM441.8 427.5l5.4 9.6h-10.8zM442.3 446.5l5.4 9.6h-10.8zM441.8 464.5l5.4 9.6h-10.8zM442.3 484.5l5.4 9.6h-10.8zM442.1 497.5l5.4 9.6h-10.8zM442.4 504.5l5.4 9.6h-10.8zM453.9 446.5l5.4 9.6h-10.8zM578.5 420.5l5.4 9.6h-10.8zM578.6 446.5l5.4 9.6h-10.8zM578.5 466.5l5.4 9.6h-10.8zM587 442.5l5.4 9.6h-10.8zM586.5 509.5l5.4 9.6h-10.8zM586.5 513.5l5.4 9.6h-10.8zM608.3 405.5l5.4 9.6h-10.8zM608.8 488.5l5.4 9.6h-10.8zM617.1 437.5l5.4 9.6h-10.8zM617.5 457.5l5.4 9.6h-10.8zM621.5 506.5l5.4 9.6h-10.8zM633.4 426.3l5.4 9.6h-10.8zM633.8 455.5l5.4 9.6h-10.8zM786.7 405.3l5.4 9.6h-10.8zM786.9 433.2l5.4 9.6h-10.8zM786.8 453.5l5.4 9.6h-10.8zM787 462.5l5.4 9.6h-10.8zM787.3 478.5l5.4 9.6h-10.8zM797.3 476.5l5.4 9.6h-10.8zM798 500.5l5.4 9.6h-10.8zM808.3 441.5l5.4 9.6h-10.8zM808.1 448.5l5.4 9.6h-10.8zM813 496.5l5.4 9.6h-10.8zM903.7 374.5l5.4 9.6h-10.8zM903.6 420.5l5.4 9.6h-10.8zM904 425.5l5.4 9.6h-10.8zM903.6 430.5l5.4 9.6h-10.8zM904.4 433.5l5.4 9.6h-10.8zM904.1 470.5l5.4 9.6h-10.8zM913.4 477.5l5.4 9.6h-10.8zM916.6 443.5l5.4 9.6h-10.8zM927.7 436.5l5.4 9.6h-10.8zM937.3 486.5l5.4 9.6h-10.8zM945.8 447.5l5.4 9.6h-10.8zM953.4 436.5l5.4 9.6h-10.8zM954 441.5l5.4 9.6h-10.8zM953.3 452.5l5.4 9.6h-10.8zM954.1 498.5l5.4 9.6h-10.8zM1037.4 434.9l5.4 9.6h-10.8zM1065 465.5l5.4 9.6h-10.8zM1081.5 428.5l5.4 9.6h-10.8zM1082.4 438.5l5.4 9.6h-10.8zM1082.2 450.5l5.4 9.6h-10.8zM1082.6 474.5l5.4 9.6h-10.8zM1082.5 478.5l5.4 9.6h-10.8zM1082.5 496.5l5.4 9.6h-10.8zM1081.5 512.5l5.4 9.6h-10.8zM1087.9 428l5.4 9.6h-10.8zM1088 438.5l5.4 9.6h-10.8zM1091.4 496.5l5.4 9.6h-10.8zM1098.5 449.5l5.4 9.6h-10.8zM1221.6 418.2l5.4 9.6h-10.8zM1220.7 434.5l5.4 9.6h-10.8zM1235.8 464.5l5.4 9.6h-10.8zM1235.5 472.5l5.4 9.6h-10.8zM1244.9 391.3l5.4 9.6h-10.8zM1244.4 437.5l5.4 9.6h-10.8zM1260.5 452.5l5.4 9.6h-10.8zM1260 470.5l5.4 9.6h-10.8zM1274.3 505.5l5.4 9.6h-10.8zM1286.3 450.5l5.4 9.6h-10.8zM1300.3 305.2l5.4 9.6h-10.8zM1300.6 484.5l5.4 9.6h-10.8zM1300.6 497.5l5.4 9.6h-10.8zM1300.8 501.5l5.4 9.6h-10.8zM1300.1 506.5l5.4 9.6h-10.8zM1308.9 414l5.4 9.6h-10.8zM1309.1 422.5l5.4 9.6h-10.8zM1308 431.5l5.4 9.6h-10.8zM1308.2 442.5l5.4 9.6h-10.8zM1308 453.5l5.4 9.6h-10.8zM1308.8 460.5l5.4 9.6h-10.8zM1347.5 448.5l5.4 9.6h-10.8zM1358.2 451.5l5.4 9.6h-10.8zM1376.1 456.5l5.4 9.6h-10.8zM1383.3 415.5l5.4 9.6h-10.8zM1383.1 426.5l5.4 9.6h-10.8zM1382.6 439.5l5.4 9.6h-10.8zM1382.9 449.5l5.4 9.6h-10.8zM1382.9 453.5l5.4 9.6h-10.8zM1382.9 481.5l5.4 9.6h-10.8zM1386.9 356.5l5.4 9.6h-10.8zM1387.6 422.5l5.4 9.6h-10.8zM1386.5 502.5l5.4 9.6h-10.8zM1386.4 506.5l5.4 9.6h-10.8zM1387.3 511.5l5.4 9.6h-10.8zM1386.9 515.5l5.4 9.6h-10.8zM1476.9 392.2l5.4 9.6h-10.8zM1481.4 445.5l5.4 9.6h-10.8zM1480.7 449.5l5.4 9.6h-10.8zM1489.7 446.5l5.4 9.6h-10.8zM1496.9 399.5l5.4 9.6h-10.8zM1497.4 419.5l5.4 9.6h-10.8zM1497.4 434.5l5.4 9.6h-10.8zM1496.5 446.5l5.4 9.6h-10.8zM1497.1 456.5l5.4 9.6h-10.8zM1497.6 464.5l5.4 9.6h-10.8zM1497.3 471.5l5.4 9.6h-10.8zM1497 477.5l5.4 9.6h-10.8zM1496.6 482.5l5.4 9.6h-10.8zM1496.5 487.5l5.4 9.6h-10.8zM1497.3 492.5l5.4 9.6h-10.8zM1496.5 510.5l5.4 9.6h-10.8zM1503.2 418.5l5.4 9.6h-10.8zM1521.5 450.5l5.4 9.6h-10.8zM1526.5 437.5l5.4 9.6h-10.8zM1526.1 446.5l5.4 9.6h-10.8zM1525.5 460.5l5.4 9.6h-10.8zM1530.6 382.5l5.4 9.6h-10.8zM1530.2 416.5l5.4 9.6h-10.8zM1531 426.5l5.4 9.6h-10.8zM1530.8 435.5l5.4 9.6h-10.8zM1530 449.5l5.4 9.6h-10.8zM1530.2 467.5l5.4 9.6h-10.8zM1530.3 477.5l5.4 9.6h-10.8zM1530.6 500.5l5.4 9.6h-10.8zM1646.3 448.5l5.4 9.6h-10.8zM1653.9 419.5l5.4 9.6h-10.8zM1654 433.5l5.4 9.6h-10.8zM1653.9 444.5l5.4 9.6h-10.8zM1657 271.1l5.4 9.6h-10.8zM1661.5 360.5l5.4 9.6h-10.8zM1660.7 364.5l5.4 9.6h-10.8zM1801 478.5l5.4 9.6h-10.8zM1806.6 457.5l5.4 9.6h-10.8zM1806.8 510.5l5.4 9.6h-10.8zM1814.2 442.5l5.4 9.6h-10.8zM1814.1 462.5l5.4 9.6h-10.8zM1824.4 421.5l5.4 9.6h-10.8zM1825.3 424.5l5.4 9.6h-10.8zM1824.9 430.5l5.4 9.6h-10.8zM1824.5 437.5l5.4 9.6h-10.8zM1824.7 454.5l5.4 9.6h-10.8zM1824.7 484.5l5.4 9.6h-10.8zM1825.4 497.5l5.4 9.6h-10.8zM1819.8 439.5l5.4 9.6h-10.8zM1837.7 392.5l5.4 9.6h-10.8zM1837.8 428.5l5.4 9.6h-10.8zM1838.3 468.5l5.4 9.6h-10.8zM1883.2 484.5l5.4 9.6h-10.8zM1882.5 502.5l5.4 9.6h-10.8zM1886.6 457.5l5.4 9.6h-10.8zM1902.2 360.5l5.4 9.6h-10.8zM1902.8 434.5l5.4 9.6h-10.8zM1902.3 438.5l5.4 9.6h-10.8zM1902 442.5l5.4 9.6h-10.8zM1903.1 449.5l5.4 9.6h-10.8zM1902.2 457.5l5.4 9.6h-10.8zM1902.9 464.5l5.4 9.6h-10.8zM1902 470.5l5.4 9.6h-10.8zM1902.7 476.5l5.4 9.6h-10.8zM1902.3 482.5l5.4 9.6h-10.8zM1903 488.5l5.4 9.6h-10.8zM1902.3 502.5l5.4 9.6h-10.8zM1902 510.5l5.4 9.6h-10.8z" fill="#2b2b2b" fill-opacity="0.9"/>
</g>
<defs><g id="pa">
<path d="M94.7 53.7V540.6" fill="none" stroke="#a6a6a6" stroke-width="1.3"/>
<path d="M1982.8 53.7V540.6" fill="none" stroke="#c2c2c2" stroke-width="2.2"/>
<path d="M94 53.9H1983.9" fill="none" stroke="#8c8c8c" stroke-width="2.1"/>
<path d="M94 540.9H1983.9" fill="none" stroke="#a8a8a8" stroke-width="2.6"/>
<path d="M82.5 522.4H94.7M82.5 159.1H94.7M82.5 86.5H94.7" stroke="#9a9a9a" stroke-width="1.4" fill="none"/>
<circle cx="120" cy="78" r="5.4" fill="#767676"/>
<path d="M120 95.4l6.6 11.2h-13.2z" fill="#4a4a4a"/>
<path d="M100 126.3H139" stroke="#707070" stroke-width="1.5"/>
<path d="M100 151.3H139" stroke="#9a9a9a" stroke-width="1.4" stroke-dasharray="2.5 2"/>
<g font-size="20.2" fill="#1c1c1c" stroke="#1c1c1c" stroke-width="0.08">
<text transform="translate(159.6 85.2) scale(1.066 1)">Gene-based test, combined</text>
<text transform="translate(159.6 109.5) scale(1.066 1)">Gene-based test, combined, after pruning</text>
<text transform="translate(159.6 133.9) scale(1.066 1)">Significance level (P = 2.5e-6)</text>
<text transform="translate(159.6 158.2) scale(1.066 1)">Suggestive level (P = 2.5e-5)</text>
</g>
<g font-size="23.8" fill="#1c1c1c" text-anchor="middle">
<text transform="translate(67.0 522.4) scale(1.066 1) rotate(-90)">0</text>
<text transform="translate(67.0 449.8) scale(1.066 1) rotate(-90)">5</text>
<text transform="translate(67.0 377.1) scale(1.066 1) rotate(-90)">10</text>
<text transform="translate(67.0 304.4) scale(1.066 1) rotate(-90)">15</text>
<text transform="translate(67.0 231.8) scale(1.066 1) rotate(-90)">20</text>
<text transform="translate(67.0 159.1) scale(1.066 1) rotate(-90)">25</text>
<text transform="translate(67.0 86.5) scale(1.066 1) rotate(-90)">30</text>
<text transform="translate(20.0 297) scale(1.066 1) rotate(-90)">Regional -log10 P value</text>
</g>
<g font-size="17.5" fill="#1c1c1c" text-anchor="middle">
<text transform="translate(258 581) scale(1.066 1)">1</text>
<text transform="translate(409 581) scale(1.066 1)">2</text>
<text transform="translate(517 581) scale(1.066 1)">3</text>
<text transform="translate(603 581) scale(1.066 1)">4</text>
<text transform="translate(679 581) scale(1.066 1)">5</text>
<text transform="translate(768 581) scale(1.066 1)">6</text>
<text transform="translate(858 581) scale(1.066 1)">7</text>
<text transform="translate(931 581) scale(1.066 1)">8</text>
<text transform="translate(997 581) scale(1.066 1)">9</text>
<text transform="translate(1068 581) scale(1.066 1)">10</text>
<text transform="translate(1161 581) scale(1.066 1)">11</text>
<text transform="translate(1271 581) scale(1.066 1)">12</text>
<text transform="translate(1335 581) scale(1.066 1)">13</text>
<text transform="translate(1379 581) scale(1.066 1)">14</text>
<text transform="translate(1434 581) scale(1.066 1)">15</text>
<text transform="translate(1498 581) scale(1.066 1)">16</text>
<text transform="translate(1590 581) scale(1.066 1)">17</text>
<text transform="translate(1657 581) scale(1.066 1)">18</text>
<text transform="translate(1736 581) scale(1.066 1)">19</text>
<text transform="translate(1827 581) scale(1.066 1)">20</text>
<text transform="translate(1861 581) scale(1.066 1)">21</text>
<text transform="translate(1892 581) scale(1.066 1)">22</text>
</g>
<text transform="translate(1038.5 624.5) scale(1.066 1)" font-size="23.8" fill="#1c1c1c" text-anchor="middle">Chromosome</text>
</g></defs>
<use href="#pa" filter="url(#bl)"/><use href="#pa" opacity="0.5"/>
<g font-size="41.6" fill="#050505">
<text transform="translate(86.6 23.2) scale(0.88 1)">a</text><text x="87" y="696.3">b</text><text x="662.2" y="696.5">c</text><text x="1079.8" y="696.5">d</text><text x="1520.4" y="696.5">e</text>
</g>
<defs><g id="pb">
<g>
<rect x="89.6" y="989.8" width="74.4" height="102.8" fill="#969696"/>
<rect x="164" y="946.9" width="74.5" height="145.7" fill="#595959"/>
<path d="M126.2 976.2V1003.3M122 976.2h8.4M122 1003.3h8.4" stroke="#5a5a5a" stroke-width="1.6" fill="none"/>
<path d="M200.9 935.2V958.5M196.8 935.2h8.4M196.8 958.5h8.4" stroke="#5a5a5a" stroke-width="1.6" fill="none"/>
<rect x="293.6" y="855.3" width="73.7" height="237.3" fill="#969696"/>
<rect x="367.3" y="972.1" width="74.4" height="120.5" fill="#595959"/>
<path d="M329.9 840.7V870M325.7 840.7h8.4M325.7 870h8.4" stroke="#5a5a5a" stroke-width="1.6" fill="none"/>
<path d="M404.2 960.8V983.4M400 960.8h8.4M400 983.4h8.4" stroke="#5a5a5a" stroke-width="1.6" fill="none"/>
<rect x="497.3" y="1058" width="74.7" height="34.6" fill="#969696"/>
<rect x="572" y="983.4" width="73.8" height="109.2" fill="#595959"/>
<path d="M534 1049.1V1066.8M529.8 1049.1h8.4M529.8 1066.8h8.4" stroke="#5a5a5a" stroke-width="1.6" fill="none"/>
<path d="M608.6 972.5V994.3M604.4 972.5h8.4M604.4 994.3h8.4" stroke="#5a5a5a" stroke-width="1.6" fill="none"/>
<path d="M62.6 716V1092.8M57 1092.8H673" stroke="#606060" stroke-width="1.9" fill="none"/>
<path d="M57 1093H62.3M57 1055.3H62.3M57 1017.7H62.3M57 980H62.3M57 942.4H62.3M57 904.7H62.3M57 867H62.3M57 829.4H62.3M57 791.7H62.3M57 754.1H62.3M57 716.4H62.3" stroke="#606060" stroke-width="1.8" fill="none"/>
<g font-size="15.8" fill="#303030" stroke="#303030" stroke-width="0.15" letter-spacing="0.6" text-anchor="end">
<text x="48.4" y="1097.9">0</text>
<text x="48.4" y="1060.2">0,1</text>
<text x="48.4" y="1022.6">0,2</text>
<text x="48.4" y="984.9">0,3</text>
<text x="48.4" y="947.3">0,4</text>
<text x="48.4" y="909.6">0,5</text>
<text x="48.4" y="871.9">0,6</text>
<text x="48.4" y="834.3">0,7</text>
<text x="48.4" y="796.6">0,8</text>
<text x="48.4" y="759">0,9</text>
<text x="48.4" y="721.3">1</text>
</g>
<g font-size="15" fill="#303030" stroke="#303030" stroke-width="0.3" text-anchor="middle">
<text x="164.3" y="1117.3">1</text>
<text x="367.3" y="1117.3">2</text>
<text x="571.5" y="1117.3">3</text>
</g>
</g>
<g>
<g id="ec" fill="none" stroke="#000" stroke-width="3.3">
<ellipse cx="756.3" cy="841" rx="118.5" ry="65.5"/>
<ellipse cx="893.7" cy="886" rx="113.3" ry="103.7"/>
<ellipse cx="802.7" cy="931.7" rx="108.3" ry="101.3"/>
</g>
<g font-size="25.8" fill="#1e1e1e">
<text x="675.6" y="760.7">Coding</text><text x="856.3" y="760.7">Non-coding</text><text x="751" y="1071.5" font-size="26.4">All SNPs</text>
</g>
<g font-size="24" fill="#1e1e1e" text-anchor="middle">
<text x="720" y="820.6">4</text>
<text x="959.5" y="850.6">1</text>
<text x="739.5" y="888.6">1</text>
<text x="810.5" y="882.2">3</text>
<text x="862.6" y="938.1">136</text>
<text x="770.7" y="991.1">7</text>
</g>
<g id="ed" fill="none" stroke="#000" stroke-width="3.3" clip-path="url(#cpd)">
<ellipse cx="1176" cy="840" rx="118.3" ry="66"/>
<ellipse cx="1300.2" cy="884.6" rx="99.2" ry="103.8"/>
<ellipse cx="1223.2" cy="936.7" rx="107.1" ry="101.4"/>
</g>
<g font-size="25.8" fill="#1e1e1e" clip-path="url(#cpd)">
<text x="1094.2" y="760.7">Coding</text><text x="1298.4" y="760.7">Non-coding</text><text x="1170" y="1071.5" font-size="26.4">All SNPs</text>
</g>
<g font-size="24" fill="#1e1e1e" text-anchor="middle">
<text x="1147.6" y="818.6">11</text>
<text x="1348.4" y="858.6">2</text>
<text x="1172.6" y="886">3</text>
<text x="1231" y="881">1</text>
<text x="1282" y="937.3">21</text>
</g>
</g>
<g>
<rect x="1543.3" y="941.4" width="64" height="146.3" fill="#969696"/>
<rect x="1607.3" y="863.6" width="62.3" height="224.1" fill="#595959"/>
<path d="M1574.9 912.1V970.7M1570.6 912.1h8.6M1570.6 970.7h8.6" stroke="#5a5a5a" stroke-width="1.7" fill="none"/>
<path d="M1638.4 834V893.2M1634.1 834h8.6M1634.1 893.2h8.6" stroke="#5a5a5a" stroke-width="1.7" fill="none"/>
<rect x="1809.3" y="1068.1" width="64" height="19.6" fill="#969696"/>
<rect x="1873.3" y="737.7" width="63.1" height="350" fill="#595959"/>
<path d="M1840.9 1061V1075.1M1836.6 1061h8.6M1836.6 1075.1h8.6" stroke="#5a5a5a" stroke-width="1.7" fill="none"/>
<path d="M1904.8 730.3V745.1M1900.5 730.3h8.6M1900.5 745.1h8.6" stroke="#5a5a5a" stroke-width="1.7" fill="none"/>
<path d="M1473.3 717.6V1087.7H2007" stroke="#262626" stroke-width="2.1" fill="none"/>
<g font-size="19" fill="#262626" stroke="#262626" stroke-width="0.4" letter-spacing="0.8" text-anchor="end">
<text x="1458.6" y="1092.6">0</text>
<text x="1458.6" y="1055.6">0,1</text>
<text x="1458.6" y="1018.5">0,2</text>
<text x="1458.6" y="981.5">0,3</text>
<text x="1458.6" y="944.4">0,4</text>
<text x="1458.6" y="907.4">0,5</text>
<text x="1458.6" y="870.4">0,6</text>
<text x="1458.6" y="833.3">0,7</text>
<text x="1458.6" y="796.3">0,8</text>
<text x="1458.6" y="759.2">0,9</text>
<text x="1458.6" y="722.2">1</text>
</g>
<g font-size="23" fill="#262626" stroke="#262626" stroke-width="0.4" text-anchor="middle">
<text x="1606.4" y="1120.5">new</text><text x="1872.4" y="1120.5">known</text>
</g>
</g>
</g></defs>
<use href="#pb" filter="url(#bl)"/><use href="#pb" opacity="0.45"/><use href="#ec" opacity="0.6"/><use href="#ed" opacity="0.6"/>
</svg>
</body></html>
